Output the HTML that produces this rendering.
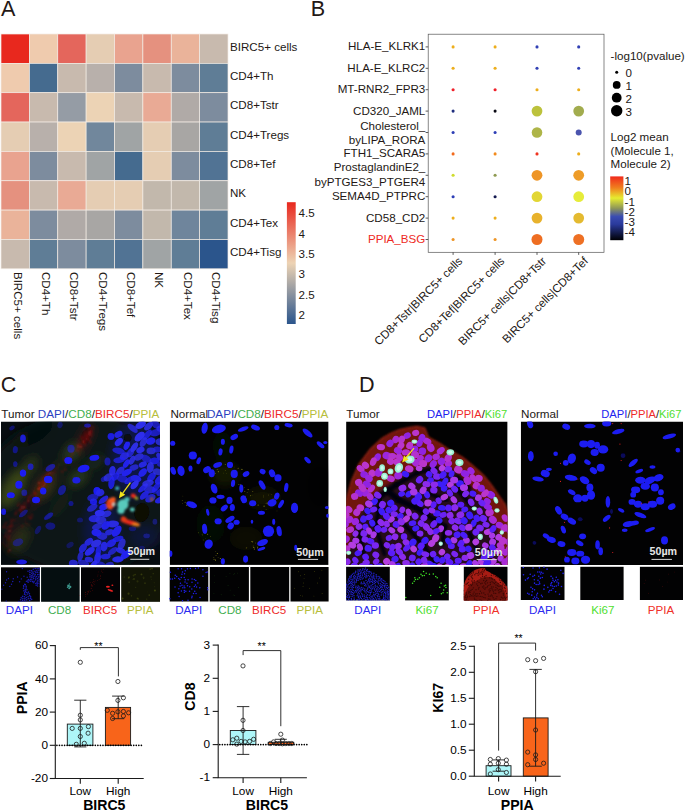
<!DOCTYPE html>
<html><head><meta charset="utf-8"><title>Figure</title>
<style>html,body{margin:0;padding:0;background:#fff}svg{display:block}text{font-family:"Liberation Sans",sans-serif}</style></head>
<body>
<svg width="685" height="812" viewBox="0 0 685 812">
<rect width="685" height="812" fill="#fff"/>
<text x="0.9" y="16.3" font-size="21.6" fill="#231815">A</text>
<g id="pa">
<rect x="1" y="34" width="28.38" height="29.35" fill="#E8281E" stroke="#f3ece4" stroke-width="0.7"/>
<rect x="29.38" y="34" width="28.38" height="29.35" fill="#EFCBAE" stroke="#f3ece4" stroke-width="0.7"/>
<rect x="57.75" y="34" width="28.38" height="29.35" fill="#E4665C" stroke="#f3ece4" stroke-width="0.7"/>
<rect x="86.12" y="34" width="28.38" height="29.35" fill="#E5CDB3" stroke="#f3ece4" stroke-width="0.7"/>
<rect x="114.5" y="34" width="28.38" height="29.35" fill="#E9A38F" stroke="#f3ece4" stroke-width="0.7"/>
<rect x="142.88" y="34" width="28.38" height="29.35" fill="#E5917F" stroke="#f3ece4" stroke-width="0.7"/>
<rect x="171.25" y="34" width="28.38" height="29.35" fill="#EAB39A" stroke="#f3ece4" stroke-width="0.7"/>
<rect x="199.62" y="34" width="28.38" height="29.35" fill="#C8BAAE" stroke="#f3ece4" stroke-width="0.7"/>
<rect x="1" y="63.35" width="28.38" height="29.35" fill="#EFCBAE" stroke="#f3ece4" stroke-width="0.7"/>
<rect x="29.38" y="63.35" width="28.38" height="29.35" fill="#456B8F" stroke="#f3ece4" stroke-width="0.7"/>
<rect x="57.75" y="63.35" width="28.38" height="29.35" fill="#C8BAAE" stroke="#f3ece4" stroke-width="0.7"/>
<rect x="86.12" y="63.35" width="28.38" height="29.35" fill="#B8B0AB" stroke="#f3ece4" stroke-width="0.7"/>
<rect x="114.5" y="63.35" width="28.38" height="29.35" fill="#7D8C9E" stroke="#f3ece4" stroke-width="0.7"/>
<rect x="142.88" y="63.35" width="28.38" height="29.35" fill="#C8BAAE" stroke="#f3ece4" stroke-width="0.7"/>
<rect x="171.25" y="63.35" width="28.38" height="29.35" fill="#7D8C9E" stroke="#f3ece4" stroke-width="0.7"/>
<rect x="199.62" y="63.35" width="28.38" height="29.35" fill="#5F7D96" stroke="#f3ece4" stroke-width="0.7"/>
<rect x="1" y="92.7" width="28.38" height="29.35" fill="#E4665C" stroke="#f3ece4" stroke-width="0.7"/>
<rect x="29.38" y="92.7" width="28.38" height="29.35" fill="#C8BAAE" stroke="#f3ece4" stroke-width="0.7"/>
<rect x="57.75" y="92.7" width="28.38" height="29.35" fill="#959CA5" stroke="#f3ece4" stroke-width="0.7"/>
<rect x="86.12" y="92.7" width="28.38" height="29.35" fill="#ECD3B5" stroke="#f3ece4" stroke-width="0.7"/>
<rect x="114.5" y="92.7" width="28.38" height="29.35" fill="#C8BAAE" stroke="#f3ece4" stroke-width="0.7"/>
<rect x="142.88" y="92.7" width="28.38" height="29.35" fill="#E9AA95" stroke="#f3ece4" stroke-width="0.7"/>
<rect x="171.25" y="92.7" width="28.38" height="29.35" fill="#B0AAA7" stroke="#f3ece4" stroke-width="0.7"/>
<rect x="199.62" y="92.7" width="28.38" height="29.35" fill="#7D8C9E" stroke="#f3ece4" stroke-width="0.7"/>
<rect x="1" y="122.05" width="28.38" height="29.35" fill="#E5CDB3" stroke="#f3ece4" stroke-width="0.7"/>
<rect x="29.38" y="122.05" width="28.38" height="29.35" fill="#B8B0AB" stroke="#f3ece4" stroke-width="0.7"/>
<rect x="57.75" y="122.05" width="28.38" height="29.35" fill="#ECD3B5" stroke="#f3ece4" stroke-width="0.7"/>
<rect x="86.12" y="122.05" width="28.38" height="29.35" fill="#71879C" stroke="#f3ece4" stroke-width="0.7"/>
<rect x="114.5" y="122.05" width="28.38" height="29.35" fill="#A0A4A5" stroke="#f3ece4" stroke-width="0.7"/>
<rect x="142.88" y="122.05" width="28.38" height="29.35" fill="#E5CDB3" stroke="#f3ece4" stroke-width="0.7"/>
<rect x="171.25" y="122.05" width="28.38" height="29.35" fill="#A8A6A4" stroke="#f3ece4" stroke-width="0.7"/>
<rect x="199.62" y="122.05" width="28.38" height="29.35" fill="#5F7D96" stroke="#f3ece4" stroke-width="0.7"/>
<rect x="1" y="151.4" width="28.38" height="29.35" fill="#E9A38F" stroke="#f3ece4" stroke-width="0.7"/>
<rect x="29.38" y="151.4" width="28.38" height="29.35" fill="#7D8C9E" stroke="#f3ece4" stroke-width="0.7"/>
<rect x="57.75" y="151.4" width="28.38" height="29.35" fill="#C8BAAE" stroke="#f3ece4" stroke-width="0.7"/>
<rect x="86.12" y="151.4" width="28.38" height="29.35" fill="#A0A4A5" stroke="#f3ece4" stroke-width="0.7"/>
<rect x="114.5" y="151.4" width="28.38" height="29.35" fill="#456B8F" stroke="#f3ece4" stroke-width="0.7"/>
<rect x="142.88" y="151.4" width="28.38" height="29.35" fill="#E5CDB3" stroke="#f3ece4" stroke-width="0.7"/>
<rect x="171.25" y="151.4" width="28.38" height="29.35" fill="#7D8C9E" stroke="#f3ece4" stroke-width="0.7"/>
<rect x="199.62" y="151.4" width="28.38" height="29.35" fill="#517394" stroke="#f3ece4" stroke-width="0.7"/>
<rect x="1" y="180.75" width="28.38" height="29.35" fill="#E5917F" stroke="#f3ece4" stroke-width="0.7"/>
<rect x="29.38" y="180.75" width="28.38" height="29.35" fill="#C8BAAE" stroke="#f3ece4" stroke-width="0.7"/>
<rect x="57.75" y="180.75" width="28.38" height="29.35" fill="#E9AA95" stroke="#f3ece4" stroke-width="0.7"/>
<rect x="86.12" y="180.75" width="28.38" height="29.35" fill="#E5CDB3" stroke="#f3ece4" stroke-width="0.7"/>
<rect x="114.5" y="180.75" width="28.38" height="29.35" fill="#E5CDB3" stroke="#f3ece4" stroke-width="0.7"/>
<rect x="142.88" y="180.75" width="28.38" height="29.35" fill="#C2B8AC" stroke="#f3ece4" stroke-width="0.7"/>
<rect x="171.25" y="180.75" width="28.38" height="29.35" fill="#C2B8AC" stroke="#f3ece4" stroke-width="0.7"/>
<rect x="199.62" y="180.75" width="28.38" height="29.35" fill="#A0A4A5" stroke="#f3ece4" stroke-width="0.7"/>
<rect x="1" y="210.1" width="28.38" height="29.35" fill="#EAB39A" stroke="#f3ece4" stroke-width="0.7"/>
<rect x="29.38" y="210.1" width="28.38" height="29.35" fill="#7D8C9E" stroke="#f3ece4" stroke-width="0.7"/>
<rect x="57.75" y="210.1" width="28.38" height="29.35" fill="#B0AAA7" stroke="#f3ece4" stroke-width="0.7"/>
<rect x="86.12" y="210.1" width="28.38" height="29.35" fill="#A8A6A4" stroke="#f3ece4" stroke-width="0.7"/>
<rect x="114.5" y="210.1" width="28.38" height="29.35" fill="#7D8C9E" stroke="#f3ece4" stroke-width="0.7"/>
<rect x="142.88" y="210.1" width="28.38" height="29.35" fill="#C2B8AC" stroke="#f3ece4" stroke-width="0.7"/>
<rect x="171.25" y="210.1" width="28.38" height="29.35" fill="#6F859C" stroke="#f3ece4" stroke-width="0.7"/>
<rect x="199.62" y="210.1" width="28.38" height="29.35" fill="#5F7D96" stroke="#f3ece4" stroke-width="0.7"/>
<rect x="1" y="239.45" width="28.38" height="29.35" fill="#C8BAAE" stroke="#f3ece4" stroke-width="0.7"/>
<rect x="29.38" y="239.45" width="28.38" height="29.35" fill="#5F7D96" stroke="#f3ece4" stroke-width="0.7"/>
<rect x="57.75" y="239.45" width="28.38" height="29.35" fill="#7D8C9E" stroke="#f3ece4" stroke-width="0.7"/>
<rect x="86.12" y="239.45" width="28.38" height="29.35" fill="#5F7D96" stroke="#f3ece4" stroke-width="0.7"/>
<rect x="114.5" y="239.45" width="28.38" height="29.35" fill="#517394" stroke="#f3ece4" stroke-width="0.7"/>
<rect x="142.88" y="239.45" width="28.38" height="29.35" fill="#A0A4A5" stroke="#f3ece4" stroke-width="0.7"/>
<rect x="171.25" y="239.45" width="28.38" height="29.35" fill="#5F7D96" stroke="#f3ece4" stroke-width="0.7"/>
<rect x="199.62" y="239.45" width="28.38" height="29.35" fill="#2B558C" stroke="#f3ece4" stroke-width="0.7"/>
<text x="230.0" y="50.62" font-size="11.6" fill="#231815">BIRC5+ cells</text>
<text x="230.0" y="79.98" font-size="11.6" fill="#231815">CD4+Th</text>
<text x="230.0" y="109.33" font-size="11.6" fill="#231815">CD8+Tstr</text>
<text x="230.0" y="138.68" font-size="11.6" fill="#231815">CD4+Tregs</text>
<text x="230.0" y="168.03" font-size="11.6" fill="#231815">CD8+Tef</text>
<text x="230.0" y="197.38" font-size="11.6" fill="#231815">NK</text>
<text x="230.0" y="226.72" font-size="11.6" fill="#231815">CD4+Tex</text>
<text x="230.0" y="256.07" font-size="11.6" fill="#231815">CD4+Tisg</text>
<text transform="translate(13.59,271.9) rotate(90)" font-size="11.6" fill="#231815">BIRC5+ cells</text>
<text transform="translate(41.96,271.9) rotate(90)" font-size="11.6" fill="#231815">CD4+Th</text>
<text transform="translate(70.34,271.9) rotate(90)" font-size="11.6" fill="#231815">CD8+Tstr</text>
<text transform="translate(98.71,271.9) rotate(90)" font-size="11.6" fill="#231815">CD4+Tregs</text>
<text transform="translate(127.09,271.9) rotate(90)" font-size="11.6" fill="#231815">CD8+Tef</text>
<text transform="translate(155.46,271.9) rotate(90)" font-size="11.6" fill="#231815">NK</text>
<text transform="translate(183.84,271.9) rotate(90)" font-size="11.6" fill="#231815">CD4+Tex</text>
<text transform="translate(212.21,271.9) rotate(90)" font-size="11.6" fill="#231815">CD4+Tisg</text>
<defs><linearGradient id="hg" x1="0" y1="0" x2="0" y2="1"><stop offset="0" stop-color="#E8281E"/><stop offset="0.5" stop-color="#EDD3B4"/><stop offset="1" stop-color="#2B558C"/></linearGradient></defs>
<rect x="286.9" y="202.2" width="8.8" height="121.8" fill="url(#hg)"/>
<text x="298.6" y="217.4" font-size="11.6" fill="#231815">4.5</text>
<text x="298.6" y="237.7" font-size="11.6" fill="#231815">4</text>
<text x="298.6" y="258.1" font-size="11.6" fill="#231815">3.5</text>
<text x="298.6" y="278.4" font-size="11.6" fill="#231815">3</text>
<text x="298.6" y="298.8" font-size="11.6" fill="#231815">2.5</text>
<text x="298.6" y="319.1" font-size="11.6" fill="#231815">2</text>
</g>
<text x="310.8" y="16.3" font-size="21.6" fill="#231815">B</text>
<g id="pb">
<rect x="428.2" y="34.2" width="175.8" height="218.1" fill="#fff" stroke="#555" stroke-width="0.7"/>
<line x1="425.59999999999997" y1="46.9" x2="428.2" y2="46.9" stroke="#333" stroke-width="0.8"/>
<text x="425.3" y="50.3" font-size="11.6" text-anchor="end" fill="#231815">HLA-E_KLRK1</text>
<line x1="425.59999999999997" y1="68.3" x2="428.2" y2="68.3" stroke="#333" stroke-width="0.8"/>
<text x="425.3" y="71.7" font-size="11.6" text-anchor="end" fill="#231815">HLA-E_KLRC2</text>
<line x1="425.59999999999997" y1="89.7" x2="428.2" y2="89.7" stroke="#333" stroke-width="0.8"/>
<text x="425.3" y="93.1" font-size="11.6" text-anchor="end" fill="#231815">MT-RNR2_FPR3</text>
<line x1="425.59999999999997" y1="111.1" x2="428.2" y2="111.1" stroke="#333" stroke-width="0.8"/>
<text x="425.3" y="114.5" font-size="11.6" text-anchor="end" fill="#231815">CD320_JAML</text>
<line x1="425.59999999999997" y1="132.5" x2="428.2" y2="132.5" stroke="#333" stroke-width="0.8"/>
<text x="425.3" y="130.2" font-size="11.6" text-anchor="end" fill="#231815">Cholesterol_</text>
<text x="425.3" y="143.8" font-size="11.6" text-anchor="end" fill="#231815">byLIPA_RORA</text>
<line x1="425.59999999999997" y1="153.9" x2="428.2" y2="153.9" stroke="#333" stroke-width="0.8"/>
<text x="425.3" y="157.3" font-size="11.6" text-anchor="end" fill="#231815">FTH1_SCARA5</text>
<line x1="425.59999999999997" y1="175.3" x2="428.2" y2="175.3" stroke="#333" stroke-width="0.8"/>
<text x="425.3" y="171.1" font-size="11.6" text-anchor="end" fill="#231815">ProstaglandinE2_</text>
<text x="425.3" y="186" font-size="11.6" text-anchor="end" fill="#231815">byPTGES3_PTGER4</text>
<line x1="425.59999999999997" y1="196.7" x2="428.2" y2="196.7" stroke="#333" stroke-width="0.8"/>
<text x="425.3" y="200.1" font-size="11.6" text-anchor="end" fill="#231815">SEMA4D_PTPRC</text>
<line x1="425.59999999999997" y1="218.1" x2="428.2" y2="218.1" stroke="#333" stroke-width="0.8"/>
<text x="425.3" y="221.5" font-size="11.6" text-anchor="end" fill="#231815">CD58_CD2</text>
<line x1="425.59999999999997" y1="239.5" x2="428.2" y2="239.5" stroke="#333" stroke-width="0.8"/>
<text x="425.3" y="242.9" font-size="11.6" text-anchor="end" fill="#EE2A24">PPIA_BSG</text>
<circle cx="453.1" cy="46.9" r="1.55" fill="#EDAE1C"/>
<circle cx="495.1" cy="46.9" r="1.55" fill="#EDAE1C"/>
<circle cx="537" cy="46.9" r="1.55" fill="#3140B4"/>
<circle cx="578.7" cy="46.9" r="1.55" fill="#3140B4"/>
<circle cx="453.1" cy="68.3" r="1.55" fill="#EDAE1C"/>
<circle cx="495.1" cy="68.3" r="1.55" fill="#EDAE1C"/>
<circle cx="537" cy="68.3" r="1.55" fill="#3140B4"/>
<circle cx="578.7" cy="68.3" r="1.55" fill="#3140B4"/>
<circle cx="453.1" cy="89.7" r="1.55" fill="#F0202A"/>
<circle cx="495.1" cy="89.7" r="1.55" fill="#F0202A"/>
<circle cx="537" cy="89.7" r="1.55" fill="#EDAE1C"/>
<circle cx="578.7" cy="89.7" r="1.55" fill="#EDAE1C"/>
<circle cx="453.1" cy="111.1" r="1.55" fill="#1F2E7E"/>
<circle cx="495.1" cy="111.1" r="1.55" fill="#0A0A14"/>
<circle cx="537" cy="111.1" r="5.4" fill="#BCC23C"/>
<circle cx="578.7" cy="111.1" r="5.4" fill="#A2AC4E"/>
<circle cx="453.1" cy="132.5" r="1.55" fill="#2E3FB6"/>
<circle cx="495.1" cy="132.5" r="1.55" fill="#2E3FB6"/>
<circle cx="537" cy="132.5" r="5.3" fill="#AEB548"/>
<circle cx="578.7" cy="132.5" r="3.0" fill="#4B54AE"/>
<circle cx="453.1" cy="153.9" r="1.55" fill="#F26A1C"/>
<circle cx="495.1" cy="153.9" r="1.55" fill="#F28A1C"/>
<circle cx="537" cy="153.9" r="1.55" fill="#F03420"/>
<circle cx="578.7" cy="153.9" r="1.55" fill="#EDAE1C"/>
<circle cx="453.1" cy="175.3" r="1.55" fill="#CFDC2E"/>
<circle cx="495.1" cy="175.3" r="1.55" fill="#8F9A52"/>
<circle cx="537" cy="175.3" r="5.4" fill="#EE9526"/>
<circle cx="578.7" cy="175.3" r="5.4" fill="#EE9C28"/>
<circle cx="453.1" cy="196.7" r="1.55" fill="#2E3FB6"/>
<circle cx="495.1" cy="196.7" r="1.55" fill="#141A50"/>
<circle cx="537" cy="196.7" r="5.4" fill="#E2D634"/>
<circle cx="578.7" cy="196.7" r="5.4" fill="#E6EC3A"/>
<circle cx="453.1" cy="218.1" r="1.55" fill="#EDAE1C"/>
<circle cx="495.1" cy="218.1" r="1.55" fill="#EDAE1C"/>
<circle cx="537" cy="218.1" r="5.4" fill="#E8B22C"/>
<circle cx="578.7" cy="218.1" r="5.4" fill="#E4BA30"/>
<circle cx="453.1" cy="239.5" r="1.55" fill="#EE9526"/>
<circle cx="495.1" cy="239.5" r="1.55" fill="#EE9526"/>
<circle cx="537" cy="239.5" r="5.5" fill="#EE6E22"/>
<circle cx="578.7" cy="239.5" r="5.5" fill="#EE7024"/>
<line x1="453.1" y1="252.3" x2="453.1" y2="254.9" stroke="#333" stroke-width="0.8"/>
<text transform="translate(463.2,261.8) rotate(-45)" font-size="11.6" text-anchor="end" fill="#231815">CD8+Tstr|BIRC5+ cells</text>
<line x1="495.1" y1="252.3" x2="495.1" y2="254.9" stroke="#333" stroke-width="0.8"/>
<text transform="translate(505.2,261.8) rotate(-45)" font-size="11.6" text-anchor="end" fill="#231815">CD8+Tef|BIRC5+ cells</text>
<line x1="537" y1="252.3" x2="537" y2="254.9" stroke="#333" stroke-width="0.8"/>
<text transform="translate(547.1,261.8) rotate(-45)" font-size="11.6" text-anchor="end" fill="#231815">BIRC5+ cells|CD8+Tstr</text>
<line x1="578.7" y1="252.3" x2="578.7" y2="254.9" stroke="#333" stroke-width="0.8"/>
<text transform="translate(588.8,261.8) rotate(-45)" font-size="11.6" text-anchor="end" fill="#231815">BIRC5+ cells|CD8+Tef</text>
<text x="610.6" y="59.7" font-size="11.6" fill="#231815">-log10(pvalue)</text>
<circle cx="616.7" cy="72.3" r="1.5" fill="#000"/>
<text x="625.6" y="77.3" font-size="11.6" fill="#231815">0</text>
<circle cx="616.7" cy="84.9" r="3.9" fill="#000"/>
<text x="625.6" y="89.9" font-size="11.6" fill="#231815">1</text>
<circle cx="616.7" cy="97.7" r="4.9" fill="#000"/>
<text x="625.6" y="102.7" font-size="11.6" fill="#231815">2</text>
<circle cx="616.7" cy="110.8" r="5.7" fill="#000"/>
<text x="625.6" y="115.8" font-size="11.6" fill="#231815">3</text>
<text x="610.6" y="140.5" font-size="11.6" fill="#231815">Log2 mean</text>
<text x="610.6" y="154.5" font-size="11.6" fill="#231815">(Molecule 1,</text>
<text x="610.6" y="168.4" font-size="11.6" fill="#231815">Molecule 2)</text>
<defs><linearGradient id="bg2" x1="0" y1="0" x2="0" y2="1"><stop offset="0" stop-color="#F02A1C"/><stop offset="0.18" stop-color="#F0801E"/><stop offset="0.34" stop-color="#E6EC30"/><stop offset="0.50" stop-color="#8E9658"/><stop offset="0.63" stop-color="#3A4CB2"/><stop offset="0.75" stop-color="#2A3A9C"/><stop offset="0.88" stop-color="#141C4C"/><stop offset="1" stop-color="#000004"/></linearGradient></defs>
<rect x="610.2" y="176.4" width="13.2" height="63.8" fill="url(#bg2)"/>
<text x="624.6" y="185.2" font-size="11.6" fill="#231815">1</text>
<text x="624.6" y="195.4" font-size="11.6" fill="#231815">0</text>
<text x="624.6" y="205.5" font-size="11.6" fill="#231815">-1</text>
<text x="624.6" y="215.6" font-size="11.6" fill="#231815">-2</text>
<text x="624.6" y="225.8" font-size="11.6" fill="#231815">-3</text>
<text x="624.6" y="235.9" font-size="11.6" fill="#231815">-4</text>
</g>
<text x="0.7" y="392.1" font-size="21.6" fill="#231815">C</text>
<text x="359" y="392" font-size="21.6" fill="#231815">D</text>
<defs><filter id="b1" x="-20%" y="-20%" width="140%" height="140%"><feGaussianBlur stdDeviation="0.55"/></filter><filter id="b2" x="-30%" y="-30%" width="160%" height="160%"><feGaussianBlur stdDeviation="1.6"/></filter><filter id="b3" x="-30%" y="-30%" width="160%" height="160%"><feGaussianBlur stdDeviation="5"/></filter><filter id="b0" x="-20%" y="-20%" width="140%" height="140%"><feGaussianBlur stdDeviation="0.8"/></filter></defs>
<text x="1.2" y="417.8" font-size="11.7" xml:space="preserve"><tspan fill="#231815">Tumor </tspan><tspan fill="#2B3FBF">DAPI</tspan><tspan fill="#231815">/</tspan><tspan fill="#3FAE4F">CD8</tspan><tspan fill="#231815">/</tspan><tspan fill="#EE2A2A">BIRC5</tspan><tspan fill="#231815">/</tspan><tspan fill="#B7BE3C">PPIA</tspan></text>
<defs><clipPath id="cct"><rect x="1" y="421.5" width="159" height="143.4"/></clipPath></defs>
<g clip-path="url(#cct)"><rect x="1.0" y="421.5" width="159.0" height="143.4" fill="#070d10"/>
<g filter="url(#b3)">
<ellipse cx="80" cy="493" rx="95" ry="80" fill="#0a1618" opacity="0.9"/>
<ellipse cx="13" cy="488" rx="8" ry="20" fill="#566414" opacity="0.65" transform="rotate(30 13 488)"/>
<ellipse cx="44" cy="487" rx="7" ry="15" fill="#5a5a14" opacity="0.6" transform="rotate(35 44 487)"/>
<ellipse cx="30" cy="466" rx="5" ry="10" fill="#4a5414" opacity="0.55" transform="rotate(35 30 466)"/>
<ellipse cx="72" cy="452" rx="6" ry="10" fill="#46562a" opacity="0.6" transform="rotate(40 72 452)"/>
<ellipse cx="78" cy="478" rx="6" ry="11" fill="#46561e" opacity="0.55" transform="rotate(50 78 478)"/>
<ellipse cx="19" cy="540" rx="8" ry="15" fill="#3c4210" opacity="0.55" transform="rotate(30 19 540)"/>
<ellipse cx="22" cy="440" rx="5" ry="10" fill="#34441c" opacity="0.55" transform="rotate(30 22 440)"/>
<ellipse cx="95" cy="462" rx="5" ry="10" fill="#2c3c22" opacity="0.5" transform="rotate(50 95 462)"/>
<ellipse cx="56" cy="470" rx="4" ry="14" fill="#2c3a14" opacity="0.5" transform="rotate(35 56 470)"/>
<ellipse cx="60" cy="505" rx="5" ry="16" fill="#1e2a10" opacity="0.5" transform="rotate(35 60 505)"/>
<ellipse cx="136" cy="460" rx="24" ry="38" fill="#121a58" opacity="0.7"/>
<ellipse cx="102" cy="531" rx="17" ry="31" fill="#121a58" opacity="0.7"/>
<ellipse cx="145" cy="537" rx="16" ry="12" fill="#101848" opacity="0.6"/>
<ellipse cx="33" cy="434" rx="9" ry="22" fill="#04080a" opacity="0.6" transform="rotate(60 33 434)"/>
<ellipse cx="85" cy="438" rx="5" ry="15" fill="#5a0e0c" opacity="0.5" transform="rotate(25 85 438)"/>
<ellipse cx="40" cy="490" rx="5" ry="28" fill="#4a0c0c" opacity="0.4" transform="rotate(35 40 490)"/>
<ellipse cx="13" cy="532" rx="5" ry="18" fill="#440c0c" opacity="0.35" transform="rotate(30 13 532)"/>
</g>
<g filter="url(#b0)">
<circle cx="88.85" cy="438.76" r="0.38" fill="#d81818" opacity="0.64"/>
<circle cx="88.93" cy="437.82" r="0.37" fill="#d81818" opacity="0.6"/>
<circle cx="92.24" cy="432.21" r="0.72" fill="#d81818" opacity="0.46"/>
<circle cx="84.16" cy="429.82" r="0.61" fill="#d81818" opacity="0.58"/>
<circle cx="82.84" cy="450.44" r="0.48" fill="#d81818" opacity="0.46"/>
<circle cx="87.96" cy="435.89" r="0.43" fill="#d81818" opacity="0.66"/>
<circle cx="80.68" cy="444.45" r="0.38" fill="#d81818" opacity="0.43"/>
<circle cx="87.32" cy="431.34" r="0.49" fill="#d81818" opacity="0.66"/>
<circle cx="83.87" cy="442.57" r="0.66" fill="#d81818" opacity="0.51"/>
<circle cx="78.82" cy="440.25" r="0.68" fill="#d81818" opacity="0.53"/>
<circle cx="80.12" cy="450.83" r="0.69" fill="#d81818" opacity="0.47"/>
<circle cx="88.11" cy="440.15" r="0.69" fill="#d81818" opacity="0.66"/>
<circle cx="78.25" cy="450.42" r="0.62" fill="#d81818" opacity="0.66"/>
<circle cx="88.17" cy="433.83" r="0.56" fill="#d81818" opacity="0.7"/>
<circle cx="89.25" cy="427.42" r="0.8" fill="#d81818" opacity="0.77"/>
<circle cx="84.71" cy="437.49" r="0.36" fill="#d81818" opacity="0.61"/>
<circle cx="89.48" cy="433.39" r="0.7" fill="#d81818" opacity="0.46"/>
<circle cx="84.13" cy="437.47" r="0.39" fill="#d81818" opacity="0.6"/>
<circle cx="87.16" cy="437.58" r="0.74" fill="#d81818" opacity="0.53"/>
<circle cx="82.56" cy="441.62" r="0.78" fill="#d81818" opacity="0.47"/>
<circle cx="88.96" cy="434.72" r="0.57" fill="#d81818" opacity="0.67"/>
<circle cx="90.11" cy="434.81" r="0.52" fill="#d81818" opacity="0.65"/>
<circle cx="77.62" cy="445.97" r="0.63" fill="#d81818" opacity="0.7"/>
<circle cx="93.68" cy="428.12" r="0.74" fill="#d81818" opacity="0.76"/>
<circle cx="85.06" cy="438" r="0.64" fill="#d81818" opacity="0.43"/>
<circle cx="90.54" cy="432.18" r="0.5" fill="#d81818" opacity="0.42"/>
<circle cx="91.69" cy="430.36" r="0.51" fill="#d81818" opacity="0.41"/>
<circle cx="78.67" cy="446.16" r="0.46" fill="#d81818" opacity="0.56"/>
<circle cx="89.62" cy="439.99" r="0.8" fill="#d81818" opacity="0.61"/>
<circle cx="85.71" cy="439.75" r="0.5" fill="#d81818" opacity="0.52"/>
<circle cx="80.55" cy="446.56" r="0.78" fill="#d81818" opacity="0.64"/>
<circle cx="88.62" cy="432.26" r="0.59" fill="#d81818" opacity="0.84"/>
<circle cx="79.22" cy="445.08" r="0.52" fill="#d81818" opacity="0.48"/>
<circle cx="76.99" cy="444.14" r="0.5" fill="#d81818" opacity="0.5"/>
<circle cx="85.11" cy="445.34" r="0.71" fill="#d81818" opacity="0.77"/>
<circle cx="81.85" cy="447.16" r="0.51" fill="#d81818" opacity="0.41"/>
<circle cx="90.36" cy="431.82" r="0.66" fill="#d81818" opacity="0.83"/>
<circle cx="91.74" cy="435.74" r="0.78" fill="#d81818" opacity="0.56"/>
<circle cx="88.42" cy="435.44" r="0.44" fill="#d81818" opacity="0.68"/>
<circle cx="80.8" cy="445.28" r="0.64" fill="#d81818" opacity="0.76"/>
<circle cx="87.19" cy="426.77" r="0.7" fill="#d81818" opacity="0.74"/>
<circle cx="86.65" cy="442.83" r="0.5" fill="#d81818" opacity="0.76"/>
<circle cx="76.52" cy="450.45" r="0.78" fill="#d81818" opacity="0.73"/>
<circle cx="89.79" cy="433.85" r="0.76" fill="#d81818" opacity="0.76"/>
<circle cx="92.22" cy="426.52" r="0.65" fill="#d81818" opacity="0.56"/>
<circle cx="84.19" cy="440.78" r="0.79" fill="#d81818" opacity="0.69"/>
<circle cx="86.52" cy="439.03" r="0.74" fill="#d81818" opacity="0.77"/>
<circle cx="88.29" cy="435.67" r="0.46" fill="#d81818" opacity="0.66"/>
<circle cx="86.59" cy="435.29" r="0.76" fill="#d81818" opacity="0.56"/>
<circle cx="80.66" cy="436.11" r="0.54" fill="#d81818" opacity="0.81"/>
<circle cx="81.71" cy="438.97" r="0.36" fill="#d81818" opacity="0.6"/>
<circle cx="92.91" cy="433.25" r="0.43" fill="#d81818" opacity="0.61"/>
<circle cx="79.66" cy="443.31" r="0.58" fill="#d81818" opacity="0.65"/>
<circle cx="83.24" cy="447.1" r="0.46" fill="#d81818" opacity="0.52"/>
<circle cx="77.98" cy="444.84" r="0.69" fill="#d81818" opacity="0.81"/>
<circle cx="83.16" cy="436.55" r="0.58" fill="#d81818" opacity="0.71"/>
<circle cx="82.54" cy="437.99" r="0.77" fill="#d81818" opacity="0.71"/>
<circle cx="81.37" cy="446.43" r="0.6" fill="#d81818" opacity="0.82"/>
<circle cx="80.92" cy="447.26" r="0.55" fill="#d81818" opacity="0.43"/>
<circle cx="91.08" cy="435.86" r="0.7" fill="#d81818" opacity="0.8"/>
<circle cx="88.32" cy="429.17" r="0.41" fill="#d81818" opacity="0.8"/>
<circle cx="79.58" cy="454.64" r="0.53" fill="#d81818" opacity="0.62"/>
<circle cx="78.88" cy="448.14" r="0.54" fill="#d81818" opacity="0.63"/>
<circle cx="87.34" cy="438.23" r="0.67" fill="#d81818" opacity="0.41"/>
<circle cx="83.43" cy="440.76" r="0.5" fill="#d81818" opacity="0.68"/>
<circle cx="90.7" cy="442.46" r="0.7" fill="#d81818" opacity="0.84"/>
<circle cx="89.63" cy="432.24" r="0.7" fill="#d81818" opacity="0.52"/>
<circle cx="84.78" cy="434.51" r="0.72" fill="#d81818" opacity="0.52"/>
<circle cx="91.8" cy="430.97" r="0.67" fill="#d81818" opacity="0.44"/>
<circle cx="89.37" cy="428.31" r="0.38" fill="#d81818" opacity="0.82"/>
<circle cx="83.12" cy="441.28" r="0.74" fill="#d81818" opacity="0.43"/>
<circle cx="77.77" cy="447.42" r="0.6" fill="#d81818" opacity="0.82"/>
<circle cx="89.57" cy="436.95" r="0.46" fill="#d81818" opacity="0.45"/>
<circle cx="90.47" cy="433.2" r="0.49" fill="#d81818" opacity="0.54"/>
<circle cx="80.49" cy="447.43" r="0.43" fill="#d81818" opacity="0.56"/>
<circle cx="90.82" cy="430.24" r="0.68" fill="#d81818" opacity="0.65"/>
<circle cx="83.14" cy="434.14" r="0.4" fill="#d81818" opacity="0.77"/>
<circle cx="80.95" cy="438.29" r="0.53" fill="#d81818" opacity="0.63"/>
<circle cx="84.27" cy="443.05" r="0.72" fill="#d81818" opacity="0.72"/>
<circle cx="80.98" cy="443.48" r="0.37" fill="#d81818" opacity="0.46"/>
<circle cx="90.04" cy="429.07" r="0.42" fill="#d81818" opacity="0.44"/>
<circle cx="82.54" cy="443.81" r="0.48" fill="#d81818" opacity="0.51"/>
<circle cx="85.91" cy="435.7" r="0.55" fill="#d81818" opacity="0.52"/>
<circle cx="81.48" cy="448.29" r="0.46" fill="#d81818" opacity="0.83"/>
<circle cx="86.96" cy="435.77" r="0.52" fill="#d81818" opacity="0.61"/>
<circle cx="85.37" cy="442.24" r="0.35" fill="#d81818" opacity="0.52"/>
<circle cx="89.34" cy="431.67" r="0.36" fill="#d81818" opacity="0.54"/>
<circle cx="85.54" cy="432.65" r="0.69" fill="#d81818" opacity="0.7"/>
<circle cx="83.45" cy="442.24" r="0.5" fill="#d81818" opacity="0.84"/>
<circle cx="88.57" cy="429.11" r="0.37" fill="#d81818" opacity="0.78"/>
<circle cx="58.76" cy="465.01" r="0.72" fill="#d81818" opacity="0.46"/>
<circle cx="64.1" cy="459.98" r="0.71" fill="#d81818" opacity="0.77"/>
<circle cx="69.52" cy="459.29" r="0.66" fill="#d81818" opacity="0.5"/>
<circle cx="78.81" cy="451.69" r="0.4" fill="#d81818" opacity="0.78"/>
<circle cx="65.41" cy="458.65" r="0.66" fill="#d81818" opacity="0.62"/>
<circle cx="79.03" cy="446.25" r="0.58" fill="#d81818" opacity="0.64"/>
<circle cx="68.76" cy="464.22" r="0.46" fill="#d81818" opacity="0.43"/>
<circle cx="72.84" cy="453.47" r="0.68" fill="#d81818" opacity="0.84"/>
<circle cx="66.91" cy="461.13" r="0.66" fill="#d81818" opacity="0.75"/>
<circle cx="65.84" cy="461.3" r="0.42" fill="#d81818" opacity="0.51"/>
<circle cx="63.06" cy="467.1" r="0.36" fill="#d81818" opacity="0.43"/>
<circle cx="71.43" cy="452.09" r="0.65" fill="#d81818" opacity="0.53"/>
<circle cx="65.95" cy="460.47" r="0.4" fill="#d81818" opacity="0.8"/>
<circle cx="79.23" cy="452.89" r="0.36" fill="#d81818" opacity="0.61"/>
<circle cx="64.82" cy="465.59" r="0.47" fill="#d81818" opacity="0.49"/>
<circle cx="60.85" cy="471.3" r="0.41" fill="#d81818" opacity="0.64"/>
<circle cx="62.68" cy="471.64" r="0.58" fill="#d81818" opacity="0.8"/>
<circle cx="65.27" cy="468.22" r="0.57" fill="#d81818" opacity="0.41"/>
<circle cx="75.66" cy="449.76" r="0.49" fill="#d81818" opacity="0.46"/>
<circle cx="69.9" cy="460.21" r="0.35" fill="#d81818" opacity="0.74"/>
<circle cx="65.72" cy="469.76" r="0.67" fill="#d81818" opacity="0.81"/>
<circle cx="71.09" cy="456.92" r="0.8" fill="#d81818" opacity="0.67"/>
<circle cx="69.69" cy="457.56" r="0.37" fill="#d81818" opacity="0.45"/>
<circle cx="61.15" cy="471.21" r="0.46" fill="#d81818" opacity="0.52"/>
<circle cx="69.14" cy="461.75" r="0.78" fill="#d81818" opacity="0.8"/>
<circle cx="25.27" cy="495.99" r="0.77" fill="#d81818" opacity="0.65"/>
<circle cx="34.71" cy="497.11" r="0.55" fill="#d81818" opacity="0.74"/>
<circle cx="33.67" cy="493.95" r="0.77" fill="#d81818" opacity="0.46"/>
<circle cx="38.33" cy="488.47" r="0.68" fill="#d81818" opacity="0.84"/>
<circle cx="45.09" cy="477.71" r="0.6" fill="#d81818" opacity="0.58"/>
<circle cx="49.82" cy="477.04" r="0.76" fill="#d81818" opacity="0.62"/>
<circle cx="53.32" cy="473.76" r="0.55" fill="#d81818" opacity="0.46"/>
<circle cx="49.9" cy="477.77" r="0.39" fill="#d81818" opacity="0.51"/>
<circle cx="42.12" cy="477.26" r="0.69" fill="#d81818" opacity="0.59"/>
<circle cx="39.14" cy="484.53" r="0.5" fill="#d81818" opacity="0.43"/>
<circle cx="46.62" cy="479.62" r="0.58" fill="#d81818" opacity="0.68"/>
<circle cx="27.21" cy="502.96" r="0.46" fill="#d81818" opacity="0.58"/>
<circle cx="44.13" cy="484.83" r="0.74" fill="#d81818" opacity="0.41"/>
<circle cx="52.23" cy="466.47" r="0.56" fill="#d81818" opacity="0.66"/>
<circle cx="50.61" cy="472.74" r="0.72" fill="#d81818" opacity="0.78"/>
<circle cx="23.37" cy="506.33" r="0.42" fill="#d81818" opacity="0.64"/>
<circle cx="35.8" cy="493.45" r="0.64" fill="#d81818" opacity="0.74"/>
<circle cx="39.22" cy="486.24" r="0.7" fill="#d81818" opacity="0.5"/>
<circle cx="23.92" cy="501.96" r="0.41" fill="#d81818" opacity="0.51"/>
<circle cx="33.75" cy="492.01" r="0.38" fill="#d81818" opacity="0.64"/>
<circle cx="34.63" cy="492.02" r="0.62" fill="#d81818" opacity="0.4"/>
<circle cx="39.56" cy="482.04" r="0.64" fill="#d81818" opacity="0.8"/>
<circle cx="39.38" cy="488.69" r="0.78" fill="#d81818" opacity="0.72"/>
<circle cx="47.06" cy="481.28" r="0.65" fill="#d81818" opacity="0.59"/>
<circle cx="43.78" cy="474.89" r="0.45" fill="#d81818" opacity="0.42"/>
<circle cx="40.77" cy="483.61" r="0.44" fill="#d81818" opacity="0.76"/>
<circle cx="29.36" cy="496.72" r="0.79" fill="#d81818" opacity="0.54"/>
<circle cx="28.4" cy="501.23" r="0.69" fill="#d81818" opacity="0.53"/>
<circle cx="22.63" cy="504.6" r="0.45" fill="#d81818" opacity="0.59"/>
<circle cx="34.29" cy="493.68" r="0.53" fill="#d81818" opacity="0.5"/>
<circle cx="23.73" cy="505.92" r="0.38" fill="#d81818" opacity="0.58"/>
<circle cx="28.29" cy="500.29" r="0.8" fill="#d81818" opacity="0.82"/>
<circle cx="45.85" cy="486.32" r="0.69" fill="#d81818" opacity="0.41"/>
<circle cx="31.69" cy="495.45" r="0.5" fill="#d81818" opacity="0.48"/>
<circle cx="53.94" cy="471.72" r="0.78" fill="#d81818" opacity="0.46"/>
<circle cx="24.14" cy="506.95" r="0.72" fill="#d81818" opacity="0.77"/>
<circle cx="42.89" cy="486.26" r="0.52" fill="#d81818" opacity="0.81"/>
<circle cx="45.25" cy="480.16" r="0.36" fill="#d81818" opacity="0.58"/>
<circle cx="28.54" cy="498.82" r="0.37" fill="#d81818" opacity="0.43"/>
<circle cx="24.87" cy="506.93" r="0.75" fill="#d81818" opacity="0.55"/>
<circle cx="48.55" cy="478.88" r="0.47" fill="#d81818" opacity="0.72"/>
<circle cx="44.26" cy="481.45" r="0.69" fill="#d81818" opacity="0.81"/>
<circle cx="34.6" cy="492.75" r="0.46" fill="#d81818" opacity="0.61"/>
<circle cx="25.87" cy="504.14" r="0.46" fill="#d81818" opacity="0.59"/>
<circle cx="39.86" cy="487.17" r="0.71" fill="#d81818" opacity="0.73"/>
<circle cx="28.54" cy="496.95" r="0.5" fill="#d81818" opacity="0.54"/>
<circle cx="43.02" cy="482.09" r="0.44" fill="#d81818" opacity="0.74"/>
<circle cx="47.02" cy="478.96" r="0.6" fill="#d81818" opacity="0.55"/>
<circle cx="27.8" cy="501.38" r="0.47" fill="#d81818" opacity="0.44"/>
<circle cx="47.97" cy="473.24" r="0.55" fill="#d81818" opacity="0.51"/>
<circle cx="38.77" cy="482.76" r="0.69" fill="#d81818" opacity="0.78"/>
<circle cx="36.14" cy="496.84" r="0.48" fill="#d81818" opacity="0.66"/>
<circle cx="42.38" cy="481.93" r="0.46" fill="#d81818" opacity="0.51"/>
<circle cx="51.59" cy="473.43" r="0.5" fill="#d81818" opacity="0.58"/>
<circle cx="21.17" cy="505.98" r="0.71" fill="#d81818" opacity="0.69"/>
<circle cx="24.69" cy="507.45" r="0.72" fill="#d81818" opacity="0.78"/>
<circle cx="26.92" cy="503.64" r="0.4" fill="#d81818" opacity="0.49"/>
<circle cx="19.08" cy="502.89" r="0.52" fill="#d81818" opacity="0.79"/>
<circle cx="39.83" cy="489.82" r="0.78" fill="#d81818" opacity="0.45"/>
<circle cx="34.28" cy="490.5" r="0.52" fill="#d81818" opacity="0.46"/>
<circle cx="47.8" cy="480.02" r="0.64" fill="#d81818" opacity="0.49"/>
<circle cx="52.54" cy="472.92" r="0.43" fill="#d81818" opacity="0.54"/>
<circle cx="48.66" cy="474.55" r="0.38" fill="#d81818" opacity="0.45"/>
<circle cx="38.89" cy="483.22" r="0.39" fill="#d81818" opacity="0.47"/>
<circle cx="30.73" cy="496.1" r="0.49" fill="#d81818" opacity="0.83"/>
<circle cx="42.6" cy="480.31" r="0.54" fill="#d81818" opacity="0.79"/>
<circle cx="21.65" cy="507.27" r="0.68" fill="#d81818" opacity="0.49"/>
<circle cx="56.03" cy="468.59" r="0.72" fill="#d81818" opacity="0.58"/>
<circle cx="24.98" cy="502.34" r="0.36" fill="#d81818" opacity="0.65"/>
<circle cx="34.72" cy="492.66" r="0.63" fill="#d81818" opacity="0.57"/>
<circle cx="39.35" cy="489.54" r="0.58" fill="#d81818" opacity="0.82"/>
<circle cx="47.08" cy="473.89" r="0.79" fill="#d81818" opacity="0.49"/>
<circle cx="55.79" cy="472.28" r="0.57" fill="#d81818" opacity="0.42"/>
<circle cx="21.31" cy="506.61" r="0.63" fill="#d81818" opacity="0.77"/>
<circle cx="49.62" cy="474.07" r="0.53" fill="#d81818" opacity="0.78"/>
<circle cx="28.53" cy="501.43" r="0.53" fill="#d81818" opacity="0.63"/>
<circle cx="43.3" cy="484.85" r="0.68" fill="#d81818" opacity="0.8"/>
<circle cx="49.78" cy="469.81" r="0.37" fill="#d81818" opacity="0.78"/>
<circle cx="48.46" cy="472.41" r="0.63" fill="#d81818" opacity="0.54"/>
<circle cx="39.04" cy="483.96" r="0.65" fill="#d81818" opacity="0.6"/>
<circle cx="43.33" cy="486.17" r="0.57" fill="#d81818" opacity="0.51"/>
<circle cx="30.46" cy="495.35" r="0.43" fill="#d81818" opacity="0.61"/>
<circle cx="52.54" cy="475.23" r="0.39" fill="#d81818" opacity="0.6"/>
<circle cx="41.04" cy="489.14" r="0.39" fill="#d81818" opacity="0.73"/>
<circle cx="28.86" cy="498.13" r="0.58" fill="#d81818" opacity="0.57"/>
<circle cx="9.11" cy="531.22" r="0.8" fill="#d81818" opacity="0.73"/>
<circle cx="10.72" cy="530.92" r="0.57" fill="#d81818" opacity="0.83"/>
<circle cx="8.77" cy="530.5" r="0.77" fill="#d81818" opacity="0.43"/>
<circle cx="16.46" cy="512.82" r="0.75" fill="#d81818" opacity="0.52"/>
<circle cx="10.12" cy="526.85" r="0.76" fill="#d81818" opacity="0.49"/>
<circle cx="15.86" cy="512.16" r="0.37" fill="#d81818" opacity="0.48"/>
<circle cx="22.97" cy="508.56" r="0.75" fill="#d81818" opacity="0.48"/>
<circle cx="11.1" cy="525.89" r="0.64" fill="#d81818" opacity="0.56"/>
<circle cx="4.47" cy="524.89" r="0.75" fill="#d81818" opacity="0.45"/>
<circle cx="3.7" cy="526.92" r="0.71" fill="#d81818" opacity="0.52"/>
<circle cx="3.39" cy="527.54" r="0.69" fill="#d81818" opacity="0.6"/>
<circle cx="19.39" cy="509.56" r="0.72" fill="#d81818" opacity="0.51"/>
<circle cx="14.56" cy="520.38" r="0.65" fill="#d81818" opacity="0.54"/>
<circle cx="23.75" cy="506.65" r="0.63" fill="#d81818" opacity="0.59"/>
<circle cx="14.61" cy="517.08" r="0.45" fill="#d81818" opacity="0.69"/>
<circle cx="24.3" cy="506.87" r="0.4" fill="#d81818" opacity="0.56"/>
<circle cx="15.87" cy="509.79" r="0.44" fill="#d81818" opacity="0.68"/>
<circle cx="17.95" cy="521.16" r="0.46" fill="#d81818" opacity="0.47"/>
<circle cx="17.72" cy="504.83" r="0.7" fill="#d81818" opacity="0.58"/>
<circle cx="21.3" cy="512.51" r="0.6" fill="#d81818" opacity="0.56"/>
<circle cx="6.1" cy="522.76" r="0.68" fill="#d81818" opacity="0.51"/>
<circle cx="9.67" cy="527.43" r="0.53" fill="#d81818" opacity="0.51"/>
<circle cx="21.53" cy="507.27" r="0.6" fill="#d81818" opacity="0.82"/>
<circle cx="21.02" cy="512.6" r="0.58" fill="#d81818" opacity="0.69"/>
<circle cx="9.35" cy="526.42" r="0.49" fill="#d81818" opacity="0.42"/>
<circle cx="7.89" cy="522.64" r="0.35" fill="#d81818" opacity="0.78"/>
<circle cx="5.8" cy="523.92" r="0.55" fill="#d81818" opacity="0.5"/>
<circle cx="20.73" cy="509.36" r="0.5" fill="#d81818" opacity="0.74"/>
<circle cx="12.57" cy="518.87" r="0.47" fill="#d81818" opacity="0.65"/>
<circle cx="15.63" cy="513.33" r="0.47" fill="#d81818" opacity="0.69"/>
<circle cx="6.81" cy="532.78" r="0.36" fill="#d81818" opacity="0.52"/>
<circle cx="18.17" cy="505.95" r="0.69" fill="#d81818" opacity="0.55"/>
<circle cx="6.44" cy="527.65" r="0.76" fill="#d81818" opacity="0.68"/>
<circle cx="7.17" cy="516.23" r="0.56" fill="#d81818" opacity="0.78"/>
<circle cx="12.01" cy="520.03" r="0.68" fill="#d81818" opacity="0.66"/>
<circle cx="17.94" cy="516.45" r="0.39" fill="#d81818" opacity="0.81"/>
<circle cx="21.08" cy="509.77" r="0.77" fill="#d81818" opacity="0.56"/>
<circle cx="20.7" cy="509.64" r="0.66" fill="#d81818" opacity="0.69"/>
<circle cx="10.36" cy="521.12" r="0.62" fill="#d81818" opacity="0.56"/>
<circle cx="10.46" cy="520.19" r="0.38" fill="#d81818" opacity="0.79"/>
<circle cx="7.74" cy="526.49" r="0.44" fill="#d81818" opacity="0.45"/>
<circle cx="24.37" cy="503.57" r="0.64" fill="#d81818" opacity="0.77"/>
<circle cx="11.31" cy="521.57" r="0.39" fill="#d81818" opacity="0.74"/>
<circle cx="17.88" cy="513.19" r="0.36" fill="#d81818" opacity="0.52"/>
<circle cx="17.11" cy="510.47" r="0.49" fill="#d81818" opacity="0.83"/>
<circle cx="15.72" cy="515.01" r="0.36" fill="#d81818" opacity="0.59"/>
<circle cx="15.25" cy="513.98" r="0.67" fill="#d81818" opacity="0.64"/>
<circle cx="19.4" cy="510.41" r="0.72" fill="#d81818" opacity="0.48"/>
<circle cx="23.64" cy="510.19" r="0.79" fill="#d81818" opacity="0.4"/>
<circle cx="9.78" cy="517.58" r="0.43" fill="#d81818" opacity="0.62"/>
<circle cx="43.83" cy="481.44" r="0.77" fill="#d81818" opacity="0.53"/>
<circle cx="44.16" cy="478.05" r="0.4" fill="#d81818" opacity="0.69"/>
<circle cx="46.95" cy="474.72" r="0.7" fill="#d81818" opacity="0.68"/>
<circle cx="41.75" cy="483.7" r="0.75" fill="#d81818" opacity="0.44"/>
<circle cx="37.91" cy="493.62" r="0.47" fill="#d81818" opacity="0.81"/>
<circle cx="38.88" cy="488.02" r="0.46" fill="#d81818" opacity="0.61"/>
<circle cx="41.1" cy="483.5" r="0.64" fill="#d81818" opacity="0.56"/>
<circle cx="45.23" cy="484.79" r="0.65" fill="#d81818" opacity="0.73"/>
<circle cx="42.65" cy="480.06" r="0.61" fill="#d81818" opacity="0.46"/>
<circle cx="42.76" cy="484.06" r="0.44" fill="#d81818" opacity="0.54"/>
<circle cx="39.52" cy="488.92" r="0.42" fill="#d81818" opacity="0.51"/>
<circle cx="42.47" cy="482.01" r="0.5" fill="#d81818" opacity="0.49"/>
<circle cx="35.67" cy="494.43" r="0.78" fill="#d81818" opacity="0.45"/>
<circle cx="45.69" cy="483.01" r="0.68" fill="#d81818" opacity="0.6"/>
<circle cx="44.47" cy="478.93" r="0.44" fill="#d81818" opacity="0.57"/>
<circle cx="44.54" cy="478" r="0.66" fill="#d81818" opacity="0.63"/>
<circle cx="38.93" cy="488.5" r="0.62" fill="#d81818" opacity="0.58"/>
<circle cx="40.01" cy="489.52" r="0.61" fill="#d81818" opacity="0.74"/>
<circle cx="42.68" cy="486.67" r="0.75" fill="#d81818" opacity="0.75"/>
<circle cx="40.52" cy="487.66" r="0.64" fill="#d81818" opacity="0.6"/>
<circle cx="43.08" cy="481.33" r="0.54" fill="#d81818" opacity="0.75"/>
<circle cx="38.01" cy="489.01" r="0.54" fill="#d81818" opacity="0.6"/>
<circle cx="37.86" cy="489.42" r="0.77" fill="#d81818" opacity="0.48"/>
<circle cx="39.85" cy="487.12" r="0.57" fill="#d81818" opacity="0.84"/>
<circle cx="45.91" cy="476.08" r="0.7" fill="#d81818" opacity="0.82"/>
<circle cx="42.91" cy="487.3" r="0.59" fill="#d81818" opacity="0.72"/>
<circle cx="39.25" cy="483.49" r="0.58" fill="#d81818" opacity="0.58"/>
<circle cx="36.72" cy="497.08" r="0.53" fill="#d81818" opacity="0.74"/>
<circle cx="47.4" cy="477.89" r="0.38" fill="#d81818" opacity="0.52"/>
<circle cx="44.3" cy="483.76" r="0.54" fill="#d81818" opacity="0.71"/>
<circle cx="9.17" cy="535.74" r="0.68" fill="#d81818" opacity="0.82"/>
<circle cx="8.91" cy="543.2" r="0.53" fill="#d81818" opacity="0.5"/>
<circle cx="11.63" cy="523.49" r="0.64" fill="#d81818" opacity="0.61"/>
<circle cx="8.75" cy="546.05" r="0.51" fill="#d81818" opacity="0.69"/>
<circle cx="7.09" cy="544.87" r="0.48" fill="#d81818" opacity="0.65"/>
<circle cx="12.05" cy="525.71" r="0.73" fill="#d81818" opacity="0.52"/>
<circle cx="9.1" cy="537.24" r="0.43" fill="#d81818" opacity="0.4"/>
<circle cx="6.36" cy="546.29" r="0.49" fill="#d81818" opacity="0.62"/>
<circle cx="6.53" cy="533.59" r="0.51" fill="#d81818" opacity="0.82"/>
<circle cx="9.92" cy="549.88" r="0.76" fill="#d81818" opacity="0.75"/>
<circle cx="12.47" cy="525.13" r="0.36" fill="#d81818" opacity="0.41"/>
<circle cx="4.07" cy="549.59" r="0.4" fill="#d81818" opacity="0.46"/>
<circle cx="10.53" cy="528.55" r="0.42" fill="#d81818" opacity="0.81"/>
<circle cx="8.67" cy="550.87" r="0.62" fill="#d81818" opacity="0.75"/>
<circle cx="10.36" cy="540.46" r="0.73" fill="#d81818" opacity="0.49"/>
<circle cx="3.09" cy="542.98" r="0.55" fill="#d81818" opacity="0.8"/>
<circle cx="7.73" cy="541.54" r="0.41" fill="#d81818" opacity="0.62"/>
<circle cx="10.12" cy="526" r="0.57" fill="#d81818" opacity="0.62"/>
<circle cx="8.17" cy="539.17" r="0.73" fill="#d81818" opacity="0.61"/>
<circle cx="5.53" cy="536.13" r="0.52" fill="#d81818" opacity="0.59"/>
<circle cx="8.01" cy="552.87" r="0.64" fill="#d81818" opacity="0.41"/>
<circle cx="5.25" cy="536.38" r="0.5" fill="#d81818" opacity="0.84"/>
<circle cx="3.18" cy="539.05" r="0.37" fill="#d81818" opacity="0.72"/>
<circle cx="4.9" cy="545.81" r="0.51" fill="#d81818" opacity="0.61"/>
<circle cx="8.31" cy="537.37" r="0.55" fill="#d81818" opacity="0.59"/>
<circle cx="31.95" cy="514.65" r="0.72" fill="#d81818" opacity="0.58"/>
<circle cx="31.49" cy="517.52" r="0.79" fill="#d81818" opacity="0.69"/>
<circle cx="26.09" cy="526.08" r="0.48" fill="#d81818" opacity="0.66"/>
<circle cx="29.84" cy="518.41" r="0.68" fill="#d81818" opacity="0.8"/>
<circle cx="33.08" cy="516.72" r="0.35" fill="#d81818" opacity="0.49"/>
<circle cx="22.26" cy="526.38" r="0.71" fill="#d81818" opacity="0.81"/>
<circle cx="27.61" cy="516.08" r="0.66" fill="#d81818" opacity="0.67"/>
<circle cx="29.75" cy="524.01" r="0.56" fill="#d81818" opacity="0.74"/>
<circle cx="38.8" cy="502" r="0.7" fill="#d81818" opacity="0.81"/>
<circle cx="26.36" cy="522.99" r="0.7" fill="#d81818" opacity="0.65"/>
<circle cx="35.14" cy="508.94" r="0.49" fill="#d81818" opacity="0.59"/>
<circle cx="30.31" cy="518.98" r="0.61" fill="#d81818" opacity="0.42"/>
<circle cx="39.39" cy="499.11" r="0.76" fill="#d81818" opacity="0.6"/>
<circle cx="37.57" cy="500.58" r="0.77" fill="#d81818" opacity="0.84"/>
<circle cx="31.4" cy="514.37" r="0.64" fill="#d81818" opacity="0.5"/>
<circle cx="37.93" cy="503.1" r="0.66" fill="#d81818" opacity="0.45"/>
<circle cx="28.27" cy="532.56" r="0.41" fill="#d81818" opacity="0.41"/>
<circle cx="28.49" cy="525.71" r="0.43" fill="#d81818" opacity="0.42"/>
<circle cx="26.34" cy="519.15" r="0.68" fill="#d81818" opacity="0.44"/>
<circle cx="29.13" cy="516.32" r="0.77" fill="#d81818" opacity="0.51"/>
</g>
<g filter="url(#b1)">
<ellipse cx="23" cy="438.5" rx="2.9" ry="4" fill="#1c1cf4" opacity="0.85"/>
<ellipse cx="15.3" cy="449.7" rx="2.5" ry="3.6" fill="#1c1cf4" opacity="0.5" transform="rotate(10 15.3 449.7)"/>
<ellipse cx="15.3" cy="464.1" rx="2.2" ry="2.9" fill="#1c1cf4" opacity="0.5"/>
<ellipse cx="30.6" cy="466.8" rx="2.9" ry="3.2" fill="#1c1cf4" opacity="0.7"/>
<ellipse cx="23" cy="473.1" rx="3.2" ry="3.6" fill="#1c1cf4"/>
<ellipse cx="18.9" cy="484.7" rx="3.6" ry="4" fill="#1c1cf4"/>
<ellipse cx="10.8" cy="495.2" rx="4" ry="2.9" fill="#1c1cf4"/>
<ellipse cx="3.6" cy="511.7" rx="2.5" ry="3.2" fill="#1c1cf4" opacity="0.9"/>
<ellipse cx="24.3" cy="492.8" rx="2.9" ry="3.2" fill="#1c1cf4" opacity="0.55"/>
<ellipse cx="36" cy="500" rx="4" ry="3.2" fill="#1c1cf4"/>
<ellipse cx="43.2" cy="491" rx="3.2" ry="3.6" fill="#1c1cf4"/>
<ellipse cx="48.2" cy="479.4" rx="4.3" ry="3.6" fill="#1c1cf4"/>
<ellipse cx="50.4" cy="467.7" rx="5.4" ry="2.9" fill="#1c1cf4" opacity="0.6" transform="rotate(-30 50.4 467.7)"/>
<ellipse cx="68.3" cy="460.5" rx="4" ry="3.6" fill="#1c1cf4"/>
<ellipse cx="71" cy="448.8" rx="3.6" ry="4" fill="#1c1cf4" opacity="0.55"/>
<ellipse cx="83.6" cy="468.6" rx="6.1" ry="3.6" fill="#1c1cf4" transform="rotate(-15 83.6 468.6)"/>
<ellipse cx="94.4" cy="457.8" rx="5" ry="2.9" fill="#1c1cf4" transform="rotate(-10 94.4 457.8)"/>
<ellipse cx="76.4" cy="480.3" rx="4" ry="3.2" fill="#1c1cf4" opacity="0.9"/>
<ellipse cx="62" cy="490.1" rx="3.6" ry="5.4" fill="#1c1cf4" opacity="0.55" transform="rotate(30 62 490.1)"/>
<ellipse cx="48.6" cy="516.2" rx="5.4" ry="2.5" fill="#1c1cf4" opacity="0.55" transform="rotate(-35 48.6 516.2)"/>
<ellipse cx="50.4" cy="526.1" rx="5" ry="3.6" fill="#1c1cf4" opacity="0.45"/>
<ellipse cx="71" cy="503.6" rx="2.5" ry="2.5" fill="#1c1cf4" opacity="0.5"/>
<ellipse cx="23.4" cy="513.5" rx="5.4" ry="2.2" fill="#1c1cf4" opacity="0.45" transform="rotate(-40 23.4 513.5)"/>
<ellipse cx="18" cy="542.3" rx="5.4" ry="3.6" fill="#1c1cf4" opacity="0.4" transform="rotate(-20 18 542.3)"/>
<ellipse cx="21.6" cy="562" rx="5.4" ry="2.5" fill="#1c1cf4" opacity="0.9"/>
<ellipse cx="97" cy="491" rx="3.6" ry="4" fill="#1c1cf4"/>
<ellipse cx="93.5" cy="501.8" rx="3.6" ry="3.2" fill="#1c1cf4" opacity="0.9"/>
<ellipse cx="111" cy="436.5" rx="3.4" ry="3.4" fill="#1c1cf4" opacity="0.9"/>
<ellipse cx="107.5" cy="461.4" rx="3" ry="4" fill="#1c1cf4" opacity="0.6"/>
<ellipse cx="104" cy="479" rx="3.4" ry="2.5" fill="#1c1cf4" opacity="0.6" transform="rotate(-30 104 479)"/>
<ellipse cx="87.5" cy="425.5" rx="3.4" ry="2" fill="#1c1cf4" opacity="0.6"/>
<ellipse cx="12" cy="428" rx="3" ry="2" fill="#1c1cf4" opacity="0.4" transform="rotate(-30 12 428)"/>
<ellipse cx="60" cy="425" rx="2.6" ry="3.2" fill="#1c1cf4" opacity="0.35" transform="rotate(20 60 425)"/>
<ellipse cx="38" cy="530" rx="2.5" ry="4.5" fill="#1c1cf4" opacity="0.35" transform="rotate(30 38 530)"/>
<ellipse cx="80" cy="520" rx="3" ry="2.5" fill="#1c1cf4" opacity="0.35"/>
<ellipse cx="70" cy="545" rx="4" ry="2.5" fill="#1c1cf4" opacity="0.3" transform="rotate(-30 70 545)"/>
<ellipse cx="160.07" cy="479.71" rx="5.99" ry="3.73" fill="#2424e4" opacity="0.92" transform="rotate(-38.9 160.07 479.71)"/>
<ellipse cx="143.01" cy="487.88" rx="6.26" ry="2.62" fill="#2424e4" opacity="0.93" transform="rotate(-41.99 143.01 487.88)"/>
<ellipse cx="147.3" cy="434.73" rx="6.32" ry="2.82" fill="#2222f6" opacity="0.78" transform="rotate(-51.04 147.3 434.73)"/>
<ellipse cx="154.45" cy="460.87" rx="4.93" ry="3.4" fill="#2222f6" opacity="0.83" transform="rotate(-6.3 154.45 460.87)"/>
<ellipse cx="138.89" cy="456.98" rx="5.06" ry="3.25" fill="#3030f0" opacity="0.76" transform="rotate(-27.75 138.89 456.98)"/>
<ellipse cx="150.99" cy="450.82" rx="4.5" ry="3.33" fill="#3030f0" opacity="0.76" transform="rotate(2.12 150.99 450.82)"/>
<ellipse cx="142.7" cy="472.57" rx="5.18" ry="3.28" fill="#2222f6" opacity="0.92" transform="rotate(-44.55 142.7 472.57)"/>
<ellipse cx="130.35" cy="452.66" rx="4.86" ry="3.07" fill="#2a2aee" opacity="0.77" transform="rotate(-55.85 130.35 452.66)"/>
<ellipse cx="150.39" cy="498.29" rx="5.65" ry="3.67" fill="#2424e4" opacity="0.87" transform="rotate(-30.22 150.39 498.29)"/>
<ellipse cx="150.3" cy="467.43" rx="5.51" ry="3.53" fill="#3030f0" opacity="0.85" transform="rotate(-83.25 150.3 467.43)"/>
<ellipse cx="124.4" cy="456.15" rx="4.86" ry="3.72" fill="#2a2aee" opacity="0.86" transform="rotate(-28.36 124.4 456.15)"/>
<ellipse cx="156.36" cy="487.07" rx="6.12" ry="2.79" fill="#2222f6" opacity="0.78" transform="rotate(-51.67 156.36 487.07)"/>
<ellipse cx="155.89" cy="424.63" rx="5.2" ry="3.47" fill="#2424e4" opacity="0.76" transform="rotate(37.36 155.89 424.63)"/>
<ellipse cx="151.52" cy="477.05" rx="5.49" ry="3.31" fill="#2222f6" opacity="0.82" transform="rotate(-49.22 151.52 477.05)"/>
<ellipse cx="157.32" cy="449.49" rx="4.52" ry="2.9" fill="#2424e4" opacity="0.78" transform="rotate(-4.61 157.32 449.49)"/>
<ellipse cx="120.35" cy="470.7" rx="4.93" ry="3.17" fill="#2a2aee" opacity="0.84" transform="rotate(-43.63 120.35 470.7)"/>
<ellipse cx="118.85" cy="441.97" rx="4.8" ry="3.08" fill="#2a2aee" opacity="0.99" transform="rotate(-45.51 118.85 441.97)"/>
<ellipse cx="132.62" cy="428.34" rx="6.27" ry="2.95" fill="#2a2aee" opacity="0.78" transform="rotate(39.63 132.62 428.34)"/>
<ellipse cx="139.67" cy="436.62" rx="6.2" ry="3.53" fill="#3030f0" opacity="0.98" transform="rotate(-43.15 139.67 436.62)"/>
<ellipse cx="126.38" cy="463.57" rx="4.64" ry="2.63" fill="#2222f6" opacity="0.95" transform="rotate(-58.28 126.38 463.57)"/>
<ellipse cx="161.49" cy="491.85" rx="5.72" ry="3.7" fill="#2222f6" opacity="0.73" transform="rotate(-34.41 161.49 491.85)"/>
<ellipse cx="134.07" cy="467.46" rx="4.63" ry="2.84" fill="#2a2aee" opacity="0.76" transform="rotate(-18.06 134.07 467.46)"/>
<ellipse cx="160.03" cy="441.91" rx="4.6" ry="3.63" fill="#3030f0" opacity="0.79" transform="rotate(8.16 160.03 441.91)"/>
<ellipse cx="115.4" cy="476.48" rx="4.57" ry="3.05" fill="#2222f6" opacity="0.81" transform="rotate(-50.85 115.4 476.48)"/>
<ellipse cx="155.96" cy="432.59" rx="6.04" ry="3.46" fill="#2424e4" opacity="0.79" transform="rotate(-14.74 155.96 432.59)"/>
<ellipse cx="134.33" cy="447.14" rx="5.49" ry="2.79" fill="#3030f0" opacity="0.92" transform="rotate(-55.28 134.33 447.14)"/>
<ellipse cx="119.1" cy="460.14" rx="5.77" ry="2.96" fill="#2222f6" opacity="0.74" transform="rotate(-7.12 119.1 460.14)"/>
<ellipse cx="118.58" cy="450.91" rx="6.35" ry="3.11" fill="#2222f6" opacity="0.72" transform="rotate(12.24 118.58 450.91)"/>
<ellipse cx="112.37" cy="470.84" rx="4.9" ry="3.28" fill="#2a2aee" opacity="0.93" transform="rotate(-81.38 112.37 470.84)"/>
<ellipse cx="129.82" cy="480.07" rx="6.1" ry="2.93" fill="#2222f6" opacity="0.78" transform="rotate(-30.19 129.82 480.07)"/>
<ellipse cx="148.49" cy="426.18" rx="5.32" ry="3.06" fill="#3030f0" opacity="0.86" transform="rotate(-42.56 148.49 426.18)"/>
<ellipse cx="136.06" cy="478.52" rx="5.5" ry="3.31" fill="#2424e4" opacity="1" transform="rotate(16.87 136.06 478.52)"/>
<ellipse cx="157.9" cy="471.88" rx="5.46" ry="3.34" fill="#3030f0" opacity="0.74" transform="rotate(13.97 157.9 471.88)"/>
<ellipse cx="146.26" cy="458.79" rx="5.44" ry="3.49" fill="#2424e4" opacity="0.74" transform="rotate(28.16 146.26 458.79)"/>
<ellipse cx="148.05" cy="483.17" rx="5.9" ry="3.38" fill="#3030f0" opacity="0.81" transform="rotate(-13.14 148.05 483.17)"/>
<ellipse cx="161.92" cy="463.41" rx="5.09" ry="3.02" fill="#2424e4" opacity="0.73" transform="rotate(-22.58 161.92 463.41)"/>
<ellipse cx="140.43" cy="450" rx="4.37" ry="3.02" fill="#2a2aee" opacity="0.95" transform="rotate(-24.62 140.43 450)"/>
<ellipse cx="142.8" cy="464.55" rx="4.27" ry="2.82" fill="#2a2aee" opacity="0.9" transform="rotate(-25 142.8 464.55)"/>
<ellipse cx="159.82" cy="457.06" rx="4.71" ry="2.65" fill="#2a2aee" opacity="0.86" transform="rotate(53.45 159.82 457.06)"/>
<ellipse cx="150.74" cy="441.04" rx="4.81" ry="3.52" fill="#2222f6" opacity="0.94" transform="rotate(-17.41 150.74 441.04)"/>
<ellipse cx="126.77" cy="472.49" rx="5.74" ry="3" fill="#2222f6" opacity="0.94" transform="rotate(-26.65 126.77 472.49)"/>
<ellipse cx="140.66" cy="425.05" rx="5.75" ry="3.32" fill="#3030f0" opacity="0.98" transform="rotate(-26.13 140.66 425.05)"/>
<ellipse cx="126.74" cy="445.61" rx="4.51" ry="2.73" fill="#2222f6" opacity="0.96" transform="rotate(-65.23 126.74 445.61)"/>
<ellipse cx="149.74" cy="489.69" rx="5.79" ry="3.71" fill="#2a2aee" opacity="0.76" transform="rotate(1.53 149.74 489.69)"/>
<ellipse cx="160.62" cy="499.67" rx="6.14" ry="3.05" fill="#2424e4" opacity="0.97" transform="rotate(-25.59 160.62 499.67)"/>
<ellipse cx="122.2" cy="478.66" rx="5.78" ry="3.7" fill="#2424e4" opacity="0.72" transform="rotate(17.11 122.2 478.66)"/>
<ellipse cx="108.19" cy="477.33" rx="5.11" ry="3.6" fill="#3030f0" opacity="0.77" transform="rotate(-35.93 108.19 477.33)"/>
<ellipse cx="132.06" cy="460.21" rx="4.88" ry="2.65" fill="#3030f0" opacity="0.84" transform="rotate(-61.95 132.06 460.21)"/>
<ellipse cx="111.47" cy="482.87" rx="6.35" ry="3.14" fill="#2222f6" opacity="0.85" transform="rotate(-82.51 111.47 482.87)"/>
<ellipse cx="143.46" cy="442.2" rx="5.37" ry="3.02" fill="#3030f0" opacity="0.79" transform="rotate(-57.78 143.46 442.2)"/>
<ellipse cx="134.67" cy="484.77" rx="5.39" ry="2.96" fill="#3030f0" opacity="0.99" transform="rotate(-49.16 134.67 484.77)"/>
<ellipse cx="144.42" cy="495.21" rx="5.66" ry="2.95" fill="#2424e4" opacity="0.93" transform="rotate(-44.27 144.42 495.21)"/>
<ellipse cx="118.43" cy="434.34" rx="4.37" ry="2.98" fill="#2424e4" opacity="0.98" transform="rotate(-28.53 118.43 434.34)"/>
<ellipse cx="161.63" cy="428.6" rx="5.32" ry="3.33" fill="#2a2aee" opacity="0.8" transform="rotate(1.09 161.63 428.6)"/>
<ellipse cx="100.82" cy="520.07" rx="5.61" ry="3.75" fill="#3030f0" opacity="0.76" transform="rotate(0.53 100.82 520.07)"/>
<ellipse cx="105.6" cy="556.49" rx="5.13" ry="2.8" fill="#2424e4" opacity="0.9" transform="rotate(-4.99 105.6 556.49)"/>
<ellipse cx="80.41" cy="556.11" rx="5.18" ry="2.75" fill="#2a2aee" opacity="0.74" transform="rotate(-72.61 80.41 556.11)"/>
<ellipse cx="104" cy="546.55" rx="4.87" ry="3.65" fill="#2a2aee" opacity="0.91" transform="rotate(-81.95 104 546.55)"/>
<ellipse cx="109.4" cy="532.25" rx="4.45" ry="2.86" fill="#2a2aee" opacity="0.83" transform="rotate(-16.36 109.4 532.25)"/>
<ellipse cx="88.88" cy="541.73" rx="4.78" ry="3.06" fill="#2a2aee" opacity="0.88" transform="rotate(-36.64 88.88 541.73)"/>
<ellipse cx="106.41" cy="513.9" rx="5.21" ry="3.13" fill="#3030f0" opacity="0.81" transform="rotate(-16.45 106.41 513.9)"/>
<ellipse cx="111.37" cy="543.34" rx="5.14" ry="3.49" fill="#2424e4" opacity="0.94" transform="rotate(-31.11 111.37 543.34)"/>
<ellipse cx="112.83" cy="523.93" rx="6.23" ry="3.48" fill="#2a2aee" opacity="0.92" transform="rotate(-2.04 112.83 523.93)"/>
<ellipse cx="120.73" cy="550.62" rx="4.93" ry="2.83" fill="#2a2aee" opacity="0.93" transform="rotate(22.77 120.73 550.62)"/>
<ellipse cx="100.16" cy="564.15" rx="5.38" ry="2.68" fill="#2424e4" opacity="0.7" transform="rotate(9.24 100.16 564.15)"/>
<ellipse cx="100.14" cy="492.73" rx="4.26" ry="3.44" fill="#2a2aee" opacity="0.88" transform="rotate(-20.52 100.14 492.73)"/>
<ellipse cx="73.36" cy="563.39" rx="4.5" ry="3.63" fill="#2a2aee" opacity="0.81" transform="rotate(8.35 73.36 563.39)"/>
<ellipse cx="97.58" cy="558.01" rx="5.56" ry="3.35" fill="#2a2aee" opacity="0.9" transform="rotate(-80.35 97.58 558.01)"/>
<ellipse cx="89.75" cy="551.37" rx="5.86" ry="3.16" fill="#2a2aee" opacity="0.98" transform="rotate(-36.41 89.75 551.37)"/>
<ellipse cx="94.27" cy="518.63" rx="5.66" ry="3.53" fill="#2a2aee" opacity="0.86" transform="rotate(-4.7 94.27 518.63)"/>
<ellipse cx="88.94" cy="559.67" rx="4.32" ry="2.63" fill="#2a2aee" opacity="0.85" transform="rotate(12.37 88.94 559.67)"/>
<ellipse cx="109.55" cy="565.36" rx="4.52" ry="3.35" fill="#2a2aee" opacity="0.71" transform="rotate(-16.78 109.55 565.36)"/>
<ellipse cx="102.09" cy="536.13" rx="5.27" ry="3.68" fill="#2a2aee" opacity="0.76" transform="rotate(10.03 102.09 536.13)"/>
<ellipse cx="99.76" cy="513.22" rx="5.05" ry="3.4" fill="#3030f0" opacity="0.99" transform="rotate(-4.38 99.76 513.22)"/>
<ellipse cx="92.26" cy="507.85" rx="5.79" ry="3.11" fill="#2a2aee" opacity="0.72" transform="rotate(-31.28 92.26 507.85)"/>
<ellipse cx="92.87" cy="497.43" rx="5.78" ry="3.61" fill="#2424e4" opacity="0.71" transform="rotate(-15.73 92.87 497.43)"/>
<ellipse cx="96.57" cy="532.66" rx="5.14" ry="3.67" fill="#2222f6" opacity="0.95" transform="rotate(9.19 96.57 532.66)"/>
<ellipse cx="112.63" cy="551.15" rx="5.59" ry="2.83" fill="#2a2aee" opacity="0.74" transform="rotate(-36.56 112.63 551.15)"/>
<ellipse cx="117.92" cy="538.84" rx="5.77" ry="2.74" fill="#2222f6" opacity="0.83" transform="rotate(-18.23 117.92 538.84)"/>
<ellipse cx="96.2" cy="543.56" rx="5.52" ry="3.56" fill="#3030f0" opacity="0.91" transform="rotate(-24.82 96.2 543.56)"/>
<ellipse cx="103.51" cy="507.09" rx="4.41" ry="3.23" fill="#2222f6" opacity="0.99" transform="rotate(-25.12 103.51 507.09)"/>
<ellipse cx="97.73" cy="526.27" rx="6.03" ry="2.92" fill="#3030f0" opacity="0.73" transform="rotate(-20.09 97.73 526.27)"/>
<ellipse cx="83.37" cy="563.18" rx="5.85" ry="3.22" fill="#2a2aee" opacity="0.71" transform="rotate(15.78 83.37 563.18)"/>
<ellipse cx="125.77" cy="554.63" rx="6.35" ry="3.43" fill="#2222f6" opacity="0.97" transform="rotate(-38.36 125.77 554.63)"/>
<ellipse cx="82.92" cy="548.14" rx="5.22" ry="3.39" fill="#2424e4" opacity="0.88" transform="rotate(-54.91 82.92 548.14)"/>
<ellipse cx="103.45" cy="499.8" rx="5.85" ry="2.69" fill="#2424e4" opacity="0.95" transform="rotate(-38.61 103.45 499.8)"/>
<ellipse cx="117.88" cy="559.36" rx="5.69" ry="3.05" fill="#2a2aee" opacity="0.96" transform="rotate(-4.42 117.88 559.36)"/>
<ellipse cx="98.31" cy="551.45" rx="5.93" ry="2.69" fill="#2222f6" opacity="0.83" transform="rotate(-86.63 98.31 551.45)"/>
<ellipse cx="116.75" cy="531.18" rx="6.37" ry="3.76" fill="#2222f6" opacity="0.94" transform="rotate(-52.67 116.75 531.18)"/>
<ellipse cx="105.78" cy="525.44" rx="4.99" ry="3.48" fill="#2222f6" opacity="0.91" transform="rotate(-45.39 105.78 525.44)"/>
<ellipse cx="93.31" cy="565.22" rx="5.52" ry="2.67" fill="#3030f0" opacity="0.97" transform="rotate(-58.85 93.31 565.22)"/>
<ellipse cx="121.74" cy="544.05" rx="5.88" ry="3.41" fill="#3030f0" opacity="0.78" transform="rotate(-65.33 121.74 544.05)"/>
<ellipse cx="132.45" cy="528.8" rx="3.78" ry="2.37" fill="#2222f6" opacity="0.35"/>
<ellipse cx="146.64" cy="535.89" rx="3.31" ry="2.37" fill="#2222f6" opacity="0.4"/>
<ellipse cx="154.92" cy="521.7" rx="2.37" ry="2.84" fill="#2222f6" opacity="0.4"/>
<ellipse cx="141.91" cy="547.72" rx="2.84" ry="1.89" fill="#2222f6" opacity="0.3"/>
<ellipse cx="154.92" cy="490.96" rx="2.84" ry="2.84" fill="#2222f6" opacity="0.6"/>
<ellipse cx="141.8" cy="512.5" rx="7.4" ry="9.6" fill="#0a0806" opacity="0.95" transform="rotate(10 141.8 512.5)"/>
<ellipse cx="127.72" cy="437.74" rx="3.78" ry="3.78" fill="#07090a" opacity="0.95"/>
</g><g filter="url(#b0)">
<ellipse cx="110.7" cy="503.3" rx="4.6" ry="5.6" fill="#e03a18" transform="rotate(20 110.7 503.3)"/>
<ellipse cx="112.5" cy="500" rx="3.4" ry="2.6" fill="#f05a20" transform="rotate(-30 112.5 500)"/>
<ellipse cx="109.6" cy="507.2" rx="3" ry="2.2" fill="#e8481c" transform="rotate(30 109.6 507.2)"/>
<ellipse cx="130" cy="522.4" rx="10" ry="2.3" fill="#e6281a" transform="rotate(14 130 522.4)"/>
<ellipse cx="124" cy="519.2" rx="3.4" ry="2.4" fill="#e03a18" transform="rotate(40 124 519.2)"/>
<ellipse cx="136" cy="524.6" rx="4" ry="1.8" fill="#e8821c" opacity="0.9" transform="rotate(10 136 524.6)"/>
<ellipse cx="133.4" cy="495.8" rx="2.7" ry="2.2" fill="#ee2a1a" transform="rotate(20 133.4 495.8)"/>
<ellipse cx="136.6" cy="498.4" rx="1.5" ry="1.4" fill="#b0c030"/>
<ellipse cx="151.8" cy="499.3" rx="1.8" ry="2.2" fill="#a05a18" opacity="0.8"/>
<ellipse cx="123" cy="504.6" rx="5.6" ry="5.4" fill="#58cabc" transform="rotate(-25 123 504.6)"/>
<ellipse cx="121" cy="510.4" rx="3.6" ry="3.4" fill="#58cabc"/>
<ellipse cx="117.2" cy="488.2" rx="2.1" ry="2" fill="#3cb4c0" opacity="0.95"/>
<ellipse cx="132.3" cy="509.6" rx="2.4" ry="2.1" fill="#58cabc"/>
<ellipse cx="113.8" cy="504.4" rx="1.6" ry="1.6" fill="#b8e8d8" opacity="0.9"/>
<ellipse cx="127" cy="499.4" rx="2.6" ry="2.4" fill="#50c0b8"/>
</g>
<line x1="130.4" y1="482.6" x2="122.78" y2="493.03" stroke="#f2e21c" stroke-width="1.25"/>
<path d="M119 498.2L120.27 491.2L125.28 494.86Z" fill="#f2e21c"/>
<text transform="translate(141.35,555.2) scale(1,1.1)" font-size="10.7" font-weight="bold" text-anchor="middle" fill="#e6e6e6">50µm</text>
<line x1="130.3" y1="559.3" x2="149.3" y2="559.3" stroke="#d8d8d8" stroke-width="1"/>
</g>
<rect x="1.0" y="567.3" width="38.9" height="34.4" fill="#030305"/>
<rect x="41.1" y="567.3" width="38.5" height="34.4" fill="#030305"/>
<rect x="81.0" y="567.3" width="39" height="34.4" fill="#030305"/>
<rect x="121.3" y="567.3" width="38.7" height="34.4" fill="#030305"/>
<defs><clipPath id="cct1"><rect x="1" y="567.3" width="38.7" height="34.4"/></clipPath></defs>
<g clip-path="url(#cct1)">
<circle cx="6.6" cy="571.71" r="0.7" fill="#2020e0" opacity=".8"/>
<circle cx="8.45" cy="578.46" r="0.7" fill="#2020e0" opacity=".8"/>
<circle cx="6.6" cy="579.97" r="0.7" fill="#2020e0" opacity=".8"/>
<circle cx="5.6" cy="582.73" r="0.7" fill="#2020e0" opacity=".8"/>
<circle cx="3.63" cy="585.24" r="0.7" fill="#2020e0" opacity=".8"/>
<circle cx="1.88" cy="589.17" r="0.7" fill="#2020e0" opacity=".8"/>
<circle cx="9.76" cy="586.38" r="0.7" fill="#2020e0" opacity=".8"/>
<circle cx="11.51" cy="584.24" r="0.7" fill="#2020e0" opacity=".8"/>
<circle cx="12.73" cy="581.47" r="0.7" fill="#2020e0" opacity=".8"/>
<circle cx="13.27" cy="578.68" r="0.7" fill="#2020e0" opacity=".8"/>
<circle cx="17.62" cy="576.96" r="0.7" fill="#2020e0" opacity=".8"/>
<circle cx="21.35" cy="578.89" r="0.7" fill="#2020e0" opacity=".8"/>
<circle cx="23.98" cy="576.32" r="0.7" fill="#2020e0" opacity=".8"/>
<circle cx="19.6" cy="581.68" r="0.7" fill="#2020e0" opacity=".8"/>
<circle cx="6.26" cy="601.17" r="0.7" fill="#2020e0" opacity=".8"/>
<circle cx="24.61" cy="584.24" r="0.7" fill="#2020e0" opacity=".8"/>
<circle cx="23.76" cy="586.81" r="0.7" fill="#2020e0" opacity=".8"/>
<circle cx="28.02" cy="571.24" r="0.7" fill="#2020e0" opacity=".8"/>
<circle cx="27.17" cy="577.18" r="0.7" fill="#2020e0" opacity=".8"/>
<circle cx="26.31" cy="581.37" r="0.7" fill="#2020e0" opacity=".8"/>
<circle cx="22.3" cy="568.61" r="0.7" fill="#2020e0" opacity=".8"/>
<circle cx="39.96" cy="581.54" r="0.8" fill="#2020e0" opacity=".8"/>
<circle cx="35.81" cy="583.49" r="0.8" fill="#2020e0" opacity=".8"/>
<circle cx="36.85" cy="570.81" r="0.8" fill="#2020e0" opacity=".8"/>
<circle cx="38.59" cy="577.05" r="0.8" fill="#2020e0" opacity=".8"/>
<circle cx="34.81" cy="576.12" r="0.8" fill="#2020e0" opacity=".8"/>
<circle cx="37.75" cy="574.65" r="0.8" fill="#2020e0" opacity=".8"/>
<circle cx="35.73" cy="579.84" r="0.8" fill="#2020e0" opacity=".8"/>
<circle cx="32.73" cy="575.09" r="0.8" fill="#2020e0" opacity=".8"/>
<circle cx="37.6" cy="585.97" r="0.8" fill="#2020e0" opacity=".8"/>
<circle cx="37.58" cy="578.61" r="0.8" fill="#2020e0" opacity=".8"/>
<circle cx="31.28" cy="575.92" r="0.8" fill="#2020e0" opacity=".8"/>
<circle cx="39.06" cy="583.3" r="0.8" fill="#2020e0" opacity=".8"/>
<circle cx="38.94" cy="568.41" r="0.8" fill="#2020e0" opacity=".8"/>
<circle cx="37.88" cy="580.91" r="0.8" fill="#2020e0" opacity=".8"/>
<circle cx="39.29" cy="574.33" r="0.8" fill="#2020e0" opacity=".8"/>
<circle cx="30.29" cy="579.39" r="0.8" fill="#2020e0" opacity=".8"/>
<circle cx="29.93" cy="572.54" r="0.8" fill="#2020e0" opacity=".8"/>
<circle cx="33.28" cy="569.29" r="0.8" fill="#2020e0" opacity=".8"/>
<circle cx="35" cy="571.26" r="0.8" fill="#2020e0" opacity=".8"/>
<circle cx="31.76" cy="577.69" r="0.8" fill="#2020e0" opacity=".8"/>
<circle cx="40.31" cy="584.44" r="0.8" fill="#2020e0" opacity=".8"/>
<circle cx="33.63" cy="578.62" r="0.8" fill="#2020e0" opacity=".8"/>
<circle cx="39.95" cy="572.53" r="0.8" fill="#2020e0" opacity=".8"/>
<circle cx="29.09" cy="580.77" r="0.8" fill="#2020e0" opacity=".8"/>
<circle cx="38.96" cy="570.3" r="0.8" fill="#2020e0" opacity=".8"/>
<circle cx="31.62" cy="570.85" r="0.8" fill="#2020e0" opacity=".8"/>
<circle cx="33.69" cy="573.77" r="0.8" fill="#2020e0" opacity=".8"/>
<circle cx="29.99" cy="576.88" r="0.8" fill="#2020e0" opacity=".8"/>
<circle cx="29.86" cy="574.67" r="0.8" fill="#2020e0" opacity=".8"/>
<circle cx="28.35" cy="579.43" r="0.8" fill="#2020e0" opacity=".8"/>
<circle cx="32.6" cy="581.63" r="0.8" fill="#2020e0" opacity=".8"/>
<circle cx="37.14" cy="568.77" r="0.8" fill="#2020e0" opacity=".8"/>
<circle cx="34.12" cy="581.26" r="0.8" fill="#2020e0" opacity=".8"/>
<circle cx="39.43" cy="579.67" r="0.8" fill="#2020e0" opacity=".8"/>
<circle cx="36.6" cy="576.55" r="0.8" fill="#2020e0" opacity=".8"/>
<circle cx="37.03" cy="582.37" r="0.8" fill="#2020e0" opacity=".8"/>
<circle cx="40.41" cy="577.65" r="0.8" fill="#2020e0" opacity=".8"/>
<circle cx="35.18" cy="574.46" r="0.8" fill="#2020e0" opacity=".8"/>
<circle cx="35.76" cy="577.93" r="0.8" fill="#2020e0" opacity=".8"/>
<circle cx="39.9" cy="576.14" r="0.8" fill="#2020e0" opacity=".8"/>
<circle cx="37.69" cy="572.32" r="0.8" fill="#2020e0" opacity=".8"/>
<circle cx="31.86" cy="579.82" r="0.8" fill="#2020e0" opacity=".8"/>
<circle cx="35.24" cy="568.5" r="0.8" fill="#2020e0" opacity=".8"/>
<circle cx="31.85" cy="573.41" r="0.8" fill="#2020e0" opacity=".8"/>
<circle cx="37.45" cy="583.92" r="0.8" fill="#2020e0" opacity=".8"/>
<circle cx="40.09" cy="586.3" r="0.8" fill="#2020e0" opacity=".8"/>
<circle cx="30.74" cy="581.29" r="0.8" fill="#2020e0" opacity=".8"/>
<circle cx="32.94" cy="572.09" r="0.8" fill="#2020e0" opacity=".8"/>
<circle cx="27.33" cy="580.98" r="0.8" fill="#2020e0" opacity=".8"/>
<circle cx="33.14" cy="576.89" r="0.8" fill="#2020e0" opacity=".8"/>
<circle cx="28.13" cy="582.3" r="0.8" fill="#2020e0" opacity=".8"/>
<circle cx="35.92" cy="572.6" r="0.8" fill="#2020e0" opacity=".8"/>
<circle cx="33.78" cy="582.75" r="0.8" fill="#2020e0" opacity=".8"/>
<circle cx="36.15" cy="585.24" r="0.8" fill="#2020e0" opacity=".8"/>
<circle cx="29.83" cy="570.72" r="0.8" fill="#2020e0" opacity=".8"/>
<circle cx="40.34" cy="569.35" r="0.8" fill="#2020e0" opacity=".8"/>
<circle cx="25.54" cy="591.17" r="0.8" fill="#2020e0" opacity=".8"/>
<circle cx="26.7" cy="599.86" r="0.8" fill="#2020e0" opacity=".8"/>
<circle cx="20.57" cy="599.77" r="0.8" fill="#2020e0" opacity=".8"/>
<circle cx="26.31" cy="597.49" r="0.8" fill="#2020e0" opacity=".8"/>
<circle cx="27.63" cy="594.07" r="0.8" fill="#2020e0" opacity=".8"/>
<circle cx="22.63" cy="596.34" r="0.8" fill="#2020e0" opacity=".8"/>
<circle cx="26.9" cy="589.7" r="0.8" fill="#2020e0" opacity=".8"/>
<circle cx="28.11" cy="596.72" r="0.8" fill="#2020e0" opacity=".8"/>
<circle cx="28.46" cy="592.09" r="0.8" fill="#2020e0" opacity=".8"/>
<circle cx="30.38" cy="598.46" r="0.8" fill="#2020e0" opacity=".8"/>
<circle cx="25.38" cy="601.68" r="0.8" fill="#2020e0" opacity=".8"/>
<circle cx="25.37" cy="584.65" r="0.8" fill="#2020e0" opacity=".8"/>
<circle cx="18.86" cy="601.5" r="0.8" fill="#2020e0" opacity=".8"/>
<circle cx="24.75" cy="600.22" r="0.8" fill="#2020e0" opacity=".8"/>
<circle cx="22.84" cy="598.64" r="0.8" fill="#2020e0" opacity=".8"/>
<circle cx="23.94" cy="590.83" r="0.8" fill="#2020e0" opacity=".8"/>
<circle cx="22.65" cy="600.61" r="0.8" fill="#2020e0" opacity=".8"/>
<circle cx="27.66" cy="601.97" r="0.8" fill="#2020e0" opacity=".8"/>
<circle cx="25.85" cy="595" r="0.8" fill="#2020e0" opacity=".8"/>
<circle cx="25.28" cy="589.54" r="0.8" fill="#2020e0" opacity=".8"/>
<circle cx="23.45" cy="588.26" r="0.8" fill="#2020e0" opacity=".8"/>
<circle cx="23.6" cy="585.77" r="0.8" fill="#2020e0" opacity=".8"/>
<circle cx="24.51" cy="594.17" r="0.8" fill="#2020e0" opacity=".8"/>
<circle cx="28.41" cy="598.58" r="0.8" fill="#2020e0" opacity=".8"/>
<circle cx="29.7" cy="595.65" r="0.8" fill="#2020e0" opacity=".8"/>
<circle cx="24.42" cy="596.77" r="0.8" fill="#2020e0" opacity=".8"/>
<circle cx="26.19" cy="588.07" r="0.8" fill="#2020e0" opacity=".8"/>
<circle cx="24.79" cy="592.65" r="0.8" fill="#2020e0" opacity=".8"/>
<circle cx="21.29" cy="601.45" r="0.8" fill="#2020e0" opacity=".8"/>
<circle cx="31.61" cy="599.41" r="0.8" fill="#2020e0" opacity=".8"/>
<circle cx="21.18" cy="597.87" r="0.8" fill="#2020e0" opacity=".8"/>
<circle cx="26.18" cy="586.33" r="0.8" fill="#2020e0" opacity=".8"/>
<circle cx="29.69" cy="600.54" r="0.8" fill="#2020e0" opacity=".8"/>
<circle cx="24.93" cy="598.66" r="0.8" fill="#2020e0" opacity=".8"/>
<circle cx="29.42" cy="593.82" r="0.8" fill="#2020e0" opacity=".8"/>
<circle cx="26.75" cy="592.45" r="0.8" fill="#2020e0" opacity=".8"/>
<circle cx="23.71" cy="601.94" r="0.8" fill="#2020e0" opacity=".8"/>
<circle cx="30.63" cy="596.89" r="0.8" fill="#2020e0" opacity=".8"/>
</g>
<circle cx="68.5" cy="585.8" r="1.3" fill="#58d8c8"/>
<circle cx="70.3" cy="586.9" r="1.1" fill="#58d8c8"/>
<circle cx="69.2" cy="588.3" r="1.0" fill="#58d8c8"/>
<circle cx="67.6" cy="587.3" r="0.8" fill="#58d8c8"/>
<circle cx="69.5" cy="583.9" r="0.7" fill="#58d8c8"/>
<rect x="41" y="567.3" width="38.4" height="34.4" fill="#0c2424" opacity=".35"/>
<ellipse cx="107.9" cy="586.8" rx="2" ry="1" fill="#e82020"/>
<ellipse cx="110.4" cy="590.3" rx="3" ry="0.9" fill="#e82020" transform="rotate(20 110.4 590.3)"/>
<ellipse cx="112.4" cy="585.3" rx="1" ry="0.7" fill="#e82020"/>
<circle cx="97.23" cy="576.09" r=".4" fill="#a01010" opacity=".7"/>
<circle cx="91.64" cy="585.61" r=".4" fill="#a01010" opacity=".7"/>
<circle cx="103.27" cy="569.65" r=".4" fill="#a01010" opacity=".7"/>
<circle cx="100.37" cy="576.35" r=".4" fill="#a01010" opacity=".7"/>
<circle cx="85.73" cy="592.36" r=".4" fill="#a01010" opacity=".7"/>
<circle cx="98.19" cy="571.95" r=".4" fill="#a01010" opacity=".7"/>
<circle cx="93.36" cy="581.67" r=".4" fill="#a01010" opacity=".7"/>
<circle cx="101.85" cy="569.96" r=".4" fill="#a01010" opacity=".7"/>
<circle cx="100.43" cy="578.71" r=".4" fill="#a01010" opacity=".7"/>
<circle cx="93.79" cy="579.57" r=".4" fill="#a01010" opacity=".7"/>
<circle cx="91.37" cy="588.15" r=".4" fill="#a01010" opacity=".7"/>
<circle cx="85.18" cy="592.32" r=".4" fill="#a01010" opacity=".7"/>
<circle cx="87.74" cy="593.62" r=".4" fill="#a01010" opacity=".7"/>
<circle cx="100.56" cy="575.6" r=".4" fill="#a01010" opacity=".7"/>
<circle cx="91.06" cy="588.29" r=".4" fill="#a01010" opacity=".7"/>
<circle cx="94.78" cy="581.94" r=".4" fill="#a01010" opacity=".7"/>
<circle cx="94.25" cy="584.2" r=".4" fill="#a01010" opacity=".7"/>
<circle cx="89.03" cy="590.84" r=".4" fill="#a01010" opacity=".7"/>
<circle cx="92.36" cy="590.3" r=".4" fill="#a01010" opacity=".7"/>
<circle cx="87.14" cy="594.28" r=".4" fill="#a01010" opacity=".7"/>
<circle cx="90.74" cy="591.61" r=".4" fill="#a01010" opacity=".7"/>
<circle cx="92.46" cy="585.74" r=".4" fill="#a01010" opacity=".7"/>
<circle cx="88.17" cy="592.46" r=".4" fill="#a01010" opacity=".7"/>
<circle cx="87.76" cy="591.57" r=".4" fill="#a01010" opacity=".7"/>
<circle cx="97.97" cy="574.92" r=".4" fill="#a01010" opacity=".7"/>
<circle cx="101.76" cy="571.15" r=".4" fill="#a01010" opacity=".7"/>
<circle cx="88.46" cy="591.68" r=".4" fill="#a01010" opacity=".7"/>
<circle cx="79.84" cy="595.61" r=".4" fill="#a01010" opacity=".7"/>
<circle cx="99.12" cy="579.3" r=".4" fill="#a01010" opacity=".7"/>
<circle cx="102.83" cy="572.57" r=".4" fill="#a01010" opacity=".7"/>
<circle cx="92.16" cy="586.54" r=".4" fill="#a01010" opacity=".7"/>
<circle cx="85.8" cy="596.35" r=".4" fill="#a01010" opacity=".7"/>
<circle cx="85.56" cy="594.77" r=".4" fill="#a01010" opacity=".7"/>
<circle cx="92.29" cy="582.24" r=".4" fill="#a01010" opacity=".7"/>
<circle cx="90.24" cy="582.4" r=".4" fill="#a01010" opacity=".7"/>
<circle cx="91.6" cy="584.49" r=".4" fill="#a01010" opacity=".7"/>
<circle cx="97.32" cy="580.41" r=".4" fill="#a01010" opacity=".7"/>
<circle cx="93.3" cy="583.78" r=".4" fill="#a01010" opacity=".7"/>
<circle cx="95.16" cy="580.95" r=".4" fill="#a01010" opacity=".7"/>
<circle cx="91.46" cy="585.92" r=".4" fill="#a01010" opacity=".7"/>
<rect x="121.4" y="567.3" width="38.6" height="34.4" fill="#1c2206" opacity=".6"/>
<circle cx="144.98" cy="583.22" r="0.88" fill="#5a6414" opacity="0.36"/>
<circle cx="147.85" cy="591.92" r="0.42" fill="#5a6414" opacity="0.27"/>
<circle cx="146.74" cy="599.13" r="0.58" fill="#5a6414" opacity="0.39"/>
<circle cx="143.74" cy="578.54" r="0.65" fill="#5a6414" opacity="0.34"/>
<circle cx="135.69" cy="587.36" r="0.61" fill="#5a6414" opacity="0.36"/>
<circle cx="150.2" cy="569.16" r="0.8" fill="#5a6414" opacity="0.47"/>
<circle cx="133.56" cy="575.42" r="0.96" fill="#5a6414" opacity="0.32"/>
<circle cx="129.15" cy="582.23" r="0.89" fill="#5a6414" opacity="0.28"/>
<circle cx="133.99" cy="578.98" r="0.98" fill="#5a6414" opacity="0.38"/>
<circle cx="153.2" cy="573.72" r="0.64" fill="#5a6414" opacity="0.45"/>
<circle cx="154.26" cy="582.74" r="0.56" fill="#5a6414" opacity="0.29"/>
<circle cx="141.47" cy="574.41" r="0.96" fill="#5a6414" opacity="0.5"/>
<circle cx="129.01" cy="577.21" r="0.97" fill="#5a6414" opacity="0.44"/>
<circle cx="151.43" cy="579.35" r="0.49" fill="#5a6414" opacity="0.34"/>
<circle cx="150.98" cy="576.98" r="0.64" fill="#5a6414" opacity="0.38"/>
<circle cx="137.51" cy="581.4" r="1.04" fill="#5a6414" opacity="0.3"/>
<circle cx="122.57" cy="598.48" r="1.02" fill="#5a6414" opacity="0.55"/>
<circle cx="138.04" cy="598.71" r="1.05" fill="#5a6414" opacity="0.32"/>
<circle cx="149.24" cy="595.07" r="0.86" fill="#5a6414" opacity="0.41"/>
<circle cx="132.81" cy="579.21" r="0.56" fill="#5a6414" opacity="0.27"/>
<circle cx="143.59" cy="577.48" r="0.97" fill="#5a6414" opacity="0.26"/>
<circle cx="154.93" cy="590.5" r="1.05" fill="#5a6414" opacity="0.52"/>
<circle cx="154.79" cy="586.76" r="0.41" fill="#5a6414" opacity="0.47"/>
<circle cx="128.59" cy="577.9" r="0.86" fill="#5a6414" opacity="0.41"/>
<circle cx="137.3" cy="598.35" r="0.83" fill="#5a6414" opacity="0.35"/>
<circle cx="131.49" cy="595.87" r="0.73" fill="#5a6414" opacity="0.48"/>
<circle cx="135.07" cy="574.61" r="0.77" fill="#5a6414" opacity="0.5"/>
<circle cx="128.57" cy="593.63" r="1.05" fill="#5a6414" opacity="0.49"/>
<circle cx="152.05" cy="568.54" r="0.84" fill="#5a6414" opacity="0.51"/>
<circle cx="124.2" cy="576.98" r="0.59" fill="#5a6414" opacity="0.41"/>
<text x="19.4" y="614.4" font-size="11.6" text-anchor="middle" fill="#2B2BF0">DAPI</text>
<text x="59.6" y="614.4" font-size="11.6" text-anchor="middle" fill="#3FAE4F">CD8</text>
<text x="100.1" y="614.4" font-size="11.6" text-anchor="middle" fill="#EE2A2A">BIRC5</text>
<text x="140.2" y="614.4" font-size="11.6" text-anchor="middle" fill="#B7BE3C">PPIA</text>
<text x="170.4" y="417.8" font-size="11.7" xml:space="preserve"><tspan fill="#231815">Normal</tspan></text>
<text x="328.4" y="417.8" font-size="11.7" text-anchor="end" xml:space="preserve"><tspan fill="#2B3FBF">DAPI</tspan><tspan fill="#231815">/</tspan><tspan fill="#3FAE4F">CD8</tspan><tspan fill="#231815">/</tspan><tspan fill="#EE2A2A">BIRC5</tspan><tspan fill="#231815">/</tspan><tspan fill="#B7BE3C">PPIA</tspan></text>
<defs><clipPath id="ccn"><rect x="169.7" y="421.5" width="158.9" height="143.4"/></clipPath></defs>
<g clip-path="url(#ccn)"><rect x="169.7" y="421.5" width="158.9" height="143.4" fill="#020203"/>
<g filter="url(#b3)">
<ellipse cx="224.76" cy="474.4" rx="14.19" ry="11.83" fill="#1c2606" opacity="0.55"/>
<ellipse cx="262.61" cy="498.05" rx="16.56" ry="9.46" fill="#1c2206" opacity="0.55"/>
<ellipse cx="210.57" cy="524.07" rx="14.19" ry="18.92" fill="#0c1406" opacity="0.5"/>
<ellipse cx="246.05" cy="538.26" rx="16.56" ry="11.83" fill="#101606" opacity="0.5"/>
<ellipse cx="222.4" cy="446.02" rx="9.46" ry="14.19" fill="#081606" opacity="0.5"/>
<ellipse cx="319.37" cy="486.23" rx="11.83" ry="21.29" fill="#0a0c04" opacity="0.5"/>
</g>
<circle cx="218.4" cy="471.63" r="0.58" fill="#b8b020" opacity="0.61"/>
<circle cx="217.85" cy="469.33" r="0.36" fill="#b8b020" opacity="0.63"/>
<circle cx="218.44" cy="462.94" r="0.33" fill="#b8b020" opacity="0.54"/>
<circle cx="232.75" cy="474.78" r="0.51" fill="#b8b020" opacity="0.42"/>
<circle cx="238.14" cy="468.17" r="0.5" fill="#b8b020" opacity="0.68"/>
<circle cx="225.26" cy="470.42" r="0.46" fill="#b8b020" opacity="0.43"/>
<circle cx="226.19" cy="473.27" r="0.31" fill="#b8b020" opacity="0.61"/>
<circle cx="215.45" cy="473.32" r="0.46" fill="#b8b020" opacity="0.69"/>
<circle cx="217.1" cy="469.68" r="0.44" fill="#b8b020" opacity="0.53"/>
<circle cx="241.94" cy="469.42" r="0.55" fill="#b8b020" opacity="0.72"/>
<circle cx="223.27" cy="473.12" r="0.39" fill="#b8b020" opacity="0.43"/>
<circle cx="225.3" cy="464.43" r="0.55" fill="#b8b020" opacity="0.57"/>
<circle cx="234.5" cy="467.04" r="0.3" fill="#b8b020" opacity="0.49"/>
<circle cx="229.72" cy="466.54" r="0.59" fill="#b8b020" opacity="0.58"/>
<circle cx="270.08" cy="504.11" r="0.53" fill="#b8b020" opacity="0.52"/>
<circle cx="267.15" cy="503.18" r="0.59" fill="#b8b020" opacity="0.74"/>
<circle cx="265.89" cy="503.42" r="0.33" fill="#b8b020" opacity="0.43"/>
<circle cx="263.68" cy="496.88" r="0.47" fill="#b8b020" opacity="0.6"/>
<circle cx="266.1" cy="509.35" r="0.34" fill="#b8b020" opacity="0.69"/>
<circle cx="267.2" cy="504.55" r="0.36" fill="#b8b020" opacity="0.52"/>
<circle cx="273.1" cy="498.48" r="0.39" fill="#b8b020" opacity="0.8"/>
<circle cx="264.05" cy="506.16" r="0.56" fill="#b8b020" opacity="0.69"/>
<circle cx="277" cy="510.92" r="0.36" fill="#b8b020" opacity="0.52"/>
<circle cx="263.36" cy="495.19" r="0.39" fill="#b8b020" opacity="0.43"/>
<circle cx="269.21" cy="504.61" r="0.37" fill="#b8b020" opacity="0.67"/>
<circle cx="258.11" cy="505.1" r="0.59" fill="#b8b020" opacity="0.62"/>
<circle cx="252.02" cy="495.06" r="0.35" fill="#b8b020" opacity="0.47"/>
<circle cx="271.76" cy="494.48" r="0.37" fill="#b8b020" opacity="0.49"/>
<circle cx="261.67" cy="486.4" r="0.36" fill="#b8b020" opacity="0.83"/>
<circle cx="268.55" cy="494.99" r="0.43" fill="#b8b020" opacity="0.45"/>
<circle cx="210.54" cy="536.46" r="0.37" fill="#b8b020" opacity="0.72"/>
<circle cx="203.25" cy="539.99" r="0.48" fill="#b8b020" opacity="0.53"/>
<circle cx="205.52" cy="538.75" r="0.32" fill="#b8b020" opacity="0.5"/>
<circle cx="198.31" cy="532.69" r="0.48" fill="#b8b020" opacity="0.53"/>
<circle cx="205.14" cy="533.76" r="0.3" fill="#b8b020" opacity="0.52"/>
<circle cx="202.53" cy="535.05" r="0.35" fill="#b8b020" opacity="0.57"/>
<circle cx="202.12" cy="534.05" r="0.41" fill="#b8b020" opacity="0.8"/>
<circle cx="207.6" cy="534.2" r="0.51" fill="#b8b020" opacity="0.66"/>
<circle cx="218.07" cy="557.67" r="0.31" fill="#b8b020" opacity="0.81"/>
<circle cx="215.83" cy="551.4" r="0.31" fill="#b8b020" opacity="0.69"/>
<circle cx="213.86" cy="557.61" r="0.4" fill="#b8b020" opacity="0.85"/>
<circle cx="220.32" cy="558.53" r="0.52" fill="#b8b020" opacity="0.81"/>
<circle cx="217.37" cy="553.5" r="0.54" fill="#b8b020" opacity="0.81"/>
<circle cx="215.52" cy="560.07" r="0.57" fill="#b8b020" opacity="0.79"/>
<circle cx="214.04" cy="559.26" r="0.56" fill="#b8b020" opacity="0.66"/>
<circle cx="216.03" cy="555.54" r="0.47" fill="#b8b020" opacity="0.67"/>
<circle cx="257.58" cy="547.8" r="0.6" fill="#b8b020" opacity="0.8"/>
<circle cx="252.67" cy="541.87" r="0.52" fill="#b8b020" opacity="0.66"/>
<circle cx="246.84" cy="547.83" r="0.33" fill="#b8b020" opacity="0.74"/>
<circle cx="257.87" cy="546.25" r="0.44" fill="#b8b020" opacity="0.5"/>
<circle cx="251.82" cy="541.41" r="0.48" fill="#b8b020" opacity="0.81"/>
<circle cx="253.13" cy="545.89" r="0.39" fill="#b8b020" opacity="0.71"/>
<circle cx="253.78" cy="547.42" r="0.57" fill="#b8b020" opacity="0.7"/>
<circle cx="246.16" cy="548.02" r="0.4" fill="#b8b020" opacity="0.7"/>
<circle cx="254.34" cy="548.93" r="0.54" fill="#b8b020" opacity="0.81"/>
<circle cx="255.7" cy="542.97" r="0.47" fill="#b8b020" opacity="0.54"/>
<circle cx="186.74" cy="505.29" r="0.55" fill="#b8b020" opacity="0.78"/>
<circle cx="182.88" cy="496.04" r="0.38" fill="#b8b020" opacity="0.48"/>
<circle cx="182.39" cy="503.48" r="0.36" fill="#b8b020" opacity="0.59"/>
<circle cx="182.22" cy="500.43" r="0.39" fill="#b8b020" opacity="0.78"/>
<circle cx="187.65" cy="502.43" r="0.32" fill="#b8b020" opacity="0.41"/>
<circle cx="185.13" cy="502.19" r="0.51" fill="#b8b020" opacity="0.66"/>
<circle cx="242.26" cy="500.71" r="0.31" fill="#b8b020" opacity="0.46"/>
<circle cx="244.78" cy="491.33" r="0.55" fill="#b8b020" opacity="0.51"/>
<circle cx="247.21" cy="492.37" r="0.49" fill="#b8b020" opacity="0.6"/>
<circle cx="240.14" cy="484.67" r="0.54" fill="#b8b020" opacity="0.83"/>
<circle cx="244.47" cy="487.34" r="0.44" fill="#b8b020" opacity="0.48"/>
<circle cx="252.72" cy="491.41" r="0.51" fill="#b8b020" opacity="0.48"/>
<circle cx="245.29" cy="496.35" r="0.51" fill="#b8b020" opacity="0.63"/>
<circle cx="238.58" cy="484.41" r="0.42" fill="#b8b020" opacity="0.76"/>
<circle cx="248.15" cy="489.55" r="0.58" fill="#b8b020" opacity="0.73"/>
<circle cx="250.5" cy="495.69" r="0.49" fill="#b8b020" opacity="0.81"/>
<g filter="url(#b1)">
<ellipse cx="204.66" cy="428.28" rx="3.07" ry="5.62" fill="#1c1cf2" transform="rotate(10 204.66 428.28)"/>
<ellipse cx="218.85" cy="428.99" rx="7.15" ry="4.09" fill="#1c1cf2" transform="rotate(-15 218.85 428.99)"/>
<ellipse cx="243.21" cy="428.99" rx="5.62" ry="2.04" fill="#1c1cf2" transform="rotate(-20 243.21 428.99)"/>
<ellipse cx="255.51" cy="427.57" rx="4.6" ry="2.55" fill="#1c1cf2" transform="rotate(20 255.51 427.57)"/>
<ellipse cx="276.8" cy="427.57" rx="2.55" ry="2.55" fill="#1c1cf2"/>
<ellipse cx="288.62" cy="425.2" rx="4.09" ry="2.04" fill="#1c1cf2" transform="rotate(10 288.62 425.2)"/>
<ellipse cx="307.55" cy="433.01" rx="6.13" ry="2.55" fill="#1c1cf2" transform="rotate(40 307.55 433.01)"/>
<ellipse cx="320.55" cy="444.83" rx="4.6" ry="2.04" fill="#1c1cf2" transform="rotate(40 320.55 444.83)"/>
<ellipse cx="325.28" cy="442.47" rx="2.04" ry="1.53" fill="#1c1cf2"/>
<ellipse cx="307.55" cy="460.21" rx="4.09" ry="2.04" fill="#1c1cf2" transform="rotate(45 307.55 460.21)"/>
<ellipse cx="172.73" cy="443.18" rx="2.55" ry="2.55" fill="#1c1cf2"/>
<ellipse cx="234.23" cy="437.03" rx="4.09" ry="2.55" fill="#1c1cf2" transform="rotate(-30 234.23 437.03)"/>
<ellipse cx="222.87" cy="441.76" rx="2.04" ry="3.07" fill="#1c1cf2"/>
<ellipse cx="231.39" cy="449.56" rx="2.04" ry="4.09" fill="#1c1cf2" transform="rotate(10 231.39 449.56)"/>
<ellipse cx="220.51" cy="451.93" rx="2.04" ry="3.58" fill="#1c1cf2" transform="rotate(10 220.51 451.93)"/>
<ellipse cx="192.83" cy="455.48" rx="4.09" ry="4.09" fill="#1c1cf2"/>
<ellipse cx="198.75" cy="460.68" rx="2.04" ry="3.58" fill="#1c1cf2" transform="rotate(20 198.75 460.68)"/>
<ellipse cx="217.67" cy="464.94" rx="4.6" ry="2.55" fill="#1c1cf2" transform="rotate(-20 217.67 464.94)"/>
<ellipse cx="229.97" cy="464.94" rx="3.07" ry="3.07" fill="#1c1cf2"/>
<ellipse cx="181.01" cy="470.85" rx="3.58" ry="5.11" fill="#1c1cf2" transform="rotate(-10 181.01 470.85)"/>
<ellipse cx="173.2" cy="470.85" rx="2.55" ry="4.09" fill="#1c1cf2" transform="rotate(-20 173.2 470.85)"/>
<ellipse cx="190.47" cy="468.49" rx="2.04" ry="3.07" fill="#1c1cf2"/>
<ellipse cx="207.03" cy="469.67" rx="4.09" ry="3.07" fill="#1c1cf2" transform="rotate(-30 207.03 469.67)"/>
<ellipse cx="211.76" cy="473.22" rx="3.07" ry="4.09" fill="#1c1cf2"/>
<ellipse cx="234.23" cy="473.93" rx="3.58" ry="4.09" fill="#1c1cf2"/>
<ellipse cx="246.05" cy="473.93" rx="3.58" ry="2.55" fill="#1c1cf2" transform="rotate(-30 246.05 473.93)"/>
<ellipse cx="262.61" cy="471.56" rx="3.07" ry="2.55" fill="#1c1cf2" transform="rotate(30 262.61 471.56)"/>
<ellipse cx="272.07" cy="473.22" rx="3.07" ry="4.09" fill="#1c1cf2" transform="rotate(-20 272.07 473.22)"/>
<ellipse cx="277.98" cy="477.95" rx="3.58" ry="3.58" fill="#1c1cf2"/>
<ellipse cx="286.26" cy="487.41" rx="2.04" ry="4.6" fill="#1c1cf2" transform="rotate(10 286.26 487.41)"/>
<ellipse cx="262.13" cy="485.04" rx="2.55" ry="5.11" fill="#1c1cf2" transform="rotate(-30 262.13 485.04)"/>
<ellipse cx="241.32" cy="488.59" rx="2.04" ry="4.09" fill="#1c1cf2"/>
<ellipse cx="233.04" cy="483.39" rx="2.04" ry="3.58" fill="#1c1cf2" transform="rotate(10 233.04 483.39)"/>
<ellipse cx="214.12" cy="488.59" rx="3.07" ry="5.11" fill="#1c1cf2" transform="rotate(-20 214.12 488.59)"/>
<ellipse cx="220.51" cy="496.87" rx="4.09" ry="2.04" fill="#1c1cf2"/>
<ellipse cx="212.94" cy="500.42" rx="3.58" ry="3.07" fill="#1c1cf2"/>
<ellipse cx="229.49" cy="500.42" rx="3.07" ry="3.58" fill="#1c1cf2"/>
<ellipse cx="243.69" cy="499.23" rx="3.07" ry="4.09" fill="#1c1cf2" transform="rotate(-20 243.69 499.23)"/>
<ellipse cx="252.67" cy="503.25" rx="3.58" ry="3.07" fill="#1c1cf2"/>
<ellipse cx="272.07" cy="502.78" rx="4.6" ry="3.58" fill="#1c1cf2" transform="rotate(-20 272.07 502.78)"/>
<ellipse cx="276.8" cy="496.16" rx="2.55" ry="3.58" fill="#1c1cf2" transform="rotate(20 276.8 496.16)"/>
<ellipse cx="281.06" cy="503.96" rx="2.04" ry="4.6" fill="#1c1cf2" transform="rotate(30 281.06 503.96)"/>
<ellipse cx="294.54" cy="507.98" rx="3.58" ry="5.11" fill="#1c1cf2"/>
<ellipse cx="191.65" cy="504.67" rx="5.62" ry="3.07" fill="#1c1cf2" transform="rotate(20 191.65 504.67)"/>
<ellipse cx="224.29" cy="507.98" rx="4.09" ry="2.55" fill="#1c1cf2" transform="rotate(-40 224.29 507.98)"/>
<ellipse cx="232.33" cy="507.51" rx="2.55" ry="3.58" fill="#1c1cf2"/>
<ellipse cx="261.42" cy="512.72" rx="3.58" ry="2.04" fill="#1c1cf2"/>
<ellipse cx="207.74" cy="512.24" rx="1.53" ry="3.58" fill="#1c1cf2" transform="rotate(-10 207.74 512.24)"/>
<ellipse cx="218.14" cy="521.23" rx="3.58" ry="3.07" fill="#1c1cf2"/>
<ellipse cx="229.97" cy="519.34" rx="5.11" ry="2.55" fill="#1c1cf2" transform="rotate(-30 229.97 519.34)"/>
<ellipse cx="236.59" cy="522.18" rx="3.07" ry="2.55" fill="#1c1cf2"/>
<ellipse cx="230.68" cy="525.96" rx="3.07" ry="3.58" fill="#1c1cf2" transform="rotate(30 230.68 525.96)"/>
<ellipse cx="204.66" cy="528.8" rx="2.55" ry="5.11" fill="#1c1cf2" transform="rotate(-5 204.66 528.8)"/>
<ellipse cx="268.52" cy="531.16" rx="5.62" ry="5.62" fill="#1c1cf2"/>
<ellipse cx="279.16" cy="531.16" rx="2.55" ry="5.11" fill="#1c1cf2" transform="rotate(-10 279.16 531.16)"/>
<ellipse cx="262.61" cy="542.52" rx="5.62" ry="3.07" fill="#1c1cf2" transform="rotate(-20 262.61 542.52)"/>
<ellipse cx="208.68" cy="544.17" rx="4.09" ry="4.6" fill="#1c1cf2" transform="rotate(20 208.68 544.17)"/>
<ellipse cx="261.42" cy="548.9" rx="4.09" ry="1.53" fill="#1c1cf2" transform="rotate(-20 261.42 548.9)"/>
<ellipse cx="245.58" cy="559.07" rx="2.55" ry="3.58" fill="#1c1cf2"/>
<ellipse cx="222.87" cy="561.44" rx="2.04" ry="3.07" fill="#1c1cf2"/>
<ellipse cx="170.37" cy="553.63" rx="2.04" ry="3.07" fill="#1c1cf2"/>
<ellipse cx="295.72" cy="547.72" rx="1.53" ry="3.07" fill="#1c1cf2"/>
<ellipse cx="326.94" cy="507.51" rx="2.04" ry="1.53" fill="#1c1cf2"/>
<ellipse cx="327.65" cy="515.79" rx="1.53" ry="2.04" fill="#1c1cf2"/>
<ellipse cx="273.72" cy="521.7" rx="1.53" ry="3.07" fill="#1c1cf2"/>
<ellipse cx="251.96" cy="521.7" rx="1.28" ry="2.04" fill="#1c1cf2"/>
</g>
<text transform="translate(310,555.5) scale(1,1.1)" font-size="10.7" font-weight="bold" text-anchor="middle" fill="#e6e6e6">50µm</text>
<line x1="297.9" y1="559.4" x2="318.1" y2="559.4" stroke="#d8d8d8" stroke-width="1"/>
</g>
<rect x="169.7" y="567.0" width="38.6" height="34.5" fill="#020203"/>
<rect x="209.7" y="567.0" width="39.2" height="34.5" fill="#020203"/>
<rect x="250.3" y="567.0" width="38.9" height="34.5" fill="#020203"/>
<rect x="290.5" y="567.0" width="38.1" height="34.5" fill="#020203"/>
<circle cx="178.13" cy="568.63" r="0.75" fill="#2020f0"/>
<circle cx="181.55" cy="568.8" r="0.75" fill="#2020f0"/>
<circle cx="187.42" cy="568.8" r="0.75" fill="#2020f0"/>
<circle cx="190.38" cy="568.46" r="0.75" fill="#2020f0"/>
<circle cx="195.51" cy="568.46" r="0.75" fill="#2020f0"/>
<circle cx="198.36" cy="567.89" r="0.75" fill="#2020f0"/>
<circle cx="202.93" cy="569.77" r="0.75" fill="#2020f0"/>
<circle cx="206.06" cy="572.62" r="0.75" fill="#2020f0"/>
<circle cx="207.2" cy="572.05" r="0.75" fill="#2020f0"/>
<circle cx="202.93" cy="576.33" r="0.75" fill="#2020f0"/>
<circle cx="170.43" cy="572.23" r="0.75" fill="#2020f0"/>
<circle cx="185.25" cy="570.74" r="0.75" fill="#2020f0"/>
<circle cx="182.52" cy="571.88" r="0.75" fill="#2020f0"/>
<circle cx="184.57" cy="573.76" r="0.75" fill="#2020f0"/>
<circle cx="181.95" cy="574.33" r="0.75" fill="#2020f0"/>
<circle cx="175.28" cy="575.19" r="0.75" fill="#2020f0"/>
<circle cx="176.7" cy="576.44" r="0.75" fill="#2020f0"/>
<circle cx="181.26" cy="577.47" r="0.75" fill="#2020f0"/>
<circle cx="184.23" cy="577.47" r="0.75" fill="#2020f0"/>
<circle cx="172.43" cy="578.9" r="0.75" fill="#2020f0"/>
<circle cx="170.54" cy="578.9" r="0.75" fill="#2020f0"/>
<circle cx="174.71" cy="578.33" r="0.75" fill="#2020f0"/>
<circle cx="178.7" cy="578.61" r="0.75" fill="#2020f0"/>
<circle cx="179.84" cy="579.47" r="0.75" fill="#2020f0"/>
<circle cx="185.25" cy="579.64" r="0.75" fill="#2020f0"/>
<circle cx="188.1" cy="579.64" r="0.75" fill="#2020f0"/>
<circle cx="192.09" cy="579.07" r="0.75" fill="#2020f0"/>
<circle cx="194.37" cy="579.47" r="0.75" fill="#2020f0"/>
<circle cx="195.8" cy="580.61" r="0.75" fill="#2020f0"/>
<circle cx="197.79" cy="582.89" r="0.75" fill="#2020f0"/>
<circle cx="191.98" cy="582.32" r="0.75" fill="#2020f0"/>
<circle cx="186.96" cy="583.17" r="0.75" fill="#2020f0"/>
<circle cx="184.97" cy="581.92" r="0.75" fill="#2020f0"/>
<circle cx="180.41" cy="583.17" r="0.75" fill="#2020f0"/>
<circle cx="181.95" cy="585.17" r="0.75" fill="#2020f0"/>
<circle cx="180.12" cy="586.02" r="0.75" fill="#2020f0"/>
<circle cx="184.11" cy="586.02" r="0.75" fill="#2020f0"/>
<circle cx="187.53" cy="585.74" r="0.75" fill="#2020f0"/>
<circle cx="189.7" cy="586.71" r="0.75" fill="#2020f0"/>
<circle cx="194.37" cy="586.59" r="0.75" fill="#2020f0"/>
<circle cx="195.51" cy="585" r="0.75" fill="#2020f0"/>
<circle cx="196.54" cy="586.88" r="0.75" fill="#2020f0"/>
<circle cx="199.79" cy="587.85" r="0.75" fill="#2020f0"/>
<circle cx="174.99" cy="587.05" r="0.75" fill="#2020f0"/>
<circle cx="182.86" cy="587.85" r="0.75" fill="#2020f0"/>
<circle cx="184.8" cy="587.73" r="0.75" fill="#2020f0"/>
<circle cx="191.81" cy="588.99" r="0.75" fill="#2020f0"/>
<circle cx="178.87" cy="588.87" r="0.75" fill="#2020f0"/>
<circle cx="181.38" cy="591.04" r="0.75" fill="#2020f0"/>
<circle cx="184.23" cy="590.58" r="0.75" fill="#2020f0"/>
<circle cx="185.82" cy="591.27" r="0.75" fill="#2020f0"/>
<circle cx="184.4" cy="592.18" r="0.75" fill="#2020f0"/>
<circle cx="178.13" cy="592.86" r="0.75" fill="#2020f0"/>
<circle cx="193.52" cy="593.43" r="0.75" fill="#2020f0"/>
<circle cx="196.08" cy="593.43" r="0.75" fill="#2020f0"/>
<circle cx="192.09" cy="596.17" r="0.75" fill="#2020f0"/>
<circle cx="179.1" cy="596.57" r="0.75" fill="#2020f0"/>
<circle cx="191.81" cy="597.71" r="0.75" fill="#2020f0"/>
<circle cx="187.99" cy="600.16" r="0.75" fill="#2020f0"/>
<circle cx="182.52" cy="600.73" r="0.75" fill="#2020f0"/>
<circle cx="169.86" cy="598.85" r="0.75" fill="#2020f0"/>
<circle cx="200.07" cy="597.42" r="0.75" fill="#2020f0"/>
<circle cx="207.6" cy="587.73" r="0.75" fill="#2020f0"/>
<circle cx="207.77" cy="589.73" r="0.75" fill="#2020f0"/>
<circle cx="194.77" cy="591.15" r="0.75" fill="#2020f0"/>
<circle cx="189.53" cy="591.15" r="0.75" fill="#2020f0"/>
<circle cx="230.1" cy="590.03" r=".4" fill="#2a6a20" opacity=".6"/>
<circle cx="234.58" cy="595.45" r=".4" fill="#2a6a20" opacity=".6"/>
<circle cx="233.14" cy="594.9" r=".4" fill="#2a6a20" opacity=".6"/>
<circle cx="214.65" cy="582.57" r=".4" fill="#2a6a20" opacity=".6"/>
<circle cx="238.43" cy="587.52" r=".4" fill="#2a6a20" opacity=".6"/>
<circle cx="237.32" cy="573.06" r=".4" fill="#2a6a20" opacity=".6"/>
<circle cx="226.1" cy="576.66" r=".4" fill="#2a6a20" opacity=".6"/>
<circle cx="228.04" cy="585.5" r=".4" fill="#2a6a20" opacity=".6"/>
<circle cx="214.24" cy="575.85" r=".4" fill="#2a6a20" opacity=".6"/>
<circle cx="221.17" cy="594.74" r=".4" fill="#2a6a20" opacity=".6"/>
<circle cx="233.81" cy="574.31" r=".4" fill="#2a6a20" opacity=".6"/>
<circle cx="234.63" cy="573.75" r=".4" fill="#2a6a20" opacity=".6"/>
<circle cx="229.95" cy="573.42" r=".4" fill="#2a6a20" opacity=".6"/>
<circle cx="213.95" cy="593.53" r=".4" fill="#2a6a20" opacity=".6"/>
<circle cx="300.46" cy="575.82" r=".45" fill="#8a8a18" opacity=".6"/>
<circle cx="322.11" cy="593.56" r=".45" fill="#8a8a18" opacity=".6"/>
<circle cx="302.7" cy="595.96" r=".45" fill="#8a8a18" opacity=".6"/>
<circle cx="309.7" cy="588.3" r=".45" fill="#8a8a18" opacity=".6"/>
<circle cx="300.33" cy="595.41" r=".45" fill="#8a8a18" opacity=".6"/>
<circle cx="313.94" cy="596.1" r=".45" fill="#8a8a18" opacity=".6"/>
<circle cx="319.62" cy="578.07" r=".45" fill="#8a8a18" opacity=".6"/>
<circle cx="304.71" cy="574.48" r=".45" fill="#8a8a18" opacity=".6"/>
<circle cx="298.68" cy="571.76" r=".45" fill="#8a8a18" opacity=".6"/>
<circle cx="303.04" cy="586.28" r=".45" fill="#8a8a18" opacity=".6"/>
<circle cx="294.69" cy="588.3" r=".45" fill="#8a8a18" opacity=".6"/>
<circle cx="304.06" cy="578.37" r=".45" fill="#8a8a18" opacity=".6"/>
<circle cx="317.52" cy="582.98" r=".45" fill="#8a8a18" opacity=".6"/>
<circle cx="303.44" cy="582.99" r=".45" fill="#8a8a18" opacity=".6"/>
<circle cx="314.33" cy="571.54" r=".45" fill="#8a8a18" opacity=".6"/>
<circle cx="321.9" cy="570.62" r=".45" fill="#8a8a18" opacity=".6"/>
<text x="188.7" y="614.4" font-size="11.6" text-anchor="middle" fill="#2B2BF0">DAPI</text>
<text x="229.9" y="614.4" font-size="11.6" text-anchor="middle" fill="#3FAE4F">CD8</text>
<text x="269.2" y="614.4" font-size="11.6" text-anchor="middle" fill="#EE2A2A">BIRC5</text>
<text x="309.7" y="614.4" font-size="11.6" text-anchor="middle" fill="#B7BE3C">PPIA</text>
<text x="346.2" y="417.8" font-size="11.7" xml:space="preserve"><tspan fill="#231815">Tumor</tspan></text>
<text x="507.2" y="417.8" font-size="11.2" text-anchor="end" xml:space="preserve"><tspan fill="#2222EE">DAPI</tspan><tspan fill="#231815">/</tspan><tspan fill="#EE2A2A">PPIA</tspan><tspan fill="#231815">/</tspan><tspan fill="#4FE02F">Ki67</tspan></text>
<defs><clipPath id="cdt"><rect x="346.1" y="421.5" width="161.5" height="143.6"/></clipPath></defs>
<g clip-path="url(#cdt)"><rect x="346.1" y="421.5" width="161.5" height="143.6" fill="#020202"/>
<polygon points="342.61,520.55 346.2,500.2 351.46,481.05 358.89,464.29 370.62,448.73 382.11,438.19 391.21,432.93 400.06,429.58 407.72,427.9 416.82,426.46 424.72,428.14 428.31,437.24 440.28,443.7 449.38,449.93 462.79,457.59 473.08,465.97 483.38,475.06 491.52,485.12 498.7,495.65 504.92,504.27 510.67,520.55 512.58,573.22 342.61,573.22" fill="#70180e" stroke="#9c2616" stroke-width="1.2" filter="url(#b0)"/>
<polygon points="342.61,573.22 352.18,532.52 359.36,515.76 367.74,500.2 383.31,487.51 400.06,476.98 414.43,468.36 427.6,464.53 445.55,465.97 457.52,472.19 469.49,485.12 482.66,499.48 491.04,515.76 498.22,532.52 501.81,554.07 503.01,573.22" fill="#26081c" filter="url(#b2)"/>
<line x1="380.91" y1="496.13" x2="396.47" y2="484.64" stroke="#040208" stroke-width="5.27" stroke-linecap="round" filter="url(#b0)"/>
<line x1="396.47" y1="484.64" x2="416.82" y2="473.15" stroke="#040208" stroke-width="4.31" stroke-linecap="round" filter="url(#b0)"/>
<line x1="416.82" y1="473.15" x2="435.97" y2="467.88" stroke="#040208" stroke-width="3.35" stroke-linecap="round" filter="url(#b0)"/>
<line x1="385.7" y1="489.43" x2="398.87" y2="500.2" stroke="#040208" stroke-width="6.22" stroke-linecap="round" filter="url(#b0)"/>
<line x1="398.87" y1="500.2" x2="416.82" y2="508.1" stroke="#040208" stroke-width="6.22" stroke-linecap="round" filter="url(#b0)"/>
<line x1="416.82" y1="508.1" x2="427.6" y2="515.76" stroke="#040208" stroke-width="5.27" stroke-linecap="round" filter="url(#b0)"/>
<line x1="427.6" y1="515.76" x2="445.55" y2="526.54" stroke="#040208" stroke-width="4.79" stroke-linecap="round" filter="url(#b0)"/>
<line x1="445.55" y1="526.54" x2="441.96" y2="544.49" stroke="#040208" stroke-width="3.83" stroke-linecap="round" filter="url(#b0)"/>
<line x1="380.91" y1="499" x2="375.64" y2="527.73" stroke="#040208" stroke-width="4.31" stroke-linecap="round" filter="url(#b0)"/>
<line x1="375.64" y1="527.73" x2="384.5" y2="554.07" stroke="#040208" stroke-width="3.83" stroke-linecap="round" filter="url(#b0)"/>
<line x1="424" y1="491.82" x2="446.75" y2="500.2" stroke="#040208" stroke-width="3.83" stroke-linecap="round" filter="url(#b0)"/>
<line x1="456.32" y1="488.23" x2="470.69" y2="504.99" stroke="#040208" stroke-width="3.83" stroke-linecap="round" filter="url(#b0)"/>
<line x1="404.85" y1="525.34" x2="424" y2="545.69" stroke="#040208" stroke-width="3.83" stroke-linecap="round" filter="url(#b0)"/>
<line x1="424" y1="545.69" x2="435.97" y2="564.84" stroke="#040208" stroke-width="3.83" stroke-linecap="round" filter="url(#b0)"/>
<line x1="469.49" y1="532.52" x2="479.07" y2="555.26" stroke="#040208" stroke-width="3.83" stroke-linecap="round" filter="url(#b0)"/>
<line x1="359.36" y1="532.52" x2="364.15" y2="554.07" stroke="#040208" stroke-width="3.35" stroke-linecap="round" filter="url(#b0)"/>
<line x1="457.52" y1="476.26" x2="469.49" y2="488.23" stroke="#040208" stroke-width="2.87" stroke-linecap="round" filter="url(#b0)"/>
<g filter="url(#b1)">
<ellipse cx="372.25" cy="523.04" rx="3.62" ry="2.95" fill="#3c1cf8" transform="rotate(61.12 372.25 523.04)"/>
<ellipse cx="449.9" cy="493.03" rx="3.78" ry="2.8" fill="#6a22f4" transform="rotate(59.93 449.9 493.03)"/>
<ellipse cx="478.45" cy="497.79" rx="3.42" ry="3.38" fill="#a838e6" transform="rotate(15.02 478.45 497.79)"/>
<ellipse cx="428.44" cy="458.41" rx="4.16" ry="3.54" fill="#9024e2" transform="rotate(-47.81 428.44 458.41)"/>
<ellipse cx="509.79" cy="530.01" rx="3.61" ry="3.74" fill="#a82cd6" transform="rotate(63.31 509.79 530.01)"/>
<ellipse cx="489.55" cy="512.52" rx="4.27" ry="3.77" fill="#b430ce" transform="rotate(-20.04 489.55 512.52)"/>
<ellipse cx="427.19" cy="441.28" rx="4.39" ry="3.2" fill="#a82cd6" transform="rotate(27.92 427.19 441.28)"/>
<ellipse cx="370.57" cy="541.24" rx="3.88" ry="3.08" fill="#5a1ef8" transform="rotate(23.6 370.57 541.24)"/>
<ellipse cx="365.63" cy="556.97" rx="3.46" ry="3.26" fill="#5a1ef8" transform="rotate(56.6 365.63 556.97)"/>
<ellipse cx="419.85" cy="503.42" rx="4.09" ry="2.96" fill="#5a1ef8" transform="rotate(33.96 419.85 503.42)"/>
<ellipse cx="401.65" cy="493.83" rx="3.43" ry="2.8" fill="#4a1cf8" transform="rotate(-16.75 401.65 493.83)"/>
<ellipse cx="505.03" cy="552.13" rx="3.65" ry="3.32" fill="#a82cd6" transform="rotate(24.79 505.03 552.13)"/>
<ellipse cx="440.94" cy="528.74" rx="3.56" ry="2.9" fill="#a838e6" transform="rotate(-65.37 440.94 528.74)"/>
<ellipse cx="365.23" cy="492.64" rx="3.88" ry="3.68" fill="#9c28de" transform="rotate(-39.61 365.23 492.64)"/>
<ellipse cx="497.5" cy="551.22" rx="3.38" ry="3.14" fill="#b43ce0" transform="rotate(-44.55 497.5 551.22)"/>
<ellipse cx="419.55" cy="479.74" rx="3.97" ry="3.31" fill="#6a22f4" transform="rotate(-45.78 419.55 479.74)"/>
<ellipse cx="463.62" cy="566.21" rx="4.14" ry="3.06" fill="#a838e6" transform="rotate(0.66 463.62 566.21)"/>
<ellipse cx="426.94" cy="494.81" rx="3.7" ry="2.99" fill="#4a1cf8" transform="rotate(64.4 426.94 494.81)"/>
<ellipse cx="435.93" cy="531.36" rx="3.99" ry="2.83" fill="#5a1ef8" transform="rotate(-26.28 435.93 531.36)"/>
<ellipse cx="381.68" cy="511.52" rx="3.96" ry="3.06" fill="#3c1cf8" transform="rotate(61.56 381.68 511.52)"/>
<ellipse cx="436.93" cy="513.48" rx="3.91" ry="3.2" fill="#4a1cf8" transform="rotate(2.21 436.93 513.48)"/>
<ellipse cx="402.52" cy="556.85" rx="3.68" ry="2.99" fill="#8c2cec" transform="rotate(41.42 402.52 556.85)"/>
<ellipse cx="402.26" cy="509.86" rx="3.38" ry="2.83" fill="#8c2cec" transform="rotate(-67.67 402.26 509.86)"/>
<ellipse cx="395.65" cy="439.5" rx="3.8" ry="3.21" fill="#a82cd6" transform="rotate(-63.96 395.65 439.5)"/>
<ellipse cx="355.84" cy="540.7" rx="3.65" ry="3.06" fill="#a838e6" transform="rotate(8.78 355.84 540.7)"/>
<ellipse cx="473.36" cy="478.19" rx="4.47" ry="3" fill="#b430ce" transform="rotate(47.39 473.36 478.19)"/>
<ellipse cx="457.88" cy="521.07" rx="4.16" ry="3.04" fill="#7a26f0" transform="rotate(25.32 457.88 521.07)"/>
<ellipse cx="493.46" cy="561.29" rx="3.29" ry="3.04" fill="#b43ce0" transform="rotate(-53.78 493.46 561.29)"/>
<ellipse cx="412.23" cy="565.68" rx="3.24" ry="3.16" fill="#4a1cf8" transform="rotate(49.43 412.23 565.68)"/>
<ellipse cx="490.89" cy="494.72" rx="4.34" ry="3.59" fill="#9024e2" transform="rotate(30.46 490.89 494.72)"/>
<ellipse cx="472.84" cy="493.61" rx="3.53" ry="3.07" fill="#4a1cf8" transform="rotate(16.94 472.84 493.61)"/>
<ellipse cx="414.31" cy="449.09" rx="4.07" ry="3.47" fill="#9024e2" transform="rotate(-6.76 414.31 449.09)"/>
<ellipse cx="386.66" cy="561.38" rx="3.49" ry="3.44" fill="#b43ce0" transform="rotate(-37.69 386.66 561.38)"/>
<ellipse cx="433.27" cy="464.1" rx="4.22" ry="3.33" fill="#9024e2" transform="rotate(-58.17 433.27 464.1)"/>
<ellipse cx="458.2" cy="560.68" rx="3.57" ry="2.96" fill="#5a1ef8" transform="rotate(3.57 458.2 560.68)"/>
<ellipse cx="348.88" cy="509.36" rx="3.89" ry="3" fill="#ba36cc" transform="rotate(40.54 348.88 509.36)"/>
<ellipse cx="451.36" cy="546.11" rx="3.48" ry="2.95" fill="#5a1ef8" transform="rotate(-3.76 451.36 546.11)"/>
<ellipse cx="441.53" cy="461.42" rx="3.78" ry="3.82" fill="#9024e2" transform="rotate(53 441.53 461.42)"/>
<ellipse cx="368.26" cy="548.34" rx="3.67" ry="3.47" fill="#4a1cf8" transform="rotate(8.97 368.26 548.34)"/>
<ellipse cx="433.98" cy="470.98" rx="3.84" ry="3.09" fill="#7a26f0" transform="rotate(40.41 433.98 470.98)"/>
<ellipse cx="462.43" cy="549.27" rx="3.62" ry="3.23" fill="#5a1ef8" transform="rotate(-8.64 462.43 549.27)"/>
<ellipse cx="355.49" cy="533.61" rx="3.24" ry="2.81" fill="#8c2cec" transform="rotate(-57.11 355.49 533.61)"/>
<ellipse cx="386.78" cy="524.04" rx="3.42" ry="2.95" fill="#8c2cec" transform="rotate(67.98 386.78 524.04)"/>
<ellipse cx="409.24" cy="468.86" rx="4.31" ry="3.47" fill="#ba36cc" transform="rotate(14.18 409.24 468.86)"/>
<ellipse cx="428.11" cy="503.04" rx="3.9" ry="3.45" fill="#b43ce0" transform="rotate(-2.81 428.11 503.04)"/>
<ellipse cx="444.31" cy="497.18" rx="3.99" ry="2.89" fill="#b43ce0" transform="rotate(-26.98 444.31 497.18)"/>
<ellipse cx="396.23" cy="524.42" rx="3.6" ry="3.37" fill="#5a1ef8" transform="rotate(21.76 396.23 524.42)"/>
<ellipse cx="397.55" cy="566.27" rx="3.69" ry="3.02" fill="#4a1cf8" transform="rotate(-33.28 397.55 566.27)"/>
<ellipse cx="430.47" cy="480.26" rx="3.5" ry="2.79" fill="#4a1cf8" transform="rotate(-20.79 430.47 480.26)"/>
<ellipse cx="480.01" cy="527.89" rx="3.86" ry="3.21" fill="#7a26f0" transform="rotate(24.71 480.01 527.89)"/>
<ellipse cx="420.33" cy="458.47" rx="3.67" ry="3.25" fill="#a82cd6" transform="rotate(-51.43 420.33 458.47)"/>
<ellipse cx="408.67" cy="494.13" rx="3.64" ry="2.87" fill="#3c1cf8" transform="rotate(-44.02 408.67 494.13)"/>
<ellipse cx="449.37" cy="561.98" rx="4.18" ry="3.14" fill="#5a1ef8" transform="rotate(32.21 449.37 561.98)"/>
<ellipse cx="359.11" cy="493.12" rx="4.34" ry="3.41" fill="#9024e2" transform="rotate(24.19 359.11 493.12)"/>
<ellipse cx="426.25" cy="526.95" rx="4.15" ry="3.22" fill="#8c2cec" transform="rotate(51.76 426.25 526.95)"/>
<ellipse cx="492.1" cy="535.83" rx="3.24" ry="2.79" fill="#a838e6" transform="rotate(-32.93 492.1 535.83)"/>
<ellipse cx="448.54" cy="532.84" rx="3.76" ry="2.95" fill="#8c2cec" transform="rotate(0.29 448.54 532.84)"/>
<ellipse cx="408.76" cy="512.35" rx="3.99" ry="2.8" fill="#a838e6" transform="rotate(67.17 408.76 512.35)"/>
<ellipse cx="481.25" cy="562.06" rx="3.58" ry="2.92" fill="#b43ce0" transform="rotate(51.01 481.25 562.06)"/>
<ellipse cx="409.63" cy="445.5" rx="3.78" ry="3.38" fill="#ba36cc" transform="rotate(-67.92 409.63 445.5)"/>
<ellipse cx="394.99" cy="559.19" rx="3.69" ry="3.32" fill="#4a1cf8" transform="rotate(-32.14 394.99 559.19)"/>
<ellipse cx="400.39" cy="516.18" rx="3.37" ry="3.11" fill="#4a1cf8" transform="rotate(-54.87 400.39 516.18)"/>
<ellipse cx="387" cy="545.21" rx="3.39" ry="2.91" fill="#7a26f0" transform="rotate(35.89 387 545.21)"/>
<ellipse cx="390.83" cy="478.77" rx="4.14" ry="3.18" fill="#b430ce" transform="rotate(18.53 390.83 478.77)"/>
<ellipse cx="376.13" cy="561.65" rx="3.48" ry="2.79" fill="#7a26f0" transform="rotate(-41.97 376.13 561.65)"/>
<ellipse cx="499.41" cy="525.16" rx="3.84" ry="3.21" fill="#9c28de" transform="rotate(17.38 499.41 525.16)"/>
<ellipse cx="360.61" cy="468.8" rx="4.35" ry="3.01" fill="#b430ce" transform="rotate(39.3 360.61 468.8)"/>
<ellipse cx="420.01" cy="552.2" rx="3.83" ry="2.9" fill="#3c1cf8" transform="rotate(-55.25 420.01 552.2)"/>
<ellipse cx="475.78" cy="541.93" rx="3.33" ry="3.36" fill="#b43ce0" transform="rotate(46.32 475.78 541.93)"/>
<ellipse cx="436.17" cy="456.86" rx="3.78" ry="3.21" fill="#a82cd6" transform="rotate(-16.62 436.17 456.86)"/>
<ellipse cx="358.29" cy="552.94" rx="3.89" ry="2.92" fill="#4a1cf8" transform="rotate(-29.14 358.29 552.94)"/>
<ellipse cx="479.66" cy="511.18" rx="3.73" ry="3.02" fill="#8c2cec" transform="rotate(69.86 479.66 511.18)"/>
<ellipse cx="394.22" cy="514.12" rx="3.76" ry="2.94" fill="#7a26f0" transform="rotate(9.1 394.22 514.12)"/>
<ellipse cx="412.47" cy="523.2" rx="3.86" ry="2.77" fill="#4a1cf8" transform="rotate(-8.82 412.47 523.2)"/>
<ellipse cx="433.09" cy="554.2" rx="3.26" ry="3.26" fill="#6a22f4" transform="rotate(-24.87 433.09 554.2)"/>
<ellipse cx="500.58" cy="558.23" rx="3.46" ry="2.87" fill="#a838e6" transform="rotate(-61.7 500.58 558.23)"/>
<ellipse cx="358.68" cy="482.56" rx="3.62" ry="3.64" fill="#ba36cc" transform="rotate(-27.79 358.68 482.56)"/>
<ellipse cx="374.45" cy="501.69" rx="3.76" ry="3.04" fill="#3c1cf8" transform="rotate(-50.22 374.45 501.69)"/>
<ellipse cx="349.34" cy="519.58" rx="4.08" ry="3.59" fill="#a82cd6" transform="rotate(-24.45 349.34 519.58)"/>
<ellipse cx="415.08" cy="516.08" rx="3.6" ry="3.23" fill="#7a26f0" transform="rotate(50.64 415.08 516.08)"/>
<ellipse cx="433.84" cy="490.14" rx="3.69" ry="3.39" fill="#7a26f0" transform="rotate(9.17 433.84 490.14)"/>
<ellipse cx="454.74" cy="507.62" rx="3.7" ry="3.4" fill="#8c2cec" transform="rotate(-35.68 454.74 507.62)"/>
<ellipse cx="440.22" cy="566.9" rx="3.98" ry="3.03" fill="#a838e6" transform="rotate(44.45 440.22 566.9)"/>
<ellipse cx="377.53" cy="457.16" rx="4.02" ry="3.22" fill="#9024e2" transform="rotate(-63.38 377.53 457.16)"/>
<ellipse cx="466.27" cy="540.51" rx="3.6" ry="2.99" fill="#a838e6" transform="rotate(-12.23 466.27 540.51)"/>
<ellipse cx="406.19" cy="542.5" rx="3.83" ry="3.1" fill="#8c2cec" transform="rotate(39.38 406.19 542.5)"/>
<ellipse cx="487.93" cy="531.81" rx="4.13" ry="3.05" fill="#b43ce0" transform="rotate(-16.4 487.93 531.81)"/>
<ellipse cx="485.03" cy="551.65" rx="3.31" ry="3.44" fill="#7a26f0" transform="rotate(-48.65 485.03 551.65)"/>
<ellipse cx="380.99" cy="522.56" rx="3.91" ry="3.07" fill="#8c2cec" transform="rotate(46.55 380.99 522.56)"/>
<ellipse cx="405.82" cy="452.32" rx="4.23" ry="3.05" fill="#b430ce" transform="rotate(-6.96 405.82 452.32)"/>
<ellipse cx="460.03" cy="483.71" rx="3.86" ry="3.38" fill="#3c1cf8" transform="rotate(-3.77 460.03 483.71)"/>
<ellipse cx="464.72" cy="509.49" rx="3.56" ry="2.94" fill="#4a1cf8" transform="rotate(-13.58 464.72 509.49)"/>
<ellipse cx="418.3" cy="496.1" rx="4.17" ry="3.46" fill="#4a1cf8" transform="rotate(61.08 418.3 496.1)"/>
<ellipse cx="450.1" cy="515.35" rx="3.45" ry="3.34" fill="#8c2cec" transform="rotate(-23.28 450.1 515.35)"/>
<ellipse cx="405.41" cy="474.13" rx="3.96" ry="2.98" fill="#3c1cf8" transform="rotate(28.88 405.41 474.13)"/>
<ellipse cx="469.71" cy="515.35" rx="4.07" ry="3.42" fill="#3c1cf8" transform="rotate(65.25 469.71 515.35)"/>
<ellipse cx="441.93" cy="507.84" rx="3.98" ry="2.89" fill="#3c1cf8" transform="rotate(8.39 441.93 507.84)"/>
<ellipse cx="404.06" cy="536.58" rx="3.24" ry="3.29" fill="#6a22f4" transform="rotate(2.32 404.06 536.58)"/>
<ellipse cx="440.76" cy="450.73" rx="4.4" ry="3.03" fill="#a82cd6" transform="rotate(-36.75 440.76 450.73)"/>
<ellipse cx="372.09" cy="473.34" rx="3.66" ry="3.59" fill="#ba36cc" transform="rotate(47.62 372.09 473.34)"/>
<ellipse cx="475.99" cy="532.11" rx="3.62" ry="3.29" fill="#6a22f4" transform="rotate(-46.96 475.99 532.11)"/>
<ellipse cx="363.52" cy="519.07" rx="3.7" ry="3.31" fill="#4a1cf8" transform="rotate(-65.59 363.52 519.07)"/>
<ellipse cx="406.81" cy="548.03" rx="4.1" ry="2.84" fill="#5a1ef8" transform="rotate(-40.81 406.81 548.03)"/>
<ellipse cx="436.91" cy="476.61" rx="3.84" ry="3.24" fill="#7a26f0" transform="rotate(1.22 436.91 476.61)"/>
<ellipse cx="377.77" cy="495.22" rx="3.97" ry="3.13" fill="#7a26f0" transform="rotate(34.62 377.77 495.22)"/>
<ellipse cx="375.82" cy="554.89" rx="3.57" ry="3.13" fill="#7a26f0" transform="rotate(35.21 375.82 554.89)"/>
<ellipse cx="399.27" cy="551.77" rx="4.13" ry="3.02" fill="#7a26f0" transform="rotate(41.8 399.27 551.77)"/>
<ellipse cx="457.2" cy="534.77" rx="3.58" ry="3.34" fill="#4a1cf8" transform="rotate(-29.19 457.2 534.77)"/>
<ellipse cx="448.4" cy="463.66" rx="3.78" ry="3.31" fill="#a82cd6" transform="rotate(-43.87 448.4 463.66)"/>
<ellipse cx="389.11" cy="537.92" rx="3.42" ry="2.83" fill="#6a22f4" transform="rotate(-25.45 389.11 537.92)"/>
<ellipse cx="492.61" cy="542.08" rx="3.46" ry="3.43" fill="#a838e6" transform="rotate(16.82 492.61 542.08)"/>
<ellipse cx="505.12" cy="518.1" rx="4.06" ry="3" fill="#b430ce" transform="rotate(52.79 505.12 518.1)"/>
<ellipse cx="420.05" cy="533.52" rx="3.35" ry="3.09" fill="#7a26f0" transform="rotate(7.58 420.05 533.52)"/>
<ellipse cx="364.14" cy="474.49" rx="3.85" ry="3.41" fill="#9024e2" transform="rotate(14.66 364.14 474.49)"/>
<ellipse cx="460.93" cy="543.72" rx="3.93" ry="3.24" fill="#5a1ef8" transform="rotate(-56.65 460.93 543.72)"/>
<ellipse cx="448.28" cy="469.32" rx="3.81" ry="3.22" fill="#7a26f0" transform="rotate(6.43 448.28 469.32)"/>
<ellipse cx="485.33" cy="545.43" rx="3.42" ry="2.83" fill="#a838e6" transform="rotate(26.75 485.33 545.43)"/>
<ellipse cx="386.75" cy="455.64" rx="4.29" ry="3.79" fill="#9c28de" transform="rotate(15.31 386.75 455.64)"/>
<ellipse cx="421.14" cy="523.48" rx="3.54" ry="3.05" fill="#7a26f0" transform="rotate(36.04 421.14 523.48)"/>
<ellipse cx="490.43" cy="554.64" rx="3.76" ry="3.29" fill="#4a1cf8" transform="rotate(11.8 490.43 554.64)"/>
<ellipse cx="359" cy="526.59" rx="3.39" ry="3.2" fill="#8c2cec" transform="rotate(-29.67 359 526.59)"/>
<ellipse cx="425.37" cy="554.3" rx="4.11" ry="2.77" fill="#7a26f0" transform="rotate(14.92 425.37 554.3)"/>
<ellipse cx="364.92" cy="539.37" rx="3.39" ry="3.16" fill="#7a26f0" transform="rotate(25.51 364.92 539.37)"/>
<ellipse cx="355.35" cy="560.24" rx="3.61" ry="2.77" fill="#6a22f4" transform="rotate(50.63 355.35 560.24)"/>
<ellipse cx="445.13" cy="481.54" rx="4.15" ry="2.8" fill="#3c1cf8" transform="rotate(-61.47 445.13 481.54)"/>
<ellipse cx="396.78" cy="462.06" rx="3.75" ry="3.36" fill="#ba36cc" transform="rotate(35.63 396.78 462.06)"/>
<ellipse cx="483.24" cy="518.52" rx="3.88" ry="3.4" fill="#6a22f4" transform="rotate(28.71 483.24 518.52)"/>
<ellipse cx="458.3" cy="469.71" rx="4.31" ry="3.71" fill="#ba36cc" transform="rotate(19.96 458.3 469.71)"/>
<ellipse cx="433.84" cy="524.01" rx="4.18" ry="2.97" fill="#6a22f4" transform="rotate(-50.07 433.84 524.01)"/>
<ellipse cx="455.8" cy="566.15" rx="3.68" ry="2.9" fill="#4a1cf8" transform="rotate(-7.81 455.8 566.15)"/>
<ellipse cx="441.9" cy="552.1" rx="3.31" ry="3.1" fill="#b43ce0" transform="rotate(-44.47 441.9 552.1)"/>
<ellipse cx="415.67" cy="432.93" rx="3.6" ry="3.04" fill="#ba36cc" transform="rotate(-13.84 415.67 432.93)"/>
<ellipse cx="373.53" cy="509.55" rx="3.92" ry="2.84" fill="#6a22f4" transform="rotate(-17.02 373.53 509.55)"/>
<ellipse cx="464.13" cy="520.78" rx="3.7" ry="3.4" fill="#3c1cf8" transform="rotate(47.19 464.13 520.78)"/>
<ellipse cx="485.08" cy="493.3" rx="4.43" ry="3.06" fill="#ba36cc" transform="rotate(-45.19 485.08 493.3)"/>
<ellipse cx="435.71" cy="538.12" rx="4.03" ry="3.46" fill="#b43ce0" transform="rotate(-65.02 435.71 538.12)"/>
<ellipse cx="469.14" cy="563.73" rx="3.9" ry="2.81" fill="#3c1cf8" transform="rotate(-59.63 469.14 563.73)"/>
<ellipse cx="423.01" cy="463.5" rx="4.16" ry="3.56" fill="#ba36cc" transform="rotate(2.72 423.01 463.5)"/>
<ellipse cx="476.35" cy="485.57" rx="3.89" ry="3.51" fill="#b430ce" transform="rotate(-58.11 476.35 485.57)"/>
<ellipse cx="418.72" cy="561.77" rx="3.27" ry="3.23" fill="#5a1ef8" transform="rotate(-47.05 418.72 561.77)"/>
<ellipse cx="454.73" cy="554.06" rx="3.59" ry="2.85" fill="#7a26f0" transform="rotate(32.63 454.73 554.06)"/>
<ellipse cx="475.55" cy="563.29" rx="3.55" ry="2.87" fill="#a838e6" transform="rotate(32.85 475.55 563.29)"/>
<ellipse cx="399.42" cy="457.19" rx="3.97" ry="3.3" fill="#b430ce" transform="rotate(60.51 399.42 457.19)"/>
<ellipse cx="505.02" cy="561.97" rx="3.77" ry="3.74" fill="#a82cd6" transform="rotate(2.49 505.02 561.97)"/>
<ellipse cx="426.48" cy="484.06" rx="4.08" ry="2.96" fill="#8c2cec" transform="rotate(12.58 426.48 484.06)"/>
<ellipse cx="360.38" cy="507.77" rx="3.83" ry="3.39" fill="#ba36cc" transform="rotate(21.55 360.38 507.77)"/>
<ellipse cx="423.92" cy="517.95" rx="3.52" ry="3.37" fill="#7a26f0" transform="rotate(-55.47 423.92 517.95)"/>
<ellipse cx="366.13" cy="562.78" rx="3.72" ry="3.25" fill="#7a26f0" transform="rotate(-28.62 366.13 562.78)"/>
<ellipse cx="380.87" cy="447.14" rx="4.17" ry="3.09" fill="#ba36cc" transform="rotate(0.27 380.87 447.14)"/>
<ellipse cx="500.56" cy="546.34" rx="4.46" ry="3.15" fill="#b430ce" transform="rotate(49.93 500.56 546.34)"/>
<ellipse cx="375.31" cy="545.54" rx="3.67" ry="3.23" fill="#7a26f0" transform="rotate(-4.87 375.31 545.54)"/>
<ellipse cx="431.73" cy="543.23" rx="3.96" ry="3.21" fill="#b43ce0" transform="rotate(-46.85 431.73 543.23)"/>
<ellipse cx="415.42" cy="462.6" rx="4.13" ry="3.56" fill="#a82cd6" transform="rotate(46.92 415.42 462.6)"/>
<ellipse cx="465.2" cy="473.85" rx="4.49" ry="3.52" fill="#9024e2" transform="rotate(23.25 465.2 473.85)"/>
<ellipse cx="424.99" cy="540.52" rx="3.84" ry="3.28" fill="#3c1cf8" transform="rotate(-36.7 424.99 540.52)"/>
<ellipse cx="429.59" cy="563.67" rx="3.74" ry="3.01" fill="#4a1cf8" transform="rotate(22.91 429.59 563.67)"/>
<ellipse cx="426" cy="511.62" rx="3.41" ry="2.98" fill="#6a22f4" transform="rotate(43.36 426 511.62)"/>
<ellipse cx="407.22" cy="435.66" rx="3.81" ry="3.01" fill="#9024e2" transform="rotate(-29.44 407.22 435.66)"/>
<ellipse cx="363.95" cy="533.54" rx="3.55" ry="3.37" fill="#7a26f0" transform="rotate(17.57 363.95 533.54)"/>
<ellipse cx="356.82" cy="512.3" rx="3.73" ry="3.51" fill="#b430ce" transform="rotate(-57.82 356.82 512.3)"/>
<ellipse cx="451.55" cy="473.91" rx="3.74" ry="2.77" fill="#4a1cf8" transform="rotate(-69.49 451.55 473.91)"/>
<ellipse cx="359.91" cy="547.2" rx="4.02" ry="2.91" fill="#a838e6" transform="rotate(69.29 359.91 547.2)"/>
<ellipse cx="453.87" cy="540.29" rx="3.58" ry="3.03" fill="#a838e6" transform="rotate(24.28 453.87 540.29)"/>
<ellipse cx="402.43" cy="488.04" rx="4.02" ry="3.3" fill="#8c2cec" transform="rotate(-18.57 402.43 488.04)"/>
<ellipse cx="377.95" cy="528.97" rx="3.82" ry="3.36" fill="#5a1ef8" transform="rotate(61.45 377.95 528.97)"/>
<ellipse cx="444.15" cy="488.34" rx="3.31" ry="3.37" fill="#3c1cf8" transform="rotate(21.51 444.15 488.34)"/>
<ellipse cx="390.7" cy="503.16" rx="3.58" ry="3.4" fill="#3c1cf8" transform="rotate(-30.69 390.7 503.16)"/>
<ellipse cx="412.86" cy="542.5" rx="3.96" ry="3.46" fill="#3c1cf8" transform="rotate(-53.54 412.86 542.5)"/>
<ellipse cx="346.44" cy="548.44" rx="4.03" ry="3.25" fill="#b430ce" transform="rotate(3.3 346.44 548.44)"/>
<ellipse cx="455.19" cy="527.58" rx="3.49" ry="3.08" fill="#8c2cec" transform="rotate(29.54 455.19 527.58)"/>
<ellipse cx="470.39" cy="555.62" rx="3.9" ry="3.44" fill="#a838e6" transform="rotate(-16.7 470.39 555.62)"/>
<ellipse cx="442.07" cy="468.2" rx="3.35" ry="3.07" fill="#b43ce0" transform="rotate(-54.85 442.07 468.2)"/>
<ellipse cx="411.84" cy="486.25" rx="3.88" ry="3.16" fill="#a838e6" transform="rotate(35.71 411.84 486.25)"/>
<ellipse cx="438.66" cy="500.71" rx="3.44" ry="2.89" fill="#6a22f4" transform="rotate(59.15 438.66 500.71)"/>
<ellipse cx="467.43" cy="480.62" rx="4.48" ry="3.7" fill="#a82cd6" transform="rotate(61.54 467.43 480.62)"/>
<ellipse cx="448.15" cy="457.94" rx="4.27" ry="3.46" fill="#b430ce" transform="rotate(-60.85 448.15 457.94)"/>
<ellipse cx="453.88" cy="499.83" rx="3.92" ry="2.87" fill="#a838e6" transform="rotate(52.57 453.88 499.83)"/>
<ellipse cx="346.01" cy="539.02" rx="3.71" ry="3.69" fill="#9c28de" transform="rotate(29.51 346.01 539.02)"/>
<ellipse cx="391.59" cy="552.87" rx="3.61" ry="3.4" fill="#5a1ef8" transform="rotate(31.49 391.59 552.87)"/>
<ellipse cx="492.81" cy="519.73" rx="4.23" ry="3.66" fill="#a82cd6" transform="rotate(45.07 492.81 519.73)"/>
<ellipse cx="378.55" cy="472.53" rx="4.37" ry="3.7" fill="#9c28de" transform="rotate(-68.11 378.55 472.53)"/>
<ellipse cx="447.22" cy="556.67" rx="3.26" ry="3.24" fill="#6a22f4" transform="rotate(-54.23 447.22 556.67)"/>
<ellipse cx="401.63" cy="439.64" rx="4.14" ry="3.29" fill="#b430ce" transform="rotate(-68.44 401.63 439.64)"/>
<ellipse cx="412.3" cy="557.92" rx="3.48" ry="3.4" fill="#6a22f4" transform="rotate(15.77 412.3 557.92)"/>
<ellipse cx="509.32" cy="541.41" rx="4.25" ry="3.5" fill="#a82cd6" transform="rotate(-41.71 509.32 541.41)"/>
<ellipse cx="354.63" cy="496.4" rx="3.63" ry="3.49" fill="#b430ce" transform="rotate(-6.81 354.63 496.4)"/>
<ellipse cx="347.09" cy="561.86" rx="3.57" ry="3.36" fill="#8c2cec" transform="rotate(-21.17 347.09 561.86)"/>
<ellipse cx="422.33" cy="451.19" rx="3.83" ry="3.74" fill="#9024e2" transform="rotate(11.82 422.33 451.19)"/>
<ellipse cx="436.73" cy="559.31" rx="3.31" ry="3.08" fill="#3c1cf8" transform="rotate(55.5 436.73 559.31)"/>
<ellipse cx="350.1" cy="529.7" rx="4.1" ry="3.15" fill="#b430ce" transform="rotate(-17.18 350.1 529.7)"/>
<ellipse cx="419.57" cy="443.25" rx="3.73" ry="3.11" fill="#9024e2" transform="rotate(-65.48 419.57 443.25)"/>
<ellipse cx="424.43" cy="565.8" rx="3.64" ry="2.94" fill="#a838e6" transform="rotate(-10.31 424.43 565.8)"/>
<ellipse cx="450.35" cy="484.82" rx="3.49" ry="2.9" fill="#b43ce0" transform="rotate(-16.24 450.35 484.82)"/>
<ellipse cx="460.39" cy="514.87" rx="3.97" ry="3.37" fill="#8c2cec" transform="rotate(-23.74 460.39 514.87)"/>
<ellipse cx="487.37" cy="501.13" rx="3.65" ry="3.07" fill="#9024e2" transform="rotate(26.54 487.37 501.13)"/>
<ellipse cx="421.12" cy="546.01" rx="3.66" ry="3.43" fill="#5a1ef8" transform="rotate(-53.87 421.12 546.01)"/>
<ellipse cx="487.67" cy="506.78" rx="4.51" ry="3.11" fill="#9024e2" transform="rotate(29.46 487.67 506.78)"/>
<ellipse cx="430.72" cy="447.78" rx="4.38" ry="3.68" fill="#a82cd6" transform="rotate(67.33 430.72 447.78)"/>
<ellipse cx="481.26" cy="488.26" rx="3.68" ry="3.57" fill="#9024e2" transform="rotate(-9.22 481.26 488.26)"/>
<ellipse cx="392.26" cy="455.98" rx="4.01" ry="3.08" fill="#b430ce" transform="rotate(3.22 392.26 455.98)"/>
<ellipse cx="463.99" cy="487.66" rx="4.03" ry="3.32" fill="#a838e6" transform="rotate(-3.27 463.99 487.66)"/>
<ellipse cx="491.08" cy="566.7" rx="3.3" ry="3.37" fill="#a838e6" transform="rotate(7.11 491.08 566.7)"/>
<ellipse cx="497.38" cy="566.31" rx="3.24" ry="3.39" fill="#b43ce0" transform="rotate(6.66 497.38 566.31)"/>
<ellipse cx="473.63" cy="523.45" rx="3.64" ry="2.8" fill="#3c1cf8" transform="rotate(-66.05 473.63 523.45)"/>
<ellipse cx="406.24" cy="519" rx="4.06" ry="2.96" fill="#b43ce0" transform="rotate(-40.8 406.24 519)"/>
<ellipse cx="448.51" cy="507.99" rx="3.45" ry="3.43" fill="#5a1ef8" transform="rotate(23.05 448.51 507.99)"/>
<ellipse cx="454.12" cy="480.11" rx="4.05" ry="3.27" fill="#a838e6" transform="rotate(-1.75 454.12 480.11)"/>
<ellipse cx="413.65" cy="549.05" rx="3.55" ry="3.06" fill="#b43ce0" transform="rotate(44.07 413.65 549.05)"/>
<ellipse cx="367.5" cy="510.93" rx="3.56" ry="2.94" fill="#3c1cf8" transform="rotate(51.82 367.5 510.93)"/>
<ellipse cx="431.83" cy="510.44" rx="3.6" ry="2.88" fill="#8c2cec" transform="rotate(25.33 431.83 510.44)"/>
<ellipse cx="509.77" cy="558.99" rx="4.03" ry="3.13" fill="#a82cd6" transform="rotate(14.98 509.77 558.99)"/>
<ellipse cx="423.1" cy="490.17" rx="4.11" ry="3.24" fill="#a838e6" transform="rotate(-56.65 423.1 490.17)"/>
<ellipse cx="398.15" cy="546.3" rx="3.76" ry="3.21" fill="#8c2cec" transform="rotate(-32.93 398.15 546.3)"/>
<ellipse cx="429.06" cy="474.46" rx="3.41" ry="3.06" fill="#4a1cf8" transform="rotate(42.2 429.06 474.46)"/>
<ellipse cx="400.88" cy="445.75" rx="3.82" ry="3.16" fill="#ba36cc" transform="rotate(-52.08 400.88 445.75)"/>
<ellipse cx="365.43" cy="526.79" rx="3.23" ry="3.22" fill="#5a1ef8" transform="rotate(-11.65 365.43 526.79)"/>
<ellipse cx="371.33" cy="488.67" rx="4.44" ry="3.01" fill="#b430ce" transform="rotate(-51.3 371.33 488.67)"/>
<ellipse cx="451.75" cy="521.08" rx="3.32" ry="3.25" fill="#7a26f0" transform="rotate(-48.39 451.75 521.08)"/>
<ellipse cx="400.74" cy="529.64" rx="3.49" ry="3.25" fill="#b43ce0" transform="rotate(25.95 400.74 529.64)"/>
<ellipse cx="406.06" cy="563" rx="3.85" ry="3.03" fill="#8c2cec" transform="rotate(-1.82 406.06 563)"/>
<ellipse cx="366.85" cy="484.33" rx="4.28" ry="3.29" fill="#9024e2" transform="rotate(28.05 366.85 484.33)"/>
<ellipse cx="485.97" cy="524.7" rx="3.72" ry="2.8" fill="#7a26f0" transform="rotate(20.67 485.97 524.7)"/>
<ellipse cx="430.25" cy="531.64" rx="3.59" ry="2.99" fill="#8c2cec" transform="rotate(62.71 430.25 531.64)"/>
<ellipse cx="382.42" cy="504.64" rx="3.68" ry="3.42" fill="#7a26f0" transform="rotate(-63.3 382.42 504.64)"/>
<ellipse cx="464" cy="535.28" rx="3.96" ry="2.78" fill="#4a1cf8" transform="rotate(38.14 464 535.28)"/>
<ellipse cx="493.03" cy="528.88" rx="4.11" ry="2.96" fill="#5a1ef8" transform="rotate(-56.17 493.03 528.88)"/>
<ellipse cx="365.47" cy="465.24" rx="3.89" ry="3.25" fill="#ba36cc" transform="rotate(45.89 365.47 465.24)"/>
<ellipse cx="354.09" cy="565.66" rx="3.82" ry="3.19" fill="#6a22f4" transform="rotate(-30.89 354.09 565.66)"/>
<ellipse cx="355.36" cy="521.61" rx="3.81" ry="3.44" fill="#9c28de" transform="rotate(-19.44 355.36 521.61)"/>
<ellipse cx="462.4" cy="527.8" rx="3.74" ry="3.03" fill="#6a22f4" transform="rotate(36.62 462.4 527.8)"/>
<ellipse cx="390" cy="443.42" rx="3.94" ry="3.34" fill="#9024e2" transform="rotate(-51.92 390 443.42)"/>
<ellipse cx="373.33" cy="461.65" rx="4.51" ry="3.17" fill="#ba36cc" transform="rotate(-68.22 373.33 461.65)"/>
<ellipse cx="440.13" cy="484.17" rx="3.9" ry="2.88" fill="#3c1cf8" transform="rotate(23.15 440.13 484.17)"/>
<ellipse cx="471.14" cy="502.35" rx="3.91" ry="3.08" fill="#7a26f0" transform="rotate(62.73 471.14 502.35)"/>
<ellipse cx="419.13" cy="468.44" rx="3.37" ry="2.78" fill="#b43ce0" transform="rotate(10.44 419.13 468.44)"/>
<ellipse cx="443.19" cy="514.8" rx="3.67" ry="2.84" fill="#6a22f4" transform="rotate(-21.78 443.19 514.8)"/>
<ellipse cx="391.25" cy="519.42" rx="3.67" ry="2.98" fill="#a838e6" transform="rotate(-35.57 391.25 519.42)"/>
<ellipse cx="386.43" cy="516.23" rx="3.76" ry="3.26" fill="#5a1ef8" transform="rotate(57.09 386.43 516.23)"/>
<ellipse cx="504.43" cy="528.13" rx="4.22" ry="3.35" fill="#b430ce" transform="rotate(-51.06 504.43 528.13)"/>
<ellipse cx="369.27" cy="517.07" rx="3.73" ry="2.8" fill="#5a1ef8" transform="rotate(-22.43 369.27 517.07)"/>
<ellipse cx="492.4" cy="547.74" rx="3.45" ry="3.19" fill="#5a1ef8" transform="rotate(44.26 492.4 547.74)"/>
<ellipse cx="464.94" cy="557.88" rx="3.47" ry="3.04" fill="#8c2cec" transform="rotate(15.44 464.94 557.88)"/>
<ellipse cx="394.27" cy="507.98" rx="3.29" ry="3.31" fill="#5a1ef8" transform="rotate(60.03 394.27 507.98)"/>
<ellipse cx="361.93" cy="566.43" rx="3.46" ry="3.41" fill="#7a26f0" transform="rotate(-17.06 361.93 566.43)"/>
<ellipse cx="434.27" cy="484.53" rx="3.82" ry="3.04" fill="#8c2cec" transform="rotate(-12.49 434.27 484.53)"/>
<ellipse cx="414.88" cy="500.95" rx="3.66" ry="3.39" fill="#4a1cf8" transform="rotate(-37.42 414.88 500.95)"/>
<ellipse cx="368.89" cy="504.11" rx="3.94" ry="3.33" fill="#a838e6" transform="rotate(34.58 368.89 504.11)"/>
<ellipse cx="395.07" cy="536.74" rx="3.31" ry="3.27" fill="#8c2cec" transform="rotate(-63.85 395.07 536.74)"/>
<ellipse cx="391.75" cy="530.33" rx="3.7" ry="2.79" fill="#a838e6" transform="rotate(32.76 391.75 530.33)"/>
<ellipse cx="446.27" cy="567.15" rx="3.58" ry="2.89" fill="#b43ce0" transform="rotate(-31.78 446.27 567.15)"/>
<ellipse cx="388.67" cy="510.23" rx="3.38" ry="3.03" fill="#4a1cf8" transform="rotate(43.94 388.67 510.23)"/>
<ellipse cx="397.95" cy="450.6" rx="4.17" ry="3.35" fill="#9c28de" transform="rotate(22.83 397.95 450.6)"/>
<ellipse cx="439.25" cy="520.17" rx="3.43" ry="2.99" fill="#3c1cf8" transform="rotate(48.45 439.25 520.17)"/>
<ellipse cx="498.7" cy="537.3" rx="3.39" ry="3.33" fill="#b43ce0" transform="rotate(-55.08 498.7 537.3)"/>
<ellipse cx="345.01" cy="524.05" rx="3.95" ry="3.33" fill="#9c28de" transform="rotate(33.86 345.01 524.05)"/>
<ellipse cx="487.18" cy="562.81" rx="4.14" ry="2.98" fill="#4a1cf8" transform="rotate(-31.06 487.18 562.81)"/>
<ellipse cx="369.22" cy="530.98" rx="3.92" ry="2.8" fill="#a838e6" transform="rotate(62.83 369.22 530.98)"/>
<ellipse cx="398.25" cy="475.65" rx="4.05" ry="3.8" fill="#9c28de" transform="rotate(-0.79 398.25 475.65)"/>
<ellipse cx="352.21" cy="545.22" rx="4.08" ry="3.16" fill="#b43ce0" transform="rotate(23.91 352.21 545.22)"/>
<ellipse cx="508.97" cy="566.36" rx="4.33" ry="3.37" fill="#ba36cc" transform="rotate(64.45 508.97 566.36)"/>
<ellipse cx="392.29" cy="564.18" rx="3.55" ry="2.99" fill="#a838e6" transform="rotate(20.73 392.29 564.18)"/>
<ellipse cx="368.97" cy="478.42" rx="3.93" ry="3.45" fill="#9c28de" transform="rotate(44.14 368.97 478.42)"/>
<ellipse cx="413.75" cy="491.94" rx="3.8" ry="3.43" fill="#a838e6" transform="rotate(-19.02 413.75 491.94)"/>
<ellipse cx="470.98" cy="470.81" rx="4.01" ry="3.2" fill="#9c28de" transform="rotate(47.76 470.98 470.81)"/>
<ellipse cx="370.05" cy="496.6" rx="3.97" ry="3.1" fill="#a82cd6" transform="rotate(52.69 370.05 496.6)"/>
<ellipse cx="369.84" cy="567.14" rx="4.05" ry="2.82" fill="#4a1cf8" transform="rotate(-21.78 369.84 567.14)"/>
<ellipse cx="468.43" cy="548.9" rx="3.26" ry="3.16" fill="#3c1cf8" transform="rotate(59.64 468.43 548.9)"/>
<ellipse cx="379.44" cy="566.36" rx="4.01" ry="3.07" fill="#4a1cf8" transform="rotate(-18.56 379.44 566.36)"/>
<ellipse cx="401.26" cy="521.7" rx="3.81" ry="3.24" fill="#8c2cec" transform="rotate(47.08 401.26 521.7)"/>
<ellipse cx="460.79" cy="504.68" rx="3.53" ry="2.94" fill="#5a1ef8" transform="rotate(13.44 460.79 504.68)"/>
<ellipse cx="373.6" cy="534.88" rx="3.67" ry="2.81" fill="#a838e6" transform="rotate(-60.73 373.6 534.88)"/>
<ellipse cx="509.69" cy="548.6" rx="3.61" ry="3.57" fill="#b430ce" transform="rotate(17.57 509.69 548.6)"/>
<ellipse cx="434.41" cy="566.43" rx="3.73" ry="3.21" fill="#3c1cf8" transform="rotate(32.46 434.41 566.43)"/>
<ellipse cx="448.37" cy="541.34" rx="4.01" ry="2.78" fill="#3c1cf8" transform="rotate(56.71 448.37 541.34)"/>
<ellipse cx="415.79" cy="528.36" rx="3.63" ry="2.77" fill="#3c1cf8" transform="rotate(-23.42 415.79 528.36)"/>
<ellipse cx="421.89" cy="437.61" rx="3.72" ry="3.21" fill="#9024e2" transform="rotate(-55.53 421.89 437.61)"/>
<ellipse cx="390.6" cy="461.43" rx="3.61" ry="3.5" fill="#ba36cc" transform="rotate(25.96 390.6 461.43)"/>
<ellipse cx="415.06" cy="454.64" rx="4.07" ry="3.55" fill="#b430ce" transform="rotate(18.39 415.06 454.64)"/>
<ellipse cx="362.4" cy="487.89" rx="4.53" ry="3.41" fill="#b430ce" transform="rotate(54.68 362.4 487.89)"/>
<ellipse cx="424.25" cy="560.21" rx="3.64" ry="3.14" fill="#7a26f0" transform="rotate(65.34 424.25 560.21)"/>
<ellipse cx="478.9" cy="478.41" rx="3.86" ry="3.5" fill="#b430ce" transform="rotate(18.33 478.9 478.41)"/>
<ellipse cx="468.82" cy="527.29" rx="3.69" ry="3.45" fill="#a838e6" transform="rotate(-10.06 468.82 527.29)"/>
<ellipse cx="476.92" cy="518.31" rx="3.73" ry="3.24" fill="#4a1cf8" transform="rotate(54.81 476.92 518.31)"/>
<ellipse cx="484.32" cy="557.43" rx="3.67" ry="3.45" fill="#5a1ef8" transform="rotate(-64.43 484.32 557.43)"/>
<ellipse cx="454.68" cy="489.12" rx="3.8" ry="3.07" fill="#6a22f4" transform="rotate(46.7 454.68 489.12)"/>
<ellipse cx="502.87" cy="541.1" rx="3.84" ry="3.66" fill="#ba36cc" transform="rotate(-43.98 502.87 541.1)"/>
<ellipse cx="481.89" cy="502.99" rx="3.71" ry="3.07" fill="#6a22f4" transform="rotate(43.69 481.89 502.99)"/>
<ellipse cx="345.68" cy="514.76" rx="3.88" ry="3.61" fill="#ba36cc" transform="rotate(-36.59 345.68 514.76)"/>
<ellipse cx="392.39" cy="547.36" rx="3.67" ry="2.89" fill="#6a22f4" transform="rotate(-60.74 392.39 547.36)"/>
<ellipse cx="442.92" cy="474.97" rx="4.04" ry="3.12" fill="#4a1cf8" transform="rotate(-49 442.92 474.97)"/>
<ellipse cx="433.63" cy="504.8" rx="3.47" ry="2.83" fill="#5a1ef8" transform="rotate(-66.77 433.63 504.8)"/>
<ellipse cx="384.07" cy="529.7" rx="3.35" ry="2.92" fill="#6a22f4" transform="rotate(-22.91 384.07 529.7)"/>
<ellipse cx="465.58" cy="493.92" rx="3.82" ry="3.02" fill="#7a26f0" transform="rotate(-50.42 465.58 493.92)"/>
<ellipse cx="442.35" cy="560.29" rx="3.53" ry="2.96" fill="#4a1cf8" transform="rotate(-64.53 442.35 560.29)"/>
<ellipse cx="409.64" cy="459.5" rx="5.03" ry="4.07" fill="#98f0d2" transform="rotate(-10 409.64 459.5)"/>
<ellipse cx="409.64" cy="459.5" rx="2.77" ry="2.24" fill="#d8fff0" opacity="0.8" transform="rotate(-10 409.64 459.5)"/>
<ellipse cx="398.87" cy="467.88" rx="4.07" ry="5.03" fill="#98f0d2" transform="rotate(25 398.87 467.88)"/>
<ellipse cx="398.87" cy="467.88" rx="2.24" ry="2.77" fill="#d8fff0" opacity="0.8" transform="rotate(25 398.87 467.88)"/>
<ellipse cx="384.5" cy="476.26" rx="3.35" ry="3.59" fill="#98f0d2"/>
<ellipse cx="384.5" cy="476.26" rx="1.84" ry="1.98" fill="#d8fff0" opacity="0.8"/>
<ellipse cx="379.71" cy="483.44" rx="3.35" ry="3.35" fill="#98f0d2"/>
<ellipse cx="379.71" cy="483.44" rx="1.84" ry="1.84" fill="#d8fff0" opacity="0.8"/>
<ellipse cx="382.11" cy="467.88" rx="2.87" ry="3.59" fill="#98f0d2"/>
<ellipse cx="382.11" cy="467.88" rx="1.58" ry="1.98" fill="#d8fff0" opacity="0.8"/>
<ellipse cx="390.49" cy="471.47" rx="2.87" ry="2.87" fill="#98f0d2"/>
<ellipse cx="390.49" cy="471.47" rx="1.58" ry="1.58" fill="#d8fff0" opacity="0.8"/>
<ellipse cx="450.34" cy="452.32" rx="3.83" ry="3.11" fill="#98f0d2"/>
<ellipse cx="450.34" cy="452.32" rx="2.11" ry="1.71" fill="#d8fff0" opacity="0.8"/>
<ellipse cx="459.44" cy="462.61" rx="4.07" ry="3.59" fill="#98f0d2"/>
<ellipse cx="459.44" cy="462.61" rx="2.24" ry="1.98" fill="#d8fff0" opacity="0.8"/>
<ellipse cx="414.43" cy="441.55" rx="2.87" ry="2.15" fill="#98f0d2"/>
<ellipse cx="414.43" cy="441.55" rx="1.58" ry="1.19" fill="#d8fff0" opacity="0.8"/>
<ellipse cx="495.83" cy="500.2" rx="2.15" ry="3.59" fill="#98f0d2" transform="rotate(-20 495.83 500.2)"/>
<ellipse cx="495.83" cy="500.2" rx="1.19" ry="1.98" fill="#d8fff0" opacity="0.8" transform="rotate(-20 495.83 500.2)"/>
<ellipse cx="497.02" cy="510.5" rx="2.63" ry="2.15" fill="#98f0d2"/>
<ellipse cx="497.02" cy="510.5" rx="1.45" ry="1.19" fill="#d8fff0" opacity="0.8"/>
<ellipse cx="480.26" cy="536.83" rx="2.63" ry="3.11" fill="#98f0d2"/>
<ellipse cx="480.26" cy="536.83" rx="1.45" ry="1.71" fill="#d8fff0" opacity="0.8"/>
<ellipse cx="348.59" cy="552.87" rx="2.63" ry="2.15" fill="#98f0d2"/>
<ellipse cx="348.59" cy="552.87" rx="1.45" ry="1.19" fill="#d8fff0" opacity="0.8"/>
<ellipse cx="501.81" cy="532.52" rx="2.15" ry="2.15" fill="#98f0d2"/>
<ellipse cx="501.81" cy="532.52" rx="1.19" ry="1.19" fill="#d8fff0" opacity="0.8"/>
<ellipse cx="474.28" cy="508.58" rx="2.63" ry="2.15" fill="#98f0d2"/>
<ellipse cx="474.28" cy="508.58" rx="1.45" ry="1.19" fill="#d8fff0" opacity="0.8"/>
<ellipse cx="440.76" cy="543.77" rx="2.15" ry="2.15" fill="#98f0d2"/>
<ellipse cx="440.76" cy="543.77" rx="1.19" ry="1.19" fill="#d8fff0" opacity="0.8"/>
<ellipse cx="385.22" cy="489.43" rx="1.68" ry="2.63" fill="#98f0d2"/>
<ellipse cx="385.22" cy="489.43" rx="0.92" ry="1.45" fill="#d8fff0" opacity="0.8"/>
</g>
<line x1="414" y1="448.2" x2="406.29" y2="457.48" stroke="#f2e21c" stroke-width="1.25"/>
<path d="M402.2 462.4L403.91 455.5L408.67 459.46Z" fill="#f2e21c"/>
<text transform="translate(488.65,555.6) scale(1,1.1)" font-size="10.7" font-weight="bold" text-anchor="middle" fill="#e6e6e6">50µm</text>
<line x1="476.7" y1="559.6" x2="496.8" y2="559.6" stroke="#d8d8d8" stroke-width="1"/>
</g>
<rect x="346.1" y="566.8" width="43.7" height="33.6" fill="#020203"/>
<rect x="405.1" y="566.8" width="43.7" height="33.6" fill="#020203"/>
<rect x="463.8" y="566.8" width="43.7" height="33.6" fill="#020203"/>
<defs><clipPath id="cdt1"><rect x="346.1" y="566.8" width="43.7" height="33.6"/></clipPath></defs>
<defs><clipPath id="cdt3"><rect x="463.8" y="566.8" width="43.7" height="33.6"/></clipPath></defs>
<g clip-path="url(#cdt1)">
<circle cx="353.18" cy="590.56" r="0.75" fill="#2626e8" opacity=".85"/>
<circle cx="374.19" cy="583.54" r="0.75" fill="#2626e8" opacity=".85"/>
<circle cx="381.91" cy="584.65" r="0.75" fill="#2626e8" opacity=".85"/>
<circle cx="368.38" cy="575.44" r="0.75" fill="#2626e8" opacity=".85"/>
<circle cx="390.39" cy="592.19" r="0.75" fill="#2626e8" opacity=".85"/>
<circle cx="384.92" cy="588.1" r="0.75" fill="#2626e8" opacity=".85"/>
<circle cx="368.04" cy="571.43" r="0.75" fill="#2626e8" opacity=".85"/>
<circle cx="352.72" cy="594.82" r="0.75" fill="#2626e8" opacity=".85"/>
<circle cx="351.38" cy="598.5" r="0.75" fill="#2626e8" opacity=".85"/>
<circle cx="366.06" cy="585.97" r="0.75" fill="#2626e8" opacity=".85"/>
<circle cx="361.13" cy="583.72" r="0.75" fill="#2626e8" opacity=".85"/>
<circle cx="389.1" cy="597.37" r="0.75" fill="#2626e8" opacity=".85"/>
<circle cx="371.76" cy="591.89" r="0.75" fill="#2626e8" opacity=".85"/>
<circle cx="351.28" cy="583.45" r="0.75" fill="#2626e8" opacity=".85"/>
<circle cx="387.07" cy="597.15" r="0.75" fill="#2626e8" opacity=".85"/>
<circle cx="365.98" cy="580.43" r="0.75" fill="#2626e8" opacity=".85"/>
<circle cx="377.9" cy="600.66" r="0.75" fill="#2626e8" opacity=".85"/>
<circle cx="367.97" cy="583.95" r="0.75" fill="#2626e8" opacity=".85"/>
<circle cx="370.41" cy="592.51" r="0.75" fill="#2626e8" opacity=".85"/>
<circle cx="355.73" cy="587.86" r="0.75" fill="#2626e8" opacity=".85"/>
<circle cx="370.68" cy="588.32" r="0.75" fill="#2626e8" opacity=".85"/>
<circle cx="353.88" cy="573.24" r="0.75" fill="#2626e8" opacity=".85"/>
<circle cx="361.37" cy="598.47" r="0.75" fill="#2626e8" opacity=".85"/>
<circle cx="361.3" cy="587.48" r="0.75" fill="#2626e8" opacity=".85"/>
<circle cx="359.51" cy="571.01" r="0.75" fill="#2626e8" opacity=".85"/>
<circle cx="348.74" cy="594.69" r="0.75" fill="#2626e8" opacity=".85"/>
<circle cx="380.53" cy="580.06" r="0.75" fill="#2626e8" opacity=".85"/>
<circle cx="376.35" cy="590.1" r="0.75" fill="#2626e8" opacity=".85"/>
<circle cx="385.97" cy="599.51" r="0.75" fill="#2626e8" opacity=".85"/>
<circle cx="364" cy="600.54" r="0.75" fill="#2626e8" opacity=".85"/>
<circle cx="388.78" cy="587.25" r="0.75" fill="#2626e8" opacity=".85"/>
<circle cx="385.28" cy="583.93" r="0.75" fill="#2626e8" opacity=".85"/>
<circle cx="362.59" cy="575.81" r="0.75" fill="#2626e8" opacity=".85"/>
<circle cx="380.4" cy="583.67" r="0.75" fill="#2626e8" opacity=".85"/>
<circle cx="357.33" cy="577.23" r="0.75" fill="#2626e8" opacity=".85"/>
<circle cx="364.56" cy="573.26" r="0.75" fill="#2626e8" opacity=".85"/>
<circle cx="348.91" cy="578.84" r="0.75" fill="#2626e8" opacity=".85"/>
<circle cx="357.08" cy="599.53" r="0.75" fill="#2626e8" opacity=".85"/>
<circle cx="383.27" cy="594.07" r="0.75" fill="#2626e8" opacity=".85"/>
<circle cx="369.69" cy="576.77" r="0.75" fill="#2626e8" opacity=".85"/>
<circle cx="376.43" cy="599.37" r="0.75" fill="#2626e8" opacity=".85"/>
<circle cx="346.85" cy="587.36" r="0.75" fill="#2626e8" opacity=".85"/>
<circle cx="374.58" cy="595.96" r="0.75" fill="#2626e8" opacity=".85"/>
<circle cx="371.92" cy="576.14" r="0.75" fill="#2626e8" opacity=".85"/>
<circle cx="352.1" cy="596.48" r="0.75" fill="#2626e8" opacity=".85"/>
<circle cx="369.88" cy="578.38" r="0.75" fill="#2626e8" opacity=".85"/>
<circle cx="377.58" cy="596.7" r="0.75" fill="#2626e8" opacity=".85"/>
<circle cx="348.64" cy="593.03" r="0.75" fill="#2626e8" opacity=".85"/>
<circle cx="357.11" cy="590.79" r="0.75" fill="#2626e8" opacity=".85"/>
<circle cx="363.18" cy="577.88" r="0.75" fill="#2626e8" opacity=".85"/>
<circle cx="368.29" cy="585.88" r="0.75" fill="#2626e8" opacity=".85"/>
<circle cx="372.67" cy="584.51" r="0.75" fill="#2626e8" opacity=".85"/>
<circle cx="359.67" cy="590.88" r="0.75" fill="#2626e8" opacity=".85"/>
<circle cx="360.02" cy="600.67" r="0.75" fill="#2626e8" opacity=".85"/>
<circle cx="368.93" cy="580.55" r="0.75" fill="#2626e8" opacity=".85"/>
<circle cx="347.98" cy="582.03" r="0.75" fill="#2626e8" opacity=".85"/>
<circle cx="382.33" cy="591.69" r="0.75" fill="#2626e8" opacity=".85"/>
<circle cx="366.18" cy="575.45" r="0.75" fill="#2626e8" opacity=".85"/>
<circle cx="363.03" cy="583.79" r="0.75" fill="#2626e8" opacity=".85"/>
<circle cx="374.04" cy="599.67" r="0.75" fill="#2626e8" opacity=".85"/>
<circle cx="349.62" cy="583.56" r="0.75" fill="#2626e8" opacity=".85"/>
<circle cx="367.79" cy="591.47" r="0.75" fill="#2626e8" opacity=".85"/>
<circle cx="385.61" cy="593.55" r="0.75" fill="#2626e8" opacity=".85"/>
<circle cx="373.82" cy="592.85" r="0.75" fill="#2626e8" opacity=".85"/>
<circle cx="363.05" cy="588.06" r="0.75" fill="#2626e8" opacity=".85"/>
<circle cx="382.67" cy="599.69" r="0.75" fill="#2626e8" opacity=".85"/>
<circle cx="359.78" cy="577.96" r="0.75" fill="#2626e8" opacity=".85"/>
<circle cx="363.29" cy="572.42" r="0.75" fill="#2626e8" opacity=".85"/>
<circle cx="359.33" cy="599.02" r="0.75" fill="#2626e8" opacity=".85"/>
<circle cx="360.79" cy="588.95" r="0.75" fill="#2626e8" opacity=".85"/>
<circle cx="376.27" cy="576.26" r="0.75" fill="#2626e8" opacity=".85"/>
<circle cx="357.17" cy="595.75" r="0.75" fill="#2626e8" opacity=".85"/>
<circle cx="358.2" cy="580.2" r="0.75" fill="#2626e8" opacity=".85"/>
<circle cx="358.35" cy="573.38" r="0.75" fill="#2626e8" opacity=".85"/>
<circle cx="354.23" cy="599.59" r="0.75" fill="#2626e8" opacity=".85"/>
<circle cx="387.58" cy="591.05" r="0.75" fill="#2626e8" opacity=".85"/>
<circle cx="346.65" cy="584.27" r="0.75" fill="#2626e8" opacity=".85"/>
<circle cx="346.14" cy="585.71" r="0.75" fill="#2626e8" opacity=".85"/>
<circle cx="350.03" cy="577.87" r="0.75" fill="#2626e8" opacity=".85"/>
<circle cx="366.1" cy="597.38" r="0.75" fill="#2626e8" opacity=".85"/>
<circle cx="381.19" cy="594.98" r="0.75" fill="#2626e8" opacity=".85"/>
<circle cx="354.19" cy="581" r="0.75" fill="#2626e8" opacity=".85"/>
<circle cx="370.47" cy="575.07" r="0.75" fill="#2626e8" opacity=".85"/>
<circle cx="349.4" cy="597.56" r="0.75" fill="#2626e8" opacity=".85"/>
<circle cx="382.24" cy="587.78" r="0.75" fill="#2626e8" opacity=".85"/>
<circle cx="381.57" cy="578.83" r="0.75" fill="#2626e8" opacity=".85"/>
<circle cx="359.12" cy="588.47" r="0.75" fill="#2626e8" opacity=".85"/>
<circle cx="387.41" cy="585.52" r="0.75" fill="#2626e8" opacity=".85"/>
<circle cx="364.06" cy="590.6" r="0.75" fill="#2626e8" opacity=".85"/>
<circle cx="373.88" cy="573.37" r="0.75" fill="#2626e8" opacity=".85"/>
<circle cx="376.17" cy="574.81" r="0.75" fill="#2626e8" opacity=".85"/>
<circle cx="369.64" cy="597.85" r="0.75" fill="#2626e8" opacity=".85"/>
<circle cx="387.9" cy="598.79" r="0.75" fill="#2626e8" opacity=".85"/>
<circle cx="349.5" cy="581.09" r="0.75" fill="#2626e8" opacity=".85"/>
<circle cx="353.77" cy="585.56" r="0.75" fill="#2626e8" opacity=".85"/>
<circle cx="346.98" cy="589.75" r="0.75" fill="#2626e8" opacity=".85"/>
<circle cx="351.29" cy="575.57" r="0.75" fill="#2626e8" opacity=".85"/>
<circle cx="364.77" cy="588.93" r="0.75" fill="#2626e8" opacity=".85"/>
<circle cx="369.84" cy="582.86" r="0.75" fill="#2626e8" opacity=".85"/>
<circle cx="375.5" cy="586.95" r="0.75" fill="#2626e8" opacity=".85"/>
<circle cx="371.57" cy="600.82" r="0.75" fill="#2626e8" opacity=".85"/>
<circle cx="354.6" cy="575.14" r="0.75" fill="#2626e8" opacity=".85"/>
<circle cx="378.62" cy="594.65" r="0.75" fill="#2626e8" opacity=".85"/>
<circle cx="367.38" cy="569.4" r="0.75" fill="#2626e8" opacity=".85"/>
<circle cx="362.36" cy="595.11" r="0.75" fill="#2626e8" opacity=".85"/>
<circle cx="384.48" cy="592.61" r="0.75" fill="#2626e8" opacity=".85"/>
<circle cx="383.69" cy="597.25" r="0.75" fill="#2626e8" opacity=".85"/>
<circle cx="355.54" cy="590.45" r="0.75" fill="#2626e8" opacity=".85"/>
<circle cx="362.26" cy="574.01" r="0.75" fill="#2626e8" opacity=".85"/>
<circle cx="376.93" cy="581.36" r="0.75" fill="#2626e8" opacity=".85"/>
<circle cx="378.2" cy="587.39" r="0.75" fill="#2626e8" opacity=".85"/>
<circle cx="365.64" cy="584.26" r="0.75" fill="#2626e8" opacity=".85"/>
<circle cx="374.24" cy="588.76" r="0.75" fill="#2626e8" opacity=".85"/>
<circle cx="362.15" cy="579.11" r="0.75" fill="#2626e8" opacity=".85"/>
<circle cx="379.55" cy="588.76" r="0.75" fill="#2626e8" opacity=".85"/>
<circle cx="372.03" cy="587" r="0.75" fill="#2626e8" opacity=".85"/>
<circle cx="355.68" cy="571.29" r="0.75" fill="#2626e8" opacity=".85"/>
<circle cx="369.69" cy="571.42" r="0.75" fill="#2626e8" opacity=".85"/>
<circle cx="361.78" cy="593.73" r="0.75" fill="#2626e8" opacity=".85"/>
<circle cx="371.71" cy="573.64" r="0.75" fill="#2626e8" opacity=".85"/>
<circle cx="388.92" cy="593.44" r="0.75" fill="#2626e8" opacity=".85"/>
<circle cx="353.13" cy="578.93" r="0.75" fill="#2626e8" opacity=".85"/>
<circle cx="381.25" cy="592.68" r="0.75" fill="#2626e8" opacity=".85"/>
<circle cx="350.81" cy="589.63" r="0.75" fill="#2626e8" opacity=".85"/>
<circle cx="362.53" cy="596.41" r="0.75" fill="#2626e8" opacity=".85"/>
<circle cx="370.67" cy="579.7" r="0.75" fill="#2626e8" opacity=".85"/>
<circle cx="354.67" cy="584.05" r="0.75" fill="#2626e8" opacity=".85"/>
<circle cx="354.14" cy="598.01" r="0.75" fill="#2626e8" opacity=".85"/>
<circle cx="360.49" cy="597.28" r="0.75" fill="#2626e8" opacity=".85"/>
<circle cx="376.16" cy="593.3" r="0.75" fill="#2626e8" opacity=".85"/>
<circle cx="373.78" cy="576.66" r="0.75" fill="#2626e8" opacity=".85"/>
<circle cx="357.74" cy="594.04" r="0.75" fill="#2626e8" opacity=".85"/>
<circle cx="385.74" cy="595.01" r="0.75" fill="#2626e8" opacity=".85"/>
<circle cx="389.13" cy="589.4" r="0.75" fill="#2626e8" opacity=".85"/>
<circle cx="366.11" cy="593.01" r="0.75" fill="#2626e8" opacity=".85"/>
<circle cx="350.98" cy="579.2" r="0.75" fill="#2626e8" opacity=".85"/>
<circle cx="377.17" cy="595.4" r="0.75" fill="#2626e8" opacity=".85"/>
<circle cx="373.75" cy="577.99" r="0.75" fill="#2626e8" opacity=".85"/>
<circle cx="383.77" cy="595.8" r="0.75" fill="#2626e8" opacity=".85"/>
<circle cx="357.1" cy="574.79" r="0.75" fill="#2626e8" opacity=".85"/>
<circle cx="366.4" cy="590.66" r="0.75" fill="#2626e8" opacity=".85"/>
<circle cx="385.15" cy="597.95" r="0.75" fill="#2626e8" opacity=".85"/>
<circle cx="349.59" cy="591.39" r="0.75" fill="#2626e8" opacity=".85"/>
<circle cx="367.55" cy="597.87" r="0.75" fill="#2626e8" opacity=".85"/>
<circle cx="351.19" cy="594.38" r="0.75" fill="#2626e8" opacity=".85"/>
<circle cx="348.6" cy="599.26" r="0.75" fill="#2626e8" opacity=".85"/>
<circle cx="372.9" cy="580.85" r="0.75" fill="#2626e8" opacity=".85"/>
<circle cx="354.14" cy="577.51" r="0.75" fill="#2626e8" opacity=".85"/>
<circle cx="359.81" cy="576.29" r="0.75" fill="#2626e8" opacity=".85"/>
<circle cx="350.99" cy="585.34" r="0.75" fill="#2626e8" opacity=".85"/>
<circle cx="361.07" cy="577.28" r="0.75" fill="#2626e8" opacity=".85"/>
<circle cx="383.21" cy="589.5" r="0.75" fill="#2626e8" opacity=".85"/>
<circle cx="376.46" cy="578.08" r="0.75" fill="#2626e8" opacity=".85"/>
<circle cx="378.14" cy="576.41" r="0.75" fill="#2626e8" opacity=".85"/>
<circle cx="369.84" cy="590.79" r="0.75" fill="#2626e8" opacity=".85"/>
<circle cx="356.4" cy="581.91" r="0.75" fill="#2626e8" opacity=".85"/>
<circle cx="375.78" cy="600.65" r="0.75" fill="#2626e8" opacity=".85"/>
<circle cx="387.44" cy="588.55" r="0.75" fill="#2626e8" opacity=".85"/>
<circle cx="372.02" cy="597.36" r="0.75" fill="#2626e8" opacity=".85"/>
<circle cx="364.93" cy="569.47" r="0.75" fill="#2626e8" opacity=".85"/>
<circle cx="353.52" cy="587.4" r="0.75" fill="#2626e8" opacity=".85"/>
<circle cx="378.04" cy="590.03" r="0.75" fill="#2626e8" opacity=".85"/>
<circle cx="383.71" cy="583.6" r="0.75" fill="#2626e8" opacity=".85"/>
<circle cx="370.35" cy="594.09" r="0.75" fill="#2626e8" opacity=".85"/>
<circle cx="379.39" cy="600.08" r="0.75" fill="#2626e8" opacity=".85"/>
<circle cx="366.91" cy="576.63" r="0.75" fill="#2626e8" opacity=".85"/>
<circle cx="381.34" cy="581.79" r="0.75" fill="#2626e8" opacity=".85"/>
<circle cx="379.61" cy="577.01" r="0.75" fill="#2626e8" opacity=".85"/>
<circle cx="365.75" cy="599.62" r="0.75" fill="#2626e8" opacity=".85"/>
<circle cx="375.49" cy="597.82" r="0.75" fill="#2626e8" opacity=".85"/>
<circle cx="381.13" cy="599.98" r="0.75" fill="#2626e8" opacity=".85"/>
<circle cx="360.53" cy="575.15" r="0.75" fill="#2626e8" opacity=".85"/>
<circle cx="389.1" cy="599.67" r="0.75" fill="#2626e8" opacity=".85"/>
<circle cx="367.85" cy="581.44" r="0.75" fill="#2626e8" opacity=".85"/>
<circle cx="349.96" cy="586.99" r="0.75" fill="#2626e8" opacity=".85"/>
<circle cx="367.16" cy="589.37" r="0.75" fill="#2626e8" opacity=".85"/>
<circle cx="351.52" cy="599.86" r="0.75" fill="#2626e8" opacity=".85"/>
<circle cx="383.73" cy="580.52" r="0.75" fill="#2626e8" opacity=".85"/>
<circle cx="355.51" cy="572.8" r="0.75" fill="#2626e8" opacity=".85"/>
<circle cx="387.89" cy="596.01" r="0.75" fill="#2626e8" opacity=".85"/>
<circle cx="354.01" cy="595.82" r="0.75" fill="#2626e8" opacity=".85"/>
<circle cx="369.27" cy="595.28" r="0.75" fill="#2626e8" opacity=".85"/>
<circle cx="364.86" cy="576.42" r="0.75" fill="#2626e8" opacity=".85"/>
<circle cx="378.33" cy="579.05" r="0.75" fill="#2626e8" opacity=".85"/>
<circle cx="367.45" cy="594.65" r="0.75" fill="#2626e8" opacity=".85"/>
<circle cx="368.69" cy="600.07" r="0.75" fill="#2626e8" opacity=".85"/>
<circle cx="367.72" cy="587.89" r="0.75" fill="#2626e8" opacity=".85"/>
<circle cx="362.64" cy="570.11" r="0.75" fill="#2626e8" opacity=".85"/>
<circle cx="350.93" cy="593.02" r="0.75" fill="#2626e8" opacity=".85"/>
<circle cx="349" cy="588.05" r="0.75" fill="#2626e8" opacity=".85"/>
<circle cx="374.63" cy="579.06" r="0.75" fill="#2626e8" opacity=".85"/>
<circle cx="349.84" cy="596.21" r="0.75" fill="#2626e8" opacity=".85"/>
<circle cx="375.26" cy="594.59" r="0.75" fill="#2626e8" opacity=".85"/>
<circle cx="361.34" cy="582.37" r="0.75" fill="#2626e8" opacity=".85"/>
<circle cx="354.72" cy="591.95" r="0.75" fill="#2626e8" opacity=".85"/>
<circle cx="372.63" cy="582.44" r="0.75" fill="#2626e8" opacity=".85"/>
<circle cx="371" cy="572.37" r="0.75" fill="#2626e8" opacity=".85"/>
<circle cx="358.17" cy="585.91" r="0.75" fill="#2626e8" opacity=".85"/>
<circle cx="371.04" cy="596.17" r="0.75" fill="#2626e8" opacity=".85"/>
<circle cx="364.16" cy="595.11" r="0.75" fill="#2626e8" opacity=".85"/>
<circle cx="346.19" cy="596.5" r="0.75" fill="#2626e8" opacity=".85"/>
<circle cx="357.86" cy="578.61" r="0.75" fill="#2626e8" opacity=".85"/>
<circle cx="375.62" cy="591.62" r="0.75" fill="#2626e8" opacity=".85"/>
<circle cx="379.73" cy="598.18" r="0.75" fill="#2626e8" opacity=".85"/>
<circle cx="372.07" cy="577.73" r="0.75" fill="#2626e8" opacity=".85"/>
<circle cx="363.89" cy="581.95" r="0.75" fill="#2626e8" opacity=".85"/>
<circle cx="371.15" cy="585.33" r="0.75" fill="#2626e8" opacity=".85"/>
<circle cx="378.93" cy="580.63" r="0.75" fill="#2626e8" opacity=".85"/>
<circle cx="373.71" cy="575.33" r="0.75" fill="#2626e8" opacity=".85"/>
<circle cx="375.26" cy="585.13" r="0.75" fill="#2626e8" opacity=".85"/>
<circle cx="346.07" cy="594.3" r="0.75" fill="#2626e8" opacity=".85"/>
<circle cx="358.41" cy="597.54" r="0.75" fill="#2626e8" opacity=".85"/>
<circle cx="385.8" cy="589.78" r="0.75" fill="#2626e8" opacity=".85"/>
<circle cx="354.88" cy="578.74" r="0.75" fill="#2626e8" opacity=".85"/>
<circle cx="373.46" cy="598.43" r="0.75" fill="#2626e8" opacity=".85"/>
<circle cx="361.13" cy="571.05" r="0.75" fill="#2626e8" opacity=".85"/>
<circle cx="364.01" cy="598.72" r="0.75" fill="#2626e8" opacity=".85"/>
<circle cx="381.28" cy="586.39" r="0.75" fill="#2626e8" opacity=".85"/>
<circle cx="390.27" cy="594.86" r="0.75" fill="#2626e8" opacity=".85"/>
<circle cx="348.41" cy="584.32" r="0.75" fill="#2626e8" opacity=".85"/>
<circle cx="346.37" cy="599.64" r="0.75" fill="#2626e8" opacity=".85"/>
<circle cx="385.02" cy="581.75" r="0.75" fill="#2626e8" opacity=".85"/>
<circle cx="366.73" cy="573.75" r="0.75" fill="#2626e8" opacity=".85"/>
<circle cx="370.62" cy="599.04" r="0.75" fill="#2626e8" opacity=".85"/>
<circle cx="347.18" cy="592.12" r="0.75" fill="#2626e8" opacity=".85"/>
<circle cx="365.98" cy="571.89" r="0.75" fill="#2626e8" opacity=".85"/>
<circle cx="367.3" cy="600.56" r="0.75" fill="#2626e8" opacity=".85"/>
<circle cx="374.31" cy="581.62" r="0.75" fill="#2626e8" opacity=".85"/>
<circle cx="377.03" cy="588.65" r="0.75" fill="#2626e8" opacity=".85"/>
<circle cx="384.32" cy="585.43" r="0.75" fill="#2626e8" opacity=".85"/>
<circle cx="366.4" cy="595.93" r="0.75" fill="#2626e8" opacity=".85"/>
<circle cx="384.41" cy="586.75" r="0.75" fill="#2626e8" opacity=".85"/>
<circle cx="369" cy="572.95" r="0.75" fill="#2626e8" opacity=".85"/>
<circle cx="382.67" cy="582.42" r="0.75" fill="#2626e8" opacity=".85"/>
<circle cx="358.59" cy="574.87" r="0.75" fill="#2626e8" opacity=".85"/>
<circle cx="378" cy="582.28" r="0.75" fill="#2626e8" opacity=".85"/>
<circle cx="360.17" cy="569.59" r="0.75" fill="#2626e8" opacity=".85"/>
<circle cx="347.77" cy="597.3" r="0.75" fill="#2626e8" opacity=".85"/>
<circle cx="358.05" cy="569.94" r="0.75" fill="#2626e8" opacity=".85"/>
<circle cx="356.6" cy="580.61" r="0.75" fill="#2626e8" opacity=".85"/>
<circle cx="385.33" cy="600.78" r="0.75" fill="#2626e8" opacity=".85"/>
<circle cx="387.38" cy="592.33" r="0.75" fill="#2626e8" opacity=".85"/>
<circle cx="387.04" cy="600.68" r="0.75" fill="#2626e8" opacity=".85"/>
<circle cx="380.63" cy="587.56" r="0.75" fill="#2626e8" opacity=".85"/>
<circle cx="380.61" cy="590.66" r="0.75" fill="#2626e8" opacity=".85"/>
<circle cx="362.37" cy="589.61" r="0.75" fill="#2626e8" opacity=".85"/>
<circle cx="373.81" cy="587.04" r="0.75" fill="#2626e8" opacity=".85"/>
<circle cx="375.33" cy="580.51" r="0.75" fill="#2626e8" opacity=".85"/>
<circle cx="364.38" cy="596.64" r="0.75" fill="#2626e8" opacity=".85"/>
<circle cx="351.89" cy="587.73" r="0.75" fill="#2626e8" opacity=".85"/>
<circle cx="369.3" cy="587.61" r="0.75" fill="#2626e8" opacity=".85"/>
<circle cx="390.39" cy="598.97" r="0.75" fill="#2626e8" opacity=".85"/>
<circle cx="366.94" cy="582.87" r="0.75" fill="#2626e8" opacity=".85"/>
<circle cx="360.19" cy="596" r="0.75" fill="#2626e8" opacity=".85"/>
<circle cx="368.55" cy="579.19" r="0.75" fill="#2626e8" opacity=".85"/>
<circle cx="360.92" cy="572.47" r="0.75" fill="#2626e8" opacity=".85"/>
<circle cx="351.33" cy="591.44" r="0.75" fill="#2626e8" opacity=".85"/>
<circle cx="352.93" cy="582.52" r="0.75" fill="#2626e8" opacity=".85"/>
<circle cx="374.69" cy="590.1" r="0.75" fill="#2626e8" opacity=".85"/>
<circle cx="360.89" cy="592.1" r="0.75" fill="#2626e8" opacity=".85"/>
<circle cx="362.32" cy="599.91" r="0.75" fill="#2626e8" opacity=".85"/>
<circle cx="351.71" cy="581.5" r="0.75" fill="#2626e8" opacity=".85"/>
<circle cx="383.95" cy="590.95" r="0.75" fill="#2626e8" opacity=".85"/>
<circle cx="368.87" cy="592.57" r="0.75" fill="#2626e8" opacity=".85"/>
<circle cx="355.93" cy="586.25" r="0.75" fill="#2626e8" opacity=".85"/>
<circle cx="378" cy="593.42" r="0.75" fill="#2626e8" opacity=".85"/>
<circle cx="385.86" cy="591.92" r="0.75" fill="#2626e8" opacity=".85"/>
<circle cx="351.34" cy="577.04" r="0.75" fill="#2626e8" opacity=".85"/>
<circle cx="348.26" cy="600.53" r="0.75" fill="#2626e8" opacity=".85"/>
<circle cx="348.61" cy="590.22" r="0.75" fill="#2626e8" opacity=".85"/>
<circle cx="346.02" cy="597.83" r="0.75" fill="#2626e8" opacity=".85"/>
<circle cx="377.57" cy="591.67" r="0.75" fill="#2626e8" opacity=".85"/>
<circle cx="386.66" cy="587.44" r="0.75" fill="#2626e8" opacity=".85"/>
<circle cx="357.98" cy="571.93" r="0.75" fill="#2626e8" opacity=".85"/>
<circle cx="353.47" cy="576.19" r="0.75" fill="#2626e8" opacity=".85"/>
<circle cx="371.54" cy="581.46" r="0.75" fill="#2626e8" opacity=".85"/>
<circle cx="379.93" cy="585.72" r="0.75" fill="#2626e8" opacity=".85"/>
<circle cx="365.86" cy="577.78" r="0.75" fill="#2626e8" opacity=".85"/>
<circle cx="372.37" cy="588.63" r="0.75" fill="#2626e8" opacity=".85"/>
<circle cx="389.76" cy="590.61" r="0.75" fill="#2626e8" opacity=".85"/>
<circle cx="358.32" cy="589.71" r="0.75" fill="#2626e8" opacity=".85"/>
<circle cx="357.01" cy="588.97" r="0.75" fill="#2626e8" opacity=".85"/>
<circle cx="388.94" cy="591.75" r="0.75" fill="#2626e8" opacity=".85"/>
<circle cx="364.27" cy="571.25" r="0.75" fill="#2626e8" opacity=".85"/>
<circle cx="352.37" cy="589.16" r="0.75" fill="#2626e8" opacity=".85"/>
<circle cx="372.78" cy="596.04" r="0.75" fill="#2626e8" opacity=".85"/>
<circle cx="385.69" cy="596.34" r="0.75" fill="#2626e8" opacity=".85"/>
<circle cx="378.26" cy="598.71" r="0.75" fill="#2626e8" opacity=".85"/>
<circle cx="359.14" cy="587.03" r="0.75" fill="#2626e8" opacity=".85"/>
<circle cx="350.38" cy="600.71" r="0.75" fill="#2626e8" opacity=".85"/>
<circle cx="369.96" cy="581.55" r="0.75" fill="#2626e8" opacity=".85"/>
<circle cx="352.37" cy="574.18" r="0.75" fill="#2626e8" opacity=".85"/>
<circle cx="364.71" cy="585.39" r="0.75" fill="#2626e8" opacity=".85"/>
<circle cx="352.27" cy="586.13" r="0.75" fill="#2626e8" opacity=".85"/>
<circle cx="359.35" cy="593.77" r="0.75" fill="#2626e8" opacity=".85"/>
<circle cx="358.45" cy="592.26" r="0.75" fill="#2626e8" opacity=".85"/>
<circle cx="373.21" cy="600.88" r="0.75" fill="#2626e8" opacity=".85"/>
<circle cx="357.62" cy="587.56" r="0.75" fill="#2626e8" opacity=".85"/>
<circle cx="360.13" cy="573.61" r="0.75" fill="#2626e8" opacity=".85"/>
<circle cx="362.92" cy="568.77" r="0.75" fill="#2626e8" opacity=".85"/>
<circle cx="371.31" cy="589.89" r="0.75" fill="#2626e8" opacity=".85"/>
<circle cx="387.39" cy="593.9" r="0.75" fill="#2626e8" opacity=".85"/>
<circle cx="345.81" cy="590.79" r="0.75" fill="#2626e8" opacity=".85"/>
<circle cx="384.27" cy="599.86" r="0.75" fill="#2626e8" opacity=".85"/>
<circle cx="352.36" cy="592.42" r="0.75" fill="#2626e8" opacity=".85"/>
<circle cx="360.21" cy="579.47" r="0.75" fill="#2626e8" opacity=".85"/>
<circle cx="347.75" cy="595.75" r="0.75" fill="#2626e8" opacity=".85"/>
<circle cx="390.17" cy="600.7" r="0.75" fill="#2626e8" opacity=".85"/>
<circle cx="358.6" cy="600.18" r="0.75" fill="#2626e8" opacity=".85"/>
<circle cx="352.29" cy="580.12" r="0.75" fill="#2626e8" opacity=".85"/>
<circle cx="349.89" cy="576.45" r="0.75" fill="#2626e8" opacity=".85"/>
<circle cx="355.59" cy="576.82" r="0.75" fill="#2626e8" opacity=".85"/>
<circle cx="364.41" cy="583.28" r="0.75" fill="#2626e8" opacity=".85"/>
<circle cx="379.89" cy="578.34" r="0.75" fill="#2626e8" opacity=".85"/>
<circle cx="352.58" cy="584.37" r="0.75" fill="#2626e8" opacity=".85"/>
<circle cx="347.9" cy="585.96" r="0.75" fill="#2626e8" opacity=".85"/>
<circle cx="354.93" cy="582.3" r="0.75" fill="#2626e8" opacity=".85"/>
<circle cx="352.52" cy="600.88" r="0.75" fill="#2626e8" opacity=".85"/>
<circle cx="379.2" cy="596.61" r="0.75" fill="#2626e8" opacity=".85"/>
<circle cx="355.12" cy="600.69" r="0.75" fill="#2626e8" opacity=".85"/>
<circle cx="361.02" cy="590.25" r="0.75" fill="#2626e8" opacity=".85"/>
<circle cx="377.13" cy="586.26" r="0.75" fill="#2626e8" opacity=".85"/>
<circle cx="365.47" cy="568.03" r="0.75" fill="#2626e8" opacity=".85"/>
<circle cx="353.54" cy="593.33" r="0.75" fill="#2626e8" opacity=".85"/>
<circle cx="390.37" cy="596.54" r="0.75" fill="#2626e8" opacity=".85"/>
<circle cx="356.37" cy="579.33" r="0.75" fill="#2626e8" opacity=".85"/>
<circle cx="370" cy="600.71" r="0.75" fill="#2626e8" opacity=".85"/>
<circle cx="386.83" cy="583.52" r="0.75" fill="#2626e8" opacity=".85"/>
<circle cx="373.77" cy="594.84" r="0.75" fill="#2626e8" opacity=".85"/>
<circle cx="364.96" cy="591.8" r="0.75" fill="#2626e8" opacity=".85"/>
<circle cx="366.61" cy="570.57" r="0.75" fill="#2626e8" opacity=".85"/>
<circle cx="358.14" cy="576.14" r="0.75" fill="#2626e8" opacity=".85"/>
<circle cx="364.76" cy="574.55" r="0.75" fill="#2626e8" opacity=".85"/>
<circle cx="348.52" cy="580.11" r="0.75" fill="#2626e8" opacity=".85"/>
<circle cx="350.51" cy="582.34" r="0.75" fill="#2626e8" opacity=".85"/>
<circle cx="367.25" cy="599.25" r="0.75" fill="#2626e8" opacity=".85"/>
<circle cx="382.03" cy="580.12" r="0.75" fill="#2626e8" opacity=".85"/>
<circle cx="379.31" cy="591.55" r="0.75" fill="#2626e8" opacity=".85"/>
<circle cx="381.5" cy="589.45" r="0.75" fill="#2626e8" opacity=".85"/>
<circle cx="383.5" cy="598.61" r="0.75" fill="#2626e8" opacity=".85"/>
<circle cx="375.48" cy="582.62" r="0.75" fill="#2626e8" opacity=".85"/>
<circle cx="388.52" cy="594.78" r="0.75" fill="#2626e8" opacity=".85"/>
<circle cx="382.84" cy="585.87" r="0.75" fill="#2626e8" opacity=".85"/>
<circle cx="345.99" cy="588.62" r="0.75" fill="#2626e8" opacity=".85"/>
<circle cx="358.62" cy="596.25" r="0.75" fill="#2626e8" opacity=".85"/>
<circle cx="372.3" cy="579.31" r="0.75" fill="#2626e8" opacity=".85"/>
<circle cx="369.79" cy="586.29" r="0.75" fill="#2626e8" opacity=".85"/>
<circle cx="385.94" cy="585.71" r="0.75" fill="#2626e8" opacity=".85"/>
<circle cx="356.37" cy="592.12" r="0.75" fill="#2626e8" opacity=".85"/>
<circle cx="378.43" cy="583.75" r="0.75" fill="#2626e8" opacity=".85"/>
<circle cx="372.14" cy="599.27" r="0.75" fill="#2626e8" opacity=".85"/>
</g>
<circle cx="422.29" cy="575.69" r="0.75" fill="#40e828"/>
<circle cx="419.38" cy="577.65" r="0.75" fill="#40e828"/>
<circle cx="415.49" cy="579.61" r="0.75" fill="#40e828"/>
<circle cx="414.2" cy="581.29" r="0.75" fill="#40e828"/>
<circle cx="414.84" cy="577.65" r="0.75" fill="#40e828"/>
<circle cx="433.31" cy="574.01" r="0.75" fill="#40e828"/>
<circle cx="435.77" cy="576.42" r="0.75" fill="#40e828"/>
<circle cx="423.59" cy="571.49" r="0.75" fill="#40e828"/>
<circle cx="445.61" cy="585.21" r="0.75" fill="#40e828"/>
<circle cx="445.94" cy="587.62" r="0.75" fill="#40e828"/>
<circle cx="441.4" cy="593.79" r="0.75" fill="#40e828"/>
<circle cx="405.77" cy="597.54" r="0.75" fill="#40e828"/>
<circle cx="447.23" cy="592.78" r="0.75" fill="#40e828"/>
<circle cx="439.78" cy="587.18" r="0.75" fill="#40e828"/>
<circle cx="430.71" cy="595.41" r="0.75" fill="#40e828"/>
<circle cx="421" cy="574.29" r="0.75" fill="#40e828"/>
<circle cx="426.18" cy="573.17" r="0.75" fill="#40e828"/>
<circle cx="429.42" cy="574.29" r="0.75" fill="#40e828"/>
<circle cx="441.08" cy="583.25" r="0.75" fill="#40e828"/>
<circle cx="443.67" cy="589.98" r="0.75" fill="#40e828"/>
<circle cx="424.24" cy="575.41" r="0.75" fill="#40e828"/>
<circle cx="417.76" cy="579.33" r="0.75" fill="#40e828"/>
<circle cx="437.19" cy="577.65" r="0.75" fill="#40e828"/>
<circle cx="444.32" cy="586.05" r="0.75" fill="#40e828"/>
<circle cx="412.58" cy="583.25" r="0.75" fill="#40e828"/>
<circle cx="443.02" cy="592.78" r="0.75" fill="#40e828"/>
<g clip-path="url(#cdt3)">
<polygon points="462.85,589.98 463.83,585.21 465.25,580.73 467.26,576.81 470.43,573.17 473.54,570.71 476,569.47 478.4,568.69 480.47,568.3 482.94,567.96 485.07,568.35 486.05,570.48 489.29,571.99 491.75,573.45 495.37,575.24 498.16,577.2 500.95,579.33 503.15,581.69 505.09,584.15 506.78,586.17 508.33,589.98 508.85,602.3 462.85,602.3" fill="#a81c14"/>
<polygon points="462.85,602.3 465.45,592.78 467.39,588.86 469.66,585.21 473.87,582.25 478.4,579.78 482.29,577.76 485.85,576.87 490.71,577.2 493.95,578.66 497.19,581.69 500.75,585.05 503.02,588.86 504.96,592.78 505.93,597.82 506.26,602.3" fill="#6a100a"/>
<circle cx="470.88" cy="590.56" r="0.7" fill="#300604" opacity=".8"/>
<circle cx="473.16" cy="593.99" r="0.7" fill="#300604" opacity=".8"/>
<circle cx="486.08" cy="575.44" r="0.7" fill="#300604" opacity=".8"/>
<circle cx="502.62" cy="588.1" r="0.7" fill="#300604" opacity=".8"/>
<circle cx="470.42" cy="594.82" r="0.7" fill="#300604" opacity=".8"/>
<circle cx="483.76" cy="585.97" r="0.7" fill="#300604" opacity=".8"/>
<circle cx="506.8" cy="597.37" r="0.7" fill="#300604" opacity=".8"/>
<circle cx="489.46" cy="591.89" r="0.7" fill="#300604" opacity=".8"/>
<circle cx="504.77" cy="597.15" r="0.7" fill="#300604" opacity=".8"/>
<circle cx="483.68" cy="580.43" r="0.7" fill="#300604" opacity=".8"/>
<circle cx="485.67" cy="583.95" r="0.7" fill="#300604" opacity=".8"/>
<circle cx="473.43" cy="587.86" r="0.7" fill="#300604" opacity=".8"/>
<circle cx="471.58" cy="573.24" r="0.7" fill="#300604" opacity=".8"/>
<circle cx="479" cy="587.48" r="0.7" fill="#300604" opacity=".8"/>
<circle cx="466.44" cy="594.69" r="0.7" fill="#300604" opacity=".8"/>
<circle cx="494.05" cy="590.1" r="0.7" fill="#300604" opacity=".8"/>
<circle cx="481.7" cy="600.54" r="0.7" fill="#300604" opacity=".8"/>
<circle cx="502.98" cy="583.93" r="0.7" fill="#300604" opacity=".8"/>
<circle cx="498.1" cy="583.67" r="0.7" fill="#300604" opacity=".8"/>
<circle cx="482.26" cy="573.26" r="0.7" fill="#300604" opacity=".8"/>
<circle cx="474.78" cy="599.53" r="0.7" fill="#300604" opacity=".8"/>
<circle cx="482.55" cy="586.94" r="0.7" fill="#300604" opacity=".8"/>
<circle cx="494.13" cy="599.37" r="0.7" fill="#300604" opacity=".8"/>
<circle cx="492.28" cy="595.96" r="0.7" fill="#300604" opacity=".8"/>
<circle cx="469.8" cy="596.48" r="0.7" fill="#300604" opacity=".8"/>
<circle cx="480.39" cy="591.23" r="0.7" fill="#300604" opacity=".8"/>
<circle cx="466.34" cy="593.03" r="0.7" fill="#300604" opacity=".8"/>
<circle cx="480.88" cy="577.88" r="0.7" fill="#300604" opacity=".8"/>
<circle cx="490.37" cy="584.51" r="0.7" fill="#300604" opacity=".8"/>
<circle cx="477.72" cy="600.67" r="0.7" fill="#300604" opacity=".8"/>
<circle cx="486.63" cy="580.55" r="0.7" fill="#300604" opacity=".8"/>
<circle cx="500.03" cy="591.69" r="0.7" fill="#300604" opacity=".8"/>
<circle cx="480.73" cy="583.79" r="0.7" fill="#300604" opacity=".8"/>
<circle cx="467.32" cy="583.56" r="0.7" fill="#300604" opacity=".8"/>
<circle cx="503.31" cy="593.55" r="0.7" fill="#300604" opacity=".8"/>
<circle cx="474.47" cy="598.12" r="0.7" fill="#300604" opacity=".8"/>
<circle cx="500.37" cy="599.69" r="0.7" fill="#300604" opacity=".8"/>
<circle cx="480.99" cy="572.42" r="0.7" fill="#300604" opacity=".8"/>
<circle cx="478.49" cy="588.95" r="0.7" fill="#300604" opacity=".8"/>
<circle cx="474.87" cy="595.75" r="0.7" fill="#300604" opacity=".8"/>
<circle cx="476.05" cy="573.38" r="0.7" fill="#300604" opacity=".8"/>
<circle cx="505.28" cy="591.05" r="0.7" fill="#300604" opacity=".8"/>
<circle cx="463.84" cy="585.71" r="0.7" fill="#300604" opacity=".8"/>
<circle cx="483.8" cy="597.38" r="0.7" fill="#300604" opacity=".8"/>
<circle cx="471.89" cy="581" r="0.7" fill="#300604" opacity=".8"/>
<circle cx="467.1" cy="597.56" r="0.7" fill="#300604" opacity=".8"/>
<circle cx="499.27" cy="578.83" r="0.7" fill="#300604" opacity=".8"/>
<circle cx="505.11" cy="585.52" r="0.7" fill="#300604" opacity=".8"/>
<circle cx="496.03" cy="585.05" r="0.7" fill="#300604" opacity=".8"/>
<circle cx="491.58" cy="573.37" r="0.7" fill="#300604" opacity=".8"/>
<circle cx="493.87" cy="574.81" r="0.7" fill="#300604" opacity=".8"/>
<circle cx="505.6" cy="598.79" r="0.7" fill="#300604" opacity=".8"/>
<circle cx="471.47" cy="585.56" r="0.7" fill="#300604" opacity=".8"/>
<circle cx="468.99" cy="575.57" r="0.7" fill="#300604" opacity=".8"/>
<circle cx="487.54" cy="582.86" r="0.7" fill="#300604" opacity=".8"/>
<circle cx="493.2" cy="586.95" r="0.7" fill="#300604" opacity=".8"/>
<circle cx="472.3" cy="575.14" r="0.7" fill="#300604" opacity=".8"/>
<circle cx="485.08" cy="569.4" r="0.7" fill="#300604" opacity=".8"/>
<circle cx="490.25" cy="590.67" r="0.7" fill="#300604" opacity=".8"/>
<circle cx="501.39" cy="597.25" r="0.7" fill="#300604" opacity=".8"/>
<circle cx="479.96" cy="574.01" r="0.7" fill="#300604" opacity=".8"/>
<circle cx="495.9" cy="587.39" r="0.7" fill="#300604" opacity=".8"/>
<circle cx="491.94" cy="588.76" r="0.7" fill="#300604" opacity=".8"/>
<circle cx="497.25" cy="588.76" r="0.7" fill="#300604" opacity=".8"/>
<circle cx="473.38" cy="571.29" r="0.7" fill="#300604" opacity=".8"/>
<circle cx="481.62" cy="592.93" r="0.7" fill="#300604" opacity=".8"/>
<circle cx="479.48" cy="593.73" r="0.7" fill="#300604" opacity=".8"/>
<circle cx="506.62" cy="593.44" r="0.7" fill="#300604" opacity=".8"/>
<circle cx="498.95" cy="592.68" r="0.7" fill="#300604" opacity=".8"/>
<circle cx="480.23" cy="596.41" r="0.7" fill="#300604" opacity=".8"/>
<circle cx="472.37" cy="584.05" r="0.7" fill="#300604" opacity=".8"/>
<circle cx="494.42" cy="583.57" r="0.7" fill="#300604" opacity=".8"/>
<circle cx="493.86" cy="593.3" r="0.7" fill="#300604" opacity=".8"/>
<circle cx="475.44" cy="594.04" r="0.7" fill="#300604" opacity=".8"/>
<circle cx="503.44" cy="595.01" r="0.7" fill="#300604" opacity=".8"/>
<circle cx="483.81" cy="593.01" r="0.7" fill="#300604" opacity=".8"/>
<circle cx="468.68" cy="579.2" r="0.7" fill="#300604" opacity=".8"/>
<circle cx="491.45" cy="577.99" r="0.7" fill="#300604" opacity=".8"/>
<circle cx="474.8" cy="574.79" r="0.7" fill="#300604" opacity=".8"/>
<circle cx="502.85" cy="597.95" r="0.7" fill="#300604" opacity=".8"/>
<circle cx="485.25" cy="597.87" r="0.7" fill="#300604" opacity=".8"/>
<circle cx="466.3" cy="599.26" r="0.7" fill="#300604" opacity=".8"/>
<circle cx="471.84" cy="577.51" r="0.7" fill="#300604" opacity=".8"/>
<circle cx="468.69" cy="585.34" r="0.7" fill="#300604" opacity=".8"/>
<circle cx="500.91" cy="589.5" r="0.7" fill="#300604" opacity=".8"/>
<circle cx="495.84" cy="576.41" r="0.7" fill="#300604" opacity=".8"/>
<circle cx="474.1" cy="581.91" r="0.7" fill="#300604" opacity=".8"/>
<circle cx="505.14" cy="588.55" r="0.7" fill="#300604" opacity=".8"/>
<circle cx="482.63" cy="569.47" r="0.7" fill="#300604" opacity=".8"/>
<circle cx="495.74" cy="590.03" r="0.7" fill="#300604" opacity=".8"/>
<circle cx="488.05" cy="594.09" r="0.7" fill="#300604" opacity=".8"/>
<circle cx="484.61" cy="576.63" r="0.7" fill="#300604" opacity=".8"/>
<circle cx="497.31" cy="577.01" r="0.7" fill="#300604" opacity=".8"/>
<circle cx="493.19" cy="597.82" r="0.7" fill="#300604" opacity=".8"/>
<circle cx="478.23" cy="575.15" r="0.7" fill="#300604" opacity=".8"/>
<circle cx="485.55" cy="581.44" r="0.7" fill="#300604" opacity=".8"/>
<circle cx="484.86" cy="589.37" r="0.7" fill="#300604" opacity=".8"/>
<circle cx="501.43" cy="580.52" r="0.7" fill="#300604" opacity=".8"/>
<circle cx="473.21" cy="572.8" r="0.7" fill="#300604" opacity=".8"/>
<circle cx="471.71" cy="595.82" r="0.7" fill="#300604" opacity=".8"/>
<circle cx="482.56" cy="576.42" r="0.7" fill="#300604" opacity=".8"/>
<circle cx="485.15" cy="594.65" r="0.7" fill="#300604" opacity=".8"/>
<circle cx="485.42" cy="587.89" r="0.7" fill="#300604" opacity=".8"/>
<circle cx="468.63" cy="593.02" r="0.7" fill="#300604" opacity=".8"/>
<circle cx="492.33" cy="579.06" r="0.7" fill="#300604" opacity=".8"/>
<circle cx="467.54" cy="596.21" r="0.7" fill="#300604" opacity=".8"/>
<circle cx="479.04" cy="582.37" r="0.7" fill="#300604" opacity=".8"/>
<circle cx="490.33" cy="582.44" r="0.7" fill="#300604" opacity=".8"/>
<circle cx="484.94" cy="578.38" r="0.7" fill="#300604" opacity=".8"/>
<circle cx="488.74" cy="596.17" r="0.7" fill="#300604" opacity=".8"/>
<circle cx="463.89" cy="596.5" r="0.7" fill="#300604" opacity=".8"/>
<circle cx="493.32" cy="591.62" r="0.7" fill="#300604" opacity=".8"/>
<circle cx="489.77" cy="577.73" r="0.7" fill="#300604" opacity=".8"/>
<circle cx="488.85" cy="585.33" r="0.7" fill="#300604" opacity=".8"/>
<circle cx="491.41" cy="575.33" r="0.7" fill="#300604" opacity=".8"/>
<circle cx="463.77" cy="594.3" r="0.7" fill="#300604" opacity=".8"/>
<circle cx="473.16" cy="596.12" r="0.7" fill="#300604" opacity=".8"/>
<circle cx="472.58" cy="578.74" r="0.7" fill="#300604" opacity=".8"/>
<circle cx="478.83" cy="571.05" r="0.7" fill="#300604" opacity=".8"/>
<circle cx="498.98" cy="586.39" r="0.7" fill="#300604" opacity=".8"/>
<circle cx="466.11" cy="584.32" r="0.7" fill="#300604" opacity=".8"/>
<circle cx="502.72" cy="581.75" r="0.7" fill="#300604" opacity=".8"/>
<circle cx="488.32" cy="599.04" r="0.7" fill="#300604" opacity=".8"/>
<circle cx="483.68" cy="571.89" r="0.7" fill="#300604" opacity=".8"/>
<circle cx="492.01" cy="581.62" r="0.7" fill="#300604" opacity=".8"/>
<circle cx="502.02" cy="585.43" r="0.7" fill="#300604" opacity=".8"/>
<circle cx="502.11" cy="586.75" r="0.7" fill="#300604" opacity=".8"/>
<circle cx="500.37" cy="582.42" r="0.7" fill="#300604" opacity=".8"/>
<circle cx="495.7" cy="582.28" r="0.7" fill="#300604" opacity=".8"/>
<circle cx="465.47" cy="597.3" r="0.7" fill="#300604" opacity=".8"/>
<circle cx="474.3" cy="580.61" r="0.7" fill="#300604" opacity=".8"/>
<circle cx="503.03" cy="600.78" r="0.7" fill="#300604" opacity=".8"/>
<circle cx="504.74" cy="600.68" r="0.7" fill="#300604" opacity=".8"/>
<circle cx="498.31" cy="590.66" r="0.7" fill="#300604" opacity=".8"/>
<circle cx="491.51" cy="587.04" r="0.7" fill="#300604" opacity=".8"/>
<circle cx="482.08" cy="596.64" r="0.7" fill="#300604" opacity=".8"/>
<circle cx="487" cy="587.61" r="0.7" fill="#300604" opacity=".8"/>
<circle cx="484.64" cy="582.87" r="0.7" fill="#300604" opacity=".8"/>
<circle cx="477.89" cy="596" r="0.7" fill="#300604" opacity=".8"/>
<circle cx="478.62" cy="572.47" r="0.7" fill="#300604" opacity=".8"/>
<circle cx="469.03" cy="591.44" r="0.7" fill="#300604" opacity=".8"/>
<circle cx="492.39" cy="590.1" r="0.7" fill="#300604" opacity=".8"/>
<circle cx="480.02" cy="599.91" r="0.7" fill="#300604" opacity=".8"/>
<circle cx="501.65" cy="590.95" r="0.7" fill="#300604" opacity=".8"/>
<circle cx="477.65" cy="585.59" r="0.7" fill="#300604" opacity=".8"/>
<circle cx="495.7" cy="593.42" r="0.7" fill="#300604" opacity=".8"/>
<circle cx="477.47" cy="581.09" r="0.7" fill="#300604" opacity=".8"/>
<circle cx="465.96" cy="600.53" r="0.7" fill="#300604" opacity=".8"/>
<circle cx="463.72" cy="597.83" r="0.7" fill="#300604" opacity=".8"/>
<circle cx="504.36" cy="587.44" r="0.7" fill="#300604" opacity=".8"/>
<circle cx="471.17" cy="576.19" r="0.7" fill="#300604" opacity=".8"/>
<circle cx="497.63" cy="585.72" r="0.7" fill="#300604" opacity=".8"/>
<circle cx="490.07" cy="588.63" r="0.7" fill="#300604" opacity=".8"/>
<circle cx="476.02" cy="589.71" r="0.7" fill="#300604" opacity=".8"/>
<circle cx="472.15" cy="589.42" r="0.7" fill="#300604" opacity=".8"/>
<circle cx="481.97" cy="571.25" r="0.7" fill="#300604" opacity=".8"/>
<circle cx="490.48" cy="596.04" r="0.7" fill="#300604" opacity=".8"/>
<circle cx="495.96" cy="598.71" r="0.7" fill="#300604" opacity=".8"/>
<circle cx="468.08" cy="600.71" r="0.7" fill="#300604" opacity=".8"/>
<circle cx="470.07" cy="574.18" r="0.7" fill="#300604" opacity=".8"/>
<circle cx="494.51" cy="579.74" r="0.7" fill="#300604" opacity=".8"/>
<circle cx="477.05" cy="593.77" r="0.7" fill="#300604" opacity=".8"/>
<circle cx="490.91" cy="600.88" r="0.7" fill="#300604" opacity=".8"/>
<circle cx="477.83" cy="573.61" r="0.7" fill="#300604" opacity=".8"/>
<circle cx="489.01" cy="589.89" r="0.7" fill="#300604" opacity=".8"/>
<circle cx="463.51" cy="590.79" r="0.7" fill="#300604" opacity=".8"/>
<circle cx="470.06" cy="592.42" r="0.7" fill="#300604" opacity=".8"/>
<circle cx="465.45" cy="595.75" r="0.7" fill="#300604" opacity=".8"/>
<circle cx="476.3" cy="600.18" r="0.7" fill="#300604" opacity=".8"/>
<circle cx="467.59" cy="576.45" r="0.7" fill="#300604" opacity=".8"/>
<circle cx="482.11" cy="583.28" r="0.7" fill="#300604" opacity=".8"/>
<circle cx="470.28" cy="584.37" r="0.7" fill="#300604" opacity=".8"/>
<circle cx="472.63" cy="582.3" r="0.7" fill="#300604" opacity=".8"/>
<circle cx="496.9" cy="596.61" r="0.7" fill="#300604" opacity=".8"/>
<circle cx="483.72" cy="588.08" r="0.7" fill="#300604" opacity=".8"/>
<circle cx="476.81" cy="584.02" r="0.7" fill="#300604" opacity=".8"/>
<circle cx="483.17" cy="568.03" r="0.7" fill="#300604" opacity=".8"/>
<circle cx="508.07" cy="596.54" r="0.7" fill="#300604" opacity=".8"/>
<circle cx="487.7" cy="600.71" r="0.7" fill="#300604" opacity=".8"/>
<circle cx="491.47" cy="594.84" r="0.7" fill="#300604" opacity=".8"/>
<circle cx="484.31" cy="570.57" r="0.7" fill="#300604" opacity=".8"/>
<circle cx="482.46" cy="574.55" r="0.7" fill="#300604" opacity=".8"/>
<circle cx="468.21" cy="582.34" r="0.7" fill="#300604" opacity=".8"/>
<circle cx="499.73" cy="580.12" r="0.7" fill="#300604" opacity=".8"/>
<circle cx="499.2" cy="589.45" r="0.7" fill="#300604" opacity=".8"/>
<circle cx="493.18" cy="582.62" r="0.7" fill="#300604" opacity=".8"/>
<circle cx="500.54" cy="585.87" r="0.7" fill="#300604" opacity=".8"/>
<circle cx="476.32" cy="596.25" r="0.7" fill="#300604" opacity=".8"/>
<circle cx="487.49" cy="586.29" r="0.7" fill="#300604" opacity=".8"/>
<circle cx="474.07" cy="592.12" r="0.7" fill="#300604" opacity=".8"/>
<circle cx="489.84" cy="599.27" r="0.7" fill="#300604" opacity=".8"/>
</g>
<text x="367.8" y="613.6" font-size="11.6" text-anchor="middle" fill="#2B2BF0">DAPI</text>
<text x="427" y="613.6" font-size="11.6" text-anchor="middle" fill="#4FE02F">Ki67</text>
<text x="486.2" y="613.6" font-size="11.6" text-anchor="middle" fill="#F03028">PPIA</text>
<text x="521" y="417.8" font-size="11.7" xml:space="preserve"><tspan fill="#231815">Normal</tspan></text>
<text x="681.5" y="417.8" font-size="11.2" text-anchor="end" xml:space="preserve"><tspan fill="#2222EE">DAPI</tspan><tspan fill="#231815">/</tspan><tspan fill="#EE2A2A">PPIA</tspan><tspan fill="#231815">/</tspan><tspan fill="#4FE02F">Ki67</tspan></text>
<defs><clipPath id="cdn"><rect x="520.8" y="421.5" width="162.2" height="143.6"/></clipPath></defs>
<g clip-path="url(#cdn)"><rect x="520.8" y="421.5" width="162.2" height="143.6" fill="#020203"/>
<g filter="url(#b1)">
<ellipse cx="530.12" cy="424.34" rx="2.89" ry="4.05" fill="#1c1cf2" transform="rotate(-20 530.12 424.34)"/>
<ellipse cx="566.24" cy="426.74" rx="4.05" ry="2.89" fill="#1c1cf2" transform="rotate(20 566.24 426.74)"/>
<ellipse cx="589.85" cy="426.02" rx="5.78" ry="2.31" fill="#1c1cf2"/>
<ellipse cx="606.71" cy="423.61" rx="4.62" ry="2.89" fill="#1c1cf2"/>
<ellipse cx="618.27" cy="431.56" rx="6.36" ry="2.31" fill="#1c1cf2" transform="rotate(-15 618.27 431.56)"/>
<ellipse cx="669.33" cy="436.38" rx="6.94" ry="2.31" fill="#1c1cf2" transform="rotate(-15 669.33 436.38)"/>
<ellipse cx="677.76" cy="450.11" rx="2.31" ry="2.31" fill="#1c1cf2"/>
<ellipse cx="583.82" cy="444.08" rx="4.62" ry="3.47" fill="#1c1cf2"/>
<ellipse cx="591.05" cy="444.08" rx="4.05" ry="4.05" fill="#1c1cf2"/>
<ellipse cx="597.07" cy="445.29" rx="2.89" ry="3.47" fill="#1c1cf2"/>
<ellipse cx="603.09" cy="449.38" rx="5.2" ry="4.05" fill="#1c1cf2"/>
<ellipse cx="594.66" cy="452.51" rx="4.05" ry="3.47" fill="#1c1cf2"/>
<ellipse cx="530.84" cy="456.13" rx="2.89" ry="5.2" fill="#1c1cf2"/>
<ellipse cx="555.65" cy="453.72" rx="2.31" ry="2.31" fill="#1c1cf2"/>
<ellipse cx="571.78" cy="458.54" rx="4.05" ry="5.2" fill="#1c1cf2" transform="rotate(20 571.78 458.54)"/>
<ellipse cx="565.76" cy="462.87" rx="2.89" ry="2.89" fill="#1c1cf2"/>
<ellipse cx="587.44" cy="462.15" rx="3.47" ry="2.31" fill="#1c1cf2" transform="rotate(30 587.44 462.15)"/>
<ellipse cx="600.68" cy="467.69" rx="4.05" ry="4.05" fill="#1c1cf2"/>
<ellipse cx="593.46" cy="470.58" rx="4.05" ry="2.89" fill="#1c1cf2" transform="rotate(40 593.46 470.58)"/>
<ellipse cx="633.2" cy="462.87" rx="5.78" ry="2.31" fill="#1c1cf2" transform="rotate(-40 633.2 462.87)"/>
<ellipse cx="639.22" cy="471.06" rx="4.05" ry="1.73" fill="#1c1cf2" transform="rotate(-20 639.22 471.06)"/>
<ellipse cx="652.47" cy="466.97" rx="2.89" ry="1.73" fill="#1c1cf2"/>
<ellipse cx="545.29" cy="473.47" rx="4.62" ry="3.47" fill="#1c1cf2" transform="rotate(20 545.29 473.47)"/>
<ellipse cx="571.06" cy="477.8" rx="6.36" ry="2.89" fill="#1c1cf2" transform="rotate(10 571.06 477.8)"/>
<ellipse cx="584.55" cy="480.21" rx="5.2" ry="3.47" fill="#1c1cf2" transform="rotate(30 584.55 480.21)"/>
<ellipse cx="589.85" cy="487.44" rx="3.47" ry="4.05" fill="#1c1cf2"/>
<ellipse cx="591.05" cy="495.14" rx="4.05" ry="4.62" fill="#1c1cf2"/>
<ellipse cx="585.03" cy="498.28" rx="3.47" ry="3.47" fill="#1c1cf2"/>
<ellipse cx="577.8" cy="498.28" rx="4.62" ry="4.05" fill="#1c1cf2"/>
<ellipse cx="571.78" cy="492.25" rx="4.05" ry="2.31" fill="#1c1cf2" transform="rotate(30 571.78 492.25)"/>
<ellipse cx="538.06" cy="479.01" rx="5.78" ry="2.31" fill="#1c1cf2" transform="rotate(10 538.06 479.01)"/>
<ellipse cx="640.42" cy="480.21" rx="5.2" ry="3.47" fill="#1c1cf2"/>
<ellipse cx="650.06" cy="480.21" rx="5.78" ry="3.47" fill="#1c1cf2" transform="rotate(-20 650.06 480.21)"/>
<ellipse cx="658.49" cy="477.8" rx="5.2" ry="3.47" fill="#1c1cf2" transform="rotate(-20 658.49 477.8)"/>
<ellipse cx="645.24" cy="486.23" rx="4.62" ry="3.47" fill="#1c1cf2"/>
<ellipse cx="654.87" cy="487.44" rx="4.05" ry="4.05" fill="#1c1cf2"/>
<ellipse cx="635.61" cy="489.85" rx="4.62" ry="3.47" fill="#1c1cf2"/>
<ellipse cx="633.2" cy="494.66" rx="2.89" ry="2.89" fill="#1c1cf2"/>
<ellipse cx="660.9" cy="492.25" rx="2.89" ry="2.89" fill="#1c1cf2"/>
<ellipse cx="660.17" cy="500.68" rx="4.05" ry="4.05" fill="#1c1cf2"/>
<ellipse cx="652.47" cy="504.3" rx="4.62" ry="3.47" fill="#1c1cf2"/>
<ellipse cx="645.24" cy="506.71" rx="4.62" ry="3.47" fill="#1c1cf2"/>
<ellipse cx="638.02" cy="504.3" rx="4.05" ry="3.47" fill="#1c1cf2"/>
<ellipse cx="631.99" cy="501.89" rx="3.47" ry="2.89" fill="#1c1cf2"/>
<ellipse cx="671.73" cy="506.71" rx="4.05" ry="2.89" fill="#1c1cf2" transform="rotate(-30 671.73 506.71)"/>
<ellipse cx="607.91" cy="501.89" rx="2.31" ry="5.78" fill="#1c1cf2"/>
<ellipse cx="558.54" cy="510.32" rx="2.89" ry="4.62" fill="#1c1cf2" transform="rotate(-30 558.54 510.32)"/>
<ellipse cx="564.56" cy="516.82" rx="4.05" ry="2.89" fill="#1c1cf2" transform="rotate(30 564.56 516.82)"/>
<ellipse cx="571.78" cy="521.16" rx="4.62" ry="2.89" fill="#1c1cf2" transform="rotate(30 571.78 521.16)"/>
<ellipse cx="606.71" cy="518.27" rx="4.62" ry="2.31" fill="#1c1cf2" transform="rotate(-40 606.71 518.27)"/>
<ellipse cx="621.16" cy="510.32" rx="3.47" ry="1.73" fill="#1c1cf2" transform="rotate(30 621.16 510.32)"/>
<ellipse cx="640.42" cy="515.13" rx="6.36" ry="2.31" fill="#1c1cf2" transform="rotate(20 640.42 515.13)"/>
<ellipse cx="628.38" cy="524.05" rx="5.78" ry="2.89" fill="#1c1cf2" transform="rotate(-10 628.38 524.05)"/>
<ellipse cx="634.4" cy="523.08" rx="4.62" ry="2.31" fill="#1c1cf2" transform="rotate(-10 634.4 523.08)"/>
<ellipse cx="624.77" cy="530.31" rx="2.89" ry="1.73" fill="#1c1cf2"/>
<ellipse cx="650.06" cy="529.59" rx="5.2" ry="1.73" fill="#1c1cf2" transform="rotate(-20 650.06 529.59)"/>
<ellipse cx="563.35" cy="529.59" rx="2.31" ry="4.05" fill="#1c1cf2" transform="rotate(-20 563.35 529.59)"/>
<ellipse cx="546.01" cy="536.09" rx="3.47" ry="2.31" fill="#1c1cf2" transform="rotate(30 546.01 536.09)"/>
<ellipse cx="551.31" cy="539.7" rx="4.62" ry="2.89" fill="#1c1cf2" transform="rotate(20 551.31 539.7)"/>
<ellipse cx="561.43" cy="544.04" rx="4.05" ry="2.89" fill="#1c1cf2" transform="rotate(10 561.43 544.04)"/>
<ellipse cx="582.62" cy="536.33" rx="3.47" ry="2.89" fill="#1c1cf2"/>
<ellipse cx="579.73" cy="543.31" rx="4.05" ry="2.31" fill="#1c1cf2" transform="rotate(30 579.73 543.31)"/>
<ellipse cx="597.55" cy="544.76" rx="2.31" ry="4.62" fill="#1c1cf2"/>
<ellipse cx="600.68" cy="551.26" rx="2.31" ry="4.05" fill="#1c1cf2"/>
<ellipse cx="664.51" cy="540.42" rx="3.47" ry="4.05" fill="#1c1cf2"/>
<ellipse cx="571.78" cy="552.47" rx="4.62" ry="3.47" fill="#1c1cf2"/>
<ellipse cx="580.21" cy="553.67" rx="4.05" ry="2.89" fill="#1c1cf2"/>
<ellipse cx="585.51" cy="559.69" rx="4.62" ry="4.05" fill="#1c1cf2"/>
<ellipse cx="575.39" cy="560.9" rx="4.05" ry="3.47" fill="#1c1cf2"/>
<ellipse cx="566.97" cy="559.69" rx="2.89" ry="2.89" fill="#1c1cf2"/>
<ellipse cx="548.9" cy="469.37" rx="2.89" ry="1.73" fill="#1c1cf2"/>
<ellipse cx="623.08" cy="455.65" rx="2.41" ry="2.41" fill="#1a1af8" opacity="0.35"/>
<ellipse cx="678.96" cy="451.31" rx="1.45" ry="1.45" fill="#1a1af8" opacity="0.35"/>
<ellipse cx="580.21" cy="519.23" rx="2.41" ry="1.93" fill="#1a1af8" opacity="0.35"/>
<ellipse cx="534.45" cy="542.83" rx="1.93" ry="1.93" fill="#1a1af8" opacity="0.35"/>
<ellipse cx="611.52" cy="511.52" rx="1.45" ry="2.41" fill="#1a1af8" opacity="0.35"/>
</g>
<circle cx="560.46" cy="463.35" r=".55" fill="#e82020"/>
<circle cx="577.8" cy="479.01" r=".55" fill="#e82020"/>
<circle cx="560.46" cy="481.42" r=".55" fill="#e82020"/>
<circle cx="621.16" cy="460.46" r=".55" fill="#e82020"/>
<circle cx="619.95" cy="444.08" r=".55" fill="#e82020"/>
<circle cx="641.63" cy="503.82" r=".55" fill="#e82020"/>
<circle cx="648.85" cy="501.89" r=".55" fill="#e82020"/>
<circle cx="609.6" cy="527.9" r=".55" fill="#e82020"/>
<circle cx="612.73" cy="552.47" r=".55" fill="#e82020"/>
<circle cx="565.28" cy="556.8" r=".55" fill="#e82020"/>
<circle cx="612.73" cy="423.61" r=".55" fill="#e82020"/>
<circle cx="621.16" cy="423.61" r=".55" fill="#e82020"/>
<circle cx="564.56" cy="522.36" r=".55" fill="#e82020"/>
<text transform="translate(663.3,555.4) scale(1,1.1)" font-size="10.7" font-weight="bold" text-anchor="middle" fill="#e6e6e6">50µm</text>
<line x1="651.5" y1="559.4" x2="671.9" y2="559.4" stroke="#d8d8d8" stroke-width="1"/>
</g>
<rect x="520.8" y="566.8" width="43.7" height="33.2" fill="#020203"/>
<rect x="580.3" y="566.8" width="43.3" height="33.2" fill="#020203"/>
<rect x="639.9" y="566.8" width="43.1" height="33.2" fill="#020203"/>
<circle cx="523.31" cy="567.46" r="0.8" fill="#2020f0"/>
<circle cx="533.04" cy="568.01" r="0.8" fill="#2020f0"/>
<circle cx="539.4" cy="567.85" r="0.8" fill="#2020f0"/>
<circle cx="543.94" cy="567.29" r="0.8" fill="#2020f0"/>
<circle cx="547.06" cy="569.13" r="0.8" fill="#2020f0"/>
<circle cx="560.82" cy="570.24" r="0.8" fill="#2020f0"/>
<circle cx="563.09" cy="573.41" r="0.8" fill="#2020f0"/>
<circle cx="537.78" cy="572.02" r="0.8" fill="#2020f0"/>
<circle cx="539.73" cy="572.02" r="0.8" fill="#2020f0"/>
<circle cx="541.35" cy="572.3" r="0.8" fill="#2020f0"/>
<circle cx="542.97" cy="573.25" r="0.8" fill="#2020f0"/>
<circle cx="540.7" cy="573.97" r="0.8" fill="#2020f0"/>
<circle cx="523.5" cy="574.81" r="0.8" fill="#2020f0"/>
<circle cx="530.19" cy="574.25" r="0.8" fill="#2020f0"/>
<circle cx="534.54" cy="575.36" r="0.8" fill="#2020f0"/>
<circle cx="532.91" cy="576.36" r="0.8" fill="#2020f0"/>
<circle cx="538.75" cy="576.2" r="0.8" fill="#2020f0"/>
<circle cx="542.32" cy="577.48" r="0.8" fill="#2020f0"/>
<circle cx="540.38" cy="578.15" r="0.8" fill="#2020f0"/>
<circle cx="551.08" cy="576.36" r="0.8" fill="#2020f0"/>
<circle cx="552.7" cy="578.26" r="0.8" fill="#2020f0"/>
<circle cx="556.27" cy="577.31" r="0.8" fill="#2020f0"/>
<circle cx="527.4" cy="578.81" r="0.8" fill="#2020f0"/>
<circle cx="534.34" cy="579.82" r="0.8" fill="#2020f0"/>
<circle cx="537.97" cy="580.37" r="0.8" fill="#2020f0"/>
<circle cx="539.4" cy="582.04" r="0.8" fill="#2020f0"/>
<circle cx="539.73" cy="583.83" r="0.8" fill="#2020f0"/>
<circle cx="538.1" cy="584.55" r="0.8" fill="#2020f0"/>
<circle cx="536.16" cy="584.55" r="0.8" fill="#2020f0"/>
<circle cx="534.54" cy="583.16" r="0.8" fill="#2020f0"/>
<circle cx="525.45" cy="580.1" r="0.8" fill="#2020f0"/>
<circle cx="553.03" cy="580.37" r="0.8" fill="#2020f0"/>
<circle cx="555.62" cy="580.37" r="0.8" fill="#2020f0"/>
<circle cx="557.9" cy="579.82" r="0.8" fill="#2020f0"/>
<circle cx="554.33" cy="581.77" r="0.8" fill="#2020f0"/>
<circle cx="556.92" cy="582.04" r="0.8" fill="#2020f0"/>
<circle cx="551.73" cy="582.6" r="0.8" fill="#2020f0"/>
<circle cx="551.08" cy="583.72" r="0.8" fill="#2020f0"/>
<circle cx="558.54" cy="583.16" r="0.8" fill="#2020f0"/>
<circle cx="558.35" cy="585.11" r="0.8" fill="#2020f0"/>
<circle cx="556.27" cy="585.94" r="0.8" fill="#2020f0"/>
<circle cx="554.33" cy="586.5" r="0.8" fill="#2020f0"/>
<circle cx="552.38" cy="585.94" r="0.8" fill="#2020f0"/>
<circle cx="550.76" cy="585.39" r="0.8" fill="#2020f0"/>
<circle cx="561.46" cy="586.5" r="0.8" fill="#2020f0"/>
<circle cx="544.27" cy="585.39" r="0.8" fill="#2020f0"/>
<circle cx="530.97" cy="587.33" r="0.8" fill="#2020f0"/>
<circle cx="532.59" cy="588.84" r="0.8" fill="#2020f0"/>
<circle cx="534.54" cy="589.84" r="0.8" fill="#2020f0"/>
<circle cx="543.94" cy="589.17" r="0.8" fill="#2020f0"/>
<circle cx="547.84" cy="587.33" r="0.8" fill="#2020f0"/>
<circle cx="553.03" cy="588.45" r="0.8" fill="#2020f0"/>
<circle cx="549.78" cy="590.51" r="0.8" fill="#2020f0"/>
<circle cx="551.41" cy="590.29" r="0.8" fill="#2020f0"/>
<circle cx="548.81" cy="591.96" r="0.8" fill="#2020f0"/>
<circle cx="555.62" cy="591.79" r="0.8" fill="#2020f0"/>
<circle cx="532.26" cy="591.79" r="0.8" fill="#2020f0"/>
<circle cx="527.59" cy="593.29" r="0.8" fill="#2020f0"/>
<circle cx="529.02" cy="594.13" r="0.8" fill="#2020f0"/>
<circle cx="531.75" cy="595.13" r="0.8" fill="#2020f0"/>
<circle cx="537.46" cy="593.35" r="0.8" fill="#2020f0"/>
<circle cx="536.68" cy="594.96" r="0.8" fill="#2020f0"/>
<circle cx="541.48" cy="595.3" r="0.8" fill="#2020f0"/>
<circle cx="542.32" cy="596.8" r="0.8" fill="#2020f0"/>
<circle cx="559.52" cy="594.29" r="0.8" fill="#2020f0"/>
<circle cx="534.54" cy="597.08" r="0.8" fill="#2020f0"/>
<circle cx="536.81" cy="597.36" r="0.8" fill="#2020f0"/>
<circle cx="538.23" cy="598.75" r="0.8" fill="#2020f0"/>
<circle cx="535.51" cy="599.03" r="0.8" fill="#2020f0"/>
<circle cx="533.24" cy="598.75" r="0.8" fill="#2020f0"/>
<circle cx="528.37" cy="577.87" r="0.8" fill="#2020f0"/>
<circle cx="659.64" cy="579.88" r=".35" fill="#a01818" opacity=".7"/>
<circle cx="648.61" cy="593.2" r=".35" fill="#a01818" opacity=".7"/>
<circle cx="644.12" cy="583.38" r=".35" fill="#a01818" opacity=".7"/>
<circle cx="674.44" cy="571.98" r=".35" fill="#a01818" opacity=".7"/>
<circle cx="662.75" cy="586.45" r=".35" fill="#a01818" opacity=".7"/>
<circle cx="645.29" cy="580.03" r=".35" fill="#a01818" opacity=".7"/>
<circle cx="667.82" cy="582" r=".35" fill="#a01818" opacity=".7"/>
<circle cx="668.55" cy="574.04" r=".35" fill="#a01818" opacity=".7"/>
<text x="542.5" y="613.6" font-size="11.6" text-anchor="middle" fill="#2B2BF0">DAPI</text>
<text x="602.8" y="613.6" font-size="11.6" text-anchor="middle" fill="#4FE02F">Ki67</text>
<text x="661" y="613.6" font-size="11.6" text-anchor="middle" fill="#F03028">PPIA</text>
<g>
<rect x="67.3" y="724.1" width="25.6" height="21.2" fill="#AEF6F8" stroke="#1a1a1a" stroke-width="0.9"/>
<rect x="105.4" y="707.4" width="25.2" height="37.9" fill="#F8641A" stroke="#1a1a1a" stroke-width="0.9"/>
<path d="M55.3 645.1V778.5H143.7" fill="none" stroke="#1a1a1a" stroke-width="1.1"/>
<line x1="49.8" y1="645.6" x2="55.3" y2="645.6" stroke="#1a1a1a" stroke-width="1.1"/>
<text x="48" y="649.3" font-size="11.8" text-anchor="end" fill="#000">60</text>
<line x1="49.8" y1="678.9" x2="55.3" y2="678.9" stroke="#1a1a1a" stroke-width="1.1"/>
<text x="48" y="682.6" font-size="11.8" text-anchor="end" fill="#000">40</text>
<line x1="49.8" y1="712.1" x2="55.3" y2="712.1" stroke="#1a1a1a" stroke-width="1.1"/>
<text x="48" y="715.8" font-size="11.8" text-anchor="end" fill="#000">20</text>
<line x1="49.8" y1="745.3" x2="55.3" y2="745.3" stroke="#1a1a1a" stroke-width="1.1"/>
<text x="48" y="749" font-size="11.8" text-anchor="end" fill="#000">0</text>
<line x1="49.8" y1="778.5" x2="55.3" y2="778.5" stroke="#1a1a1a" stroke-width="1.1"/>
<text x="48" y="782.2" font-size="11.8" text-anchor="end" fill="#000">-20</text>
<line x1="80.3" y1="778.5" x2="80.3" y2="783.7" stroke="#1a1a1a" stroke-width="1.1"/>
<line x1="118.2" y1="778.5" x2="118.2" y2="783.7" stroke="#1a1a1a" stroke-width="1.1"/>
<line x1="56.9" y1="745.3" x2="143.7" y2="745.3" stroke="#000" stroke-width="1.7" stroke-dasharray="0.01 2.55" stroke-linecap="round"/>
<path d="M74.2 700.2H86.4M80.3 700.2V746.9M74.2 746.9H86.4" fill="none" stroke="#1a1a1a" stroke-width="0.9"/>
<path d="M112.1 696.1H124.3M118.2 696.1V718.7M112.1 718.7H124.3" fill="none" stroke="#1a1a1a" stroke-width="0.9"/>
<circle cx="80.3" cy="662.3" r="2.1" fill="none" stroke="#1a1a1a" stroke-width="0.8"/>
<circle cx="80.3" cy="715.2" r="2.1" fill="none" stroke="#1a1a1a" stroke-width="0.8"/>
<circle cx="80.3" cy="719.9" r="2.1" fill="none" stroke="#1a1a1a" stroke-width="0.8"/>
<circle cx="72.2" cy="728.4" r="2.1" fill="none" stroke="#1a1a1a" stroke-width="0.8"/>
<circle cx="80.3" cy="728.4" r="2.1" fill="none" stroke="#1a1a1a" stroke-width="0.8"/>
<circle cx="88.4" cy="726.6" r="2.1" fill="none" stroke="#1a1a1a" stroke-width="0.8"/>
<circle cx="88.1" cy="733.2" r="2.1" fill="none" stroke="#1a1a1a" stroke-width="0.8"/>
<circle cx="80.3" cy="736.5" r="2.1" fill="none" stroke="#1a1a1a" stroke-width="0.8"/>
<circle cx="76.3" cy="744.3" r="2.1" fill="none" stroke="#1a1a1a" stroke-width="0.8"/>
<circle cx="84.3" cy="743.3" r="2.1" fill="none" stroke="#1a1a1a" stroke-width="0.8"/>
<circle cx="117.9" cy="681.5" r="2.1" fill="none" stroke="#1a1a1a" stroke-width="0.8"/>
<circle cx="123.4" cy="697.8" r="2.1" fill="none" stroke="#1a1a1a" stroke-width="0.8"/>
<circle cx="117.9" cy="700.4" r="2.1" fill="none" stroke="#1a1a1a" stroke-width="0.8"/>
<circle cx="107.3" cy="710.3" r="2.1" fill="none" stroke="#1a1a1a" stroke-width="0.8"/>
<circle cx="112.6" cy="713.3" r="2.1" fill="none" stroke="#1a1a1a" stroke-width="0.8"/>
<circle cx="117.9" cy="711.8" r="2.1" fill="none" stroke="#1a1a1a" stroke-width="0.8"/>
<circle cx="123.4" cy="711.5" r="2.1" fill="none" stroke="#1a1a1a" stroke-width="0.8"/>
<circle cx="128.6" cy="712.8" r="2.1" fill="none" stroke="#1a1a1a" stroke-width="0.8"/>
<circle cx="112.6" cy="718.5" r="2.1" fill="none" stroke="#1a1a1a" stroke-width="0.8"/>
<circle cx="123.4" cy="715.9" r="2.1" fill="none" stroke="#1a1a1a" stroke-width="0.8"/>
<path d="M80.3 649.8V647.6H118.4V676.4" fill="none" stroke="#1a1a1a" stroke-width="0.9"/>
<text x="98.4" y="650" font-size="10.5" text-anchor="middle" fill="#000">**</text>
<text x="80.3" y="794.8" font-size="11.8" text-anchor="middle" fill="#000">Low</text>
<text x="118.2" y="794.8" font-size="11.8" text-anchor="middle" fill="#000">High</text>
<text x="104.3" y="810.4" font-size="14.1" font-weight="bold" text-anchor="middle" fill="#000">BIRC5</text>
<text transform="translate(26.6,697.8) rotate(-90)" font-size="14.1" font-weight="bold" text-anchor="middle" fill="#000">PPIA</text>
</g>
<g>
<rect x="230.3" y="730.5" width="25.6" height="14.1" fill="#AEF6F8" stroke="#1a1a1a" stroke-width="0.9"/>
<rect x="268.2" y="742.3" width="25.6" height="2.3" fill="#F8641A" stroke="#1a1a1a" stroke-width="0.9"/>
<path d="M218.2 644.6V777.7H306.9" fill="none" stroke="#1a1a1a" stroke-width="1.1"/>
<line x1="212.7" y1="645.1" x2="218.2" y2="645.1" stroke="#1a1a1a" stroke-width="1.1"/>
<text x="210" y="648.8" font-size="11.8" text-anchor="end" fill="#000">3</text>
<line x1="212.7" y1="678.3" x2="218.2" y2="678.3" stroke="#1a1a1a" stroke-width="1.1"/>
<text x="210" y="682" font-size="11.8" text-anchor="end" fill="#000">2</text>
<line x1="212.7" y1="711.4" x2="218.2" y2="711.4" stroke="#1a1a1a" stroke-width="1.1"/>
<text x="210" y="715.1" font-size="11.8" text-anchor="end" fill="#000">1</text>
<line x1="212.7" y1="744.6" x2="218.2" y2="744.6" stroke="#1a1a1a" stroke-width="1.1"/>
<text x="210" y="748.3" font-size="11.8" text-anchor="end" fill="#000">0</text>
<line x1="212.7" y1="777.7" x2="218.2" y2="777.7" stroke="#1a1a1a" stroke-width="1.1"/>
<text x="210" y="781.4" font-size="11.8" text-anchor="end" fill="#000">-1</text>
<line x1="243.1" y1="777.7" x2="243.1" y2="782.9" stroke="#1a1a1a" stroke-width="1.1"/>
<line x1="280.8" y1="777.7" x2="280.8" y2="782.9" stroke="#1a1a1a" stroke-width="1.1"/>
<line x1="219.8" y1="744.6" x2="306.9" y2="744.6" stroke="#000" stroke-width="1.7" stroke-dasharray="0.01 2.55" stroke-linecap="round"/>
<path d="M236.9 706.6H249.3M243.1 706.6V754.4M236.9 754.4H249.3" fill="none" stroke="#1a1a1a" stroke-width="0.9"/>
<path d="M274.8 739.3H286.8M280.8 739.3V744.6M274.8 744.6H286.8" fill="none" stroke="#1a1a1a" stroke-width="0.9"/>
<circle cx="243" cy="665.9" r="2.1" fill="none" stroke="#1a1a1a" stroke-width="0.8"/>
<circle cx="243" cy="720.3" r="2.1" fill="none" stroke="#1a1a1a" stroke-width="0.8"/>
<circle cx="243" cy="730.5" r="2.1" fill="none" stroke="#1a1a1a" stroke-width="0.8"/>
<circle cx="232.8" cy="739.8" r="2.1" fill="none" stroke="#1a1a1a" stroke-width="0.8"/>
<circle cx="236.8" cy="738.2" r="2.1" fill="none" stroke="#1a1a1a" stroke-width="0.8"/>
<circle cx="253.6" cy="739.3" r="2.1" fill="none" stroke="#1a1a1a" stroke-width="0.8"/>
<circle cx="241.1" cy="741.4" r="2.1" fill="none" stroke="#1a1a1a" stroke-width="0.8"/>
<circle cx="245.1" cy="741.9" r="2.1" fill="none" stroke="#1a1a1a" stroke-width="0.8"/>
<circle cx="249.6" cy="741.4" r="2.1" fill="none" stroke="#1a1a1a" stroke-width="0.8"/>
<circle cx="236.8" cy="744.1" r="2.1" fill="none" stroke="#1a1a1a" stroke-width="0.8"/>
<circle cx="280.8" cy="734.2" r="2.1" fill="none" stroke="#1a1a1a" stroke-width="0.8"/>
<circle cx="282.4" cy="740.1" r="2.1" fill="none" stroke="#1a1a1a" stroke-width="0.8"/>
<circle cx="273.6" cy="741.9" r="2.1" fill="none" stroke="#1a1a1a" stroke-width="0.8"/>
<circle cx="270.4" cy="743.5" r="2.1" fill="none" stroke="#1a1a1a" stroke-width="0.8"/>
<circle cx="276" cy="743.5" r="2.1" fill="none" stroke="#1a1a1a" stroke-width="0.8"/>
<circle cx="279.2" cy="743.5" r="2.1" fill="none" stroke="#1a1a1a" stroke-width="0.8"/>
<circle cx="282.4" cy="743.8" r="2.1" fill="none" stroke="#1a1a1a" stroke-width="0.8"/>
<circle cx="285.6" cy="743.5" r="2.1" fill="none" stroke="#1a1a1a" stroke-width="0.8"/>
<circle cx="288.8" cy="743.5" r="2.1" fill="none" stroke="#1a1a1a" stroke-width="0.8"/>
<circle cx="291.7" cy="743.5" r="2.1" fill="none" stroke="#1a1a1a" stroke-width="0.8"/>
<path d="M243.1 655.1V650.6H280.8V726.2" fill="none" stroke="#1a1a1a" stroke-width="0.9"/>
<text x="261.7" y="649.9" font-size="10.5" text-anchor="middle" fill="#000">**</text>
<text x="243.1" y="794.5" font-size="11.8" text-anchor="middle" fill="#000">Low</text>
<text x="280.8" y="794.5" font-size="11.8" text-anchor="middle" fill="#000">High</text>
<text x="267" y="810.4" font-size="14.1" font-weight="bold" text-anchor="middle" fill="#000">BIRC5</text>
<text transform="translate(195.4,696.6) rotate(-90)" font-size="14.1" font-weight="bold" text-anchor="middle" fill="#000">CD8</text>
</g>
<g>
<rect x="486.1" y="765.7" width="24.9" height="10.5" fill="#AEF6F8" stroke="#1a1a1a" stroke-width="0.9"/>
<rect x="523.3" y="717.9" width="24.8" height="58.3" fill="#F8641A" stroke="#1a1a1a" stroke-width="0.9"/>
<path d="M474.3 645.8V776.2H560.7" fill="none" stroke="#1a1a1a" stroke-width="1.1"/>
<line x1="468.8" y1="646.3" x2="474.3" y2="646.3" stroke="#1a1a1a" stroke-width="1.1"/>
<text x="466.6" y="650" font-size="11.8" text-anchor="end" fill="#000">2.5</text>
<line x1="468.8" y1="672.3" x2="474.3" y2="672.3" stroke="#1a1a1a" stroke-width="1.1"/>
<text x="466.6" y="676" font-size="11.8" text-anchor="end" fill="#000">2.0</text>
<line x1="468.8" y1="698.3" x2="474.3" y2="698.3" stroke="#1a1a1a" stroke-width="1.1"/>
<text x="466.6" y="702" font-size="11.8" text-anchor="end" fill="#000">1.5</text>
<line x1="468.8" y1="724.2" x2="474.3" y2="724.2" stroke="#1a1a1a" stroke-width="1.1"/>
<text x="466.6" y="727.9" font-size="11.8" text-anchor="end" fill="#000">1.0</text>
<line x1="468.8" y1="750.2" x2="474.3" y2="750.2" stroke="#1a1a1a" stroke-width="1.1"/>
<text x="466.6" y="753.9" font-size="11.8" text-anchor="end" fill="#000">0.5</text>
<line x1="468.8" y1="776.2" x2="474.3" y2="776.2" stroke="#1a1a1a" stroke-width="1.1"/>
<text x="466.6" y="779.9" font-size="11.8" text-anchor="end" fill="#000">0.0</text>
<line x1="498.6" y1="776.2" x2="498.6" y2="781.4" stroke="#1a1a1a" stroke-width="1.1"/>
<line x1="535.6" y1="776.2" x2="535.6" y2="781.4" stroke="#1a1a1a" stroke-width="1.1"/>
<path d="M492.6 759.9H504.6M498.6 759.9V771.2M492.6 771.2H504.6" fill="none" stroke="#1a1a1a" stroke-width="0.9"/>
<path d="M529.4 669.4H541.8M535.6 669.4V766.2M529.4 766.2H541.8" fill="none" stroke="#1a1a1a" stroke-width="0.9"/>
<circle cx="490.3" cy="759.5" r="2.1" fill="none" stroke="#1a1a1a" stroke-width="0.8"/>
<circle cx="498.3" cy="758.6" r="2.1" fill="none" stroke="#1a1a1a" stroke-width="0.8"/>
<circle cx="506.4" cy="760.1" r="2.1" fill="none" stroke="#1a1a1a" stroke-width="0.8"/>
<circle cx="490.3" cy="764.2" r="2.1" fill="none" stroke="#1a1a1a" stroke-width="0.8"/>
<circle cx="498.3" cy="763.2" r="2.1" fill="none" stroke="#1a1a1a" stroke-width="0.8"/>
<circle cx="506.4" cy="764.2" r="2.1" fill="none" stroke="#1a1a1a" stroke-width="0.8"/>
<circle cx="498.3" cy="769.7" r="2.1" fill="none" stroke="#1a1a1a" stroke-width="0.8"/>
<circle cx="490.3" cy="774" r="2.1" fill="none" stroke="#1a1a1a" stroke-width="0.8"/>
<circle cx="506.4" cy="772.5" r="2.1" fill="none" stroke="#1a1a1a" stroke-width="0.8"/>
<circle cx="527.7" cy="659.7" r="2.1" fill="none" stroke="#1a1a1a" stroke-width="0.8"/>
<circle cx="535.6" cy="660.7" r="2.1" fill="none" stroke="#1a1a1a" stroke-width="0.8"/>
<circle cx="543.6" cy="658.4" r="2.1" fill="none" stroke="#1a1a1a" stroke-width="0.8"/>
<circle cx="535.6" cy="671.7" r="2.1" fill="none" stroke="#1a1a1a" stroke-width="0.8"/>
<circle cx="535.6" cy="730" r="2.1" fill="none" stroke="#1a1a1a" stroke-width="0.8"/>
<circle cx="527.7" cy="752.1" r="2.1" fill="none" stroke="#1a1a1a" stroke-width="0.8"/>
<circle cx="535.6" cy="754.9" r="2.1" fill="none" stroke="#1a1a1a" stroke-width="0.8"/>
<circle cx="535.6" cy="759.5" r="2.1" fill="none" stroke="#1a1a1a" stroke-width="0.8"/>
<circle cx="527.7" cy="764.7" r="2.1" fill="none" stroke="#1a1a1a" stroke-width="0.8"/>
<circle cx="543.6" cy="763.2" r="2.1" fill="none" stroke="#1a1a1a" stroke-width="0.8"/>
<path d="M498.6 750.6V643.1H535.6V650.6" fill="none" stroke="#1a1a1a" stroke-width="0.9"/>
<text x="518.5" y="642.3" font-size="10.5" text-anchor="middle" fill="#000">**</text>
<text x="498.6" y="794.5" font-size="11.8" text-anchor="middle" fill="#000">Low</text>
<text x="535.6" y="794.5" font-size="11.8" text-anchor="middle" fill="#000">High</text>
<text x="517.2" y="810.4" font-size="14.1" font-weight="bold" text-anchor="middle" fill="#000">PPIA</text>
<text transform="translate(443.4,697.8) rotate(-90)" font-size="14.1" font-weight="bold" text-anchor="middle" fill="#000">KI67</text>
</g>
</svg>
</body></html>
